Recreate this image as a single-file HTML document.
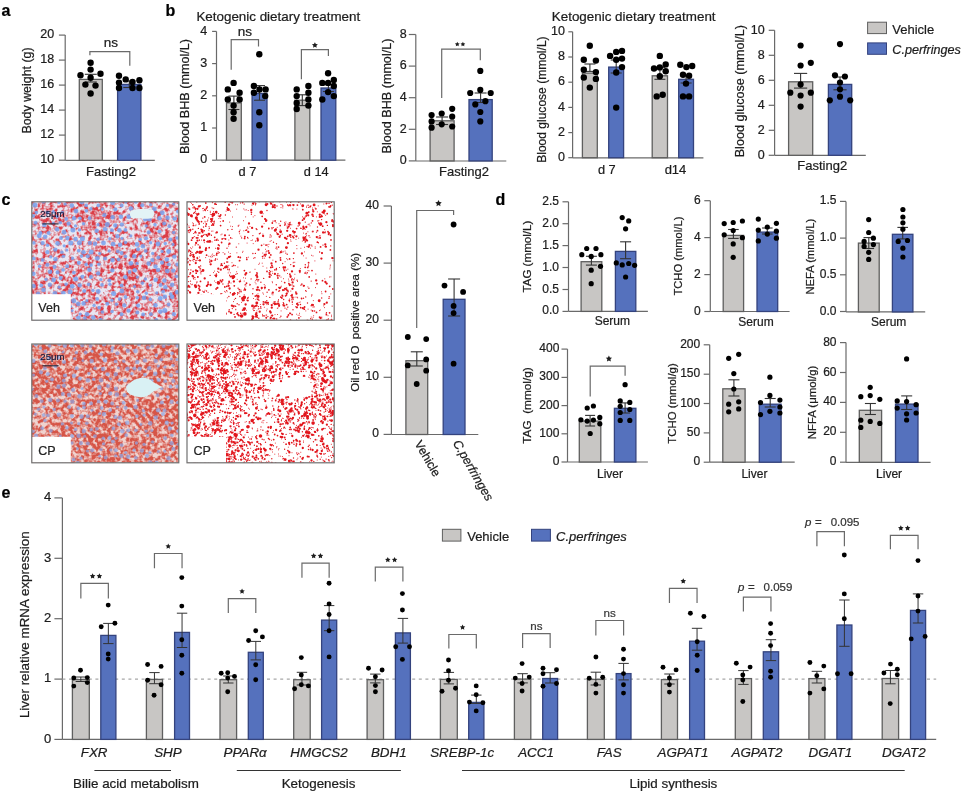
<!DOCTYPE html>
<html><head><meta charset="utf-8"><style>
html,body{margin:0;padding:0;background:#fff;}
body{width:963px;height:792px;overflow:hidden;}
svg{display:block;will-change:transform;}
text{font-family:"Liberation Sans", sans-serif;stroke-width:0.22px;paint-order:stroke;}
</style></head><body>
<svg width="963" height="792" viewBox="0 0 963 792" font-family='"Liberation Sans", sans-serif'><defs>
 <filter id="fred1" x="0" y="0" width="1" height="1" filterUnits="objectBoundingBox" color-interpolation-filters="sRGB">
  <feTurbulence type="fractalNoise" baseFrequency="0.26" numOctaves="2" seed="4" result="t1"/>
  <feColorMatrix in="t1" type="matrix" values="1 0 0 0 0  0 0 0 0 0  0 0 0 0 0  0 0 0 0 1" result="n1"/>
  <feTurbulence type="fractalNoise" baseFrequency="0.035" numOctaves="2" seed="31" result="t2"/>
  <feColorMatrix in="t2" type="matrix" values="1 0 0 0 0  0 0 0 0 0  0 0 0 0 0  0 0 0 0 1" result="n2"/>
  <feComposite in="n1" in2="n2" operator="arithmetic" k1="0" k2="1" k3="0.2" k4="-0.1" result="n"/>
  <feColorMatrix in="n" type="matrix" values="0 0 0 0 0.86  0 0 0 0 0.24  0 0 0 0 0.28  3.3 0 0 0 -1.3"/>
  <feGaussianBlur stdDeviation="0.45"/>
 </filter>
 <filter id="fred2" x="0" y="0" width="1" height="1" filterUnits="objectBoundingBox" color-interpolation-filters="sRGB">
  <feTurbulence type="fractalNoise" baseFrequency="0.26" numOctaves="2" seed="7" result="t1"/>
  <feColorMatrix in="t1" type="matrix" values="1 0 0 0 0  0 0 0 0 0  0 0 0 0 0  0 0 0 0 1" result="n1"/>
  <feTurbulence type="fractalNoise" baseFrequency="0.035" numOctaves="2" seed="33" result="t2"/>
  <feColorMatrix in="t2" type="matrix" values="1 0 0 0 0  0 0 0 0 0  0 0 0 0 0  0 0 0 0 1" result="n2"/>
  <feComposite in="n1" in2="n2" operator="arithmetic" k1="0" k2="1" k3="0.2" k4="-0.1" result="n"/>
  <feColorMatrix in="n" type="matrix" values="0 0 0 0 0.84  0 0 0 0 0.33  0 0 0 0 0.28  3.6 0 0 0 -1.2"/>
  <feGaussianBlur stdDeviation="0.4"/>
 </filter>
 <filter id="fsp1" x="0" y="0" width="1" height="1" filterUnits="objectBoundingBox" color-interpolation-filters="sRGB">
  <feTurbulence type="fractalNoise" baseFrequency="0.36" numOctaves="1" seed="21" result="t1"/>
  <feColorMatrix in="t1" type="matrix" values="1 0 0 0 0  0 0 0 0 0  0 0 0 0 0  0 0 0 0 1" result="n1"/>
  <feTurbulence type="fractalNoise" baseFrequency="0.035" numOctaves="2" seed="35" result="t2"/>
  <feColorMatrix in="t2" type="matrix" values="1 0 0 0 0  0 0 0 0 0  0 0 0 0 0  0 0 0 0 1" result="n2"/>
  <feComposite in="n1" in2="n2" operator="arithmetic" k1="0" k2="1" k3="0.35" k4="-0.175" result="n"/>
  <feColorMatrix in="n" type="matrix" values="0 0 0 0 0.92  0 0 0 0 0.12  0 0 0 0 0.14  14 0 0 0 -8.6"/>
  <feGaussianBlur stdDeviation="0.5"/>
 </filter>
 <filter id="fsp2" x="0" y="0" width="1" height="1" filterUnits="objectBoundingBox" color-interpolation-filters="sRGB">
  <feTurbulence type="fractalNoise" baseFrequency="0.36" numOctaves="1" seed="23" result="t1"/>
  <feColorMatrix in="t1" type="matrix" values="1 0 0 0 0  0 0 0 0 0  0 0 0 0 0  0 0 0 0 1" result="n1"/>
  <feTurbulence type="fractalNoise" baseFrequency="0.035" numOctaves="2" seed="37" result="t2"/>
  <feColorMatrix in="t2" type="matrix" values="1 0 0 0 0  0 0 0 0 0  0 0 0 0 0  0 0 0 0 1" result="n2"/>
  <feComposite in="n1" in2="n2" operator="arithmetic" k1="0" k2="1" k3="0.35" k4="-0.175" result="n"/>
  <feColorMatrix in="n" type="matrix" values="0 0 0 0 0.92  0 0 0 0 0.12  0 0 0 0 0.14  14 0 0 0 -7.6"/>
  <feGaussianBlur stdDeviation="0.5"/>
 </filter>
 <filter id="fbl" x="-5%" y="-5%" width="110%" height="110%"><feGaussianBlur stdDeviation="0.5"/></filter>
 <filter id="fsb" x="-5%" y="-5%" width="110%" height="110%"><feGaussianBlur stdDeviation="0.3"/></filter>
 <filter id="fbl2" x="-5%" y="-5%" width="110%" height="110%"><feGaussianBlur stdDeviation="0.75"/></filter>
 <clipPath id="c1"><rect x="31.8" y="201.8" width="147" height="118.4"/></clipPath>
 <clipPath id="c3"><rect x="31.8" y="344.0" width="147" height="118.8"/></clipPath>
<clipPath id="cl11"><rect x="187.0" y="201.8" width="147.2" height="118.4"/></clipPath><clipPath id="cl17"><rect x="187.0" y="344.0" width="147.2" height="118.8"/></clipPath></defs>
<text x="1.50" y="15.50" font-size="16" text-anchor="start" font-weight="bold" font-style="normal" fill="#000" stroke="#000" >a</text>
<text x="165.50" y="15.50" font-size="16" text-anchor="start" font-weight="bold" font-style="normal" fill="#000" stroke="#000" >b</text>
<text x="1.50" y="204.50" font-size="16" text-anchor="start" font-weight="bold" font-style="normal" fill="#000" stroke="#000" >c</text>
<text x="495.50" y="204.50" font-size="16" text-anchor="start" font-weight="bold" font-style="normal" fill="#000" stroke="#000" >d</text>
<text x="1.50" y="498.00" font-size="16" text-anchor="start" font-weight="bold" font-style="normal" fill="#000" stroke="#000" >e</text>
<line x1="65.20" y1="35.10" x2="65.20" y2="160.30" stroke="#6a6a6a" stroke-width="1.2" />
<line x1="65.20" y1="160.30" x2="154.80" y2="160.30" stroke="#6a6a6a" stroke-width="1.2" />
<line x1="58.90" y1="35.10" x2="65.20" y2="35.10" stroke="#6a6a6a" stroke-width="1.2" />
<text x="54.20" y="38.30" font-size="12.5" text-anchor="end" font-weight="normal" font-style="normal" fill="#1c1c1c" stroke="#1c1c1c" >20</text>
<line x1="58.90" y1="60.10" x2="65.20" y2="60.10" stroke="#6a6a6a" stroke-width="1.2" />
<text x="54.20" y="63.30" font-size="12.5" text-anchor="end" font-weight="normal" font-style="normal" fill="#1c1c1c" stroke="#1c1c1c" >18</text>
<line x1="58.90" y1="85.10" x2="65.20" y2="85.10" stroke="#6a6a6a" stroke-width="1.2" />
<text x="54.20" y="88.30" font-size="12.5" text-anchor="end" font-weight="normal" font-style="normal" fill="#1c1c1c" stroke="#1c1c1c" >16</text>
<line x1="58.90" y1="110.10" x2="65.20" y2="110.10" stroke="#6a6a6a" stroke-width="1.2" />
<text x="54.20" y="113.30" font-size="12.5" text-anchor="end" font-weight="normal" font-style="normal" fill="#1c1c1c" stroke="#1c1c1c" >14</text>
<line x1="58.90" y1="135.10" x2="65.20" y2="135.10" stroke="#6a6a6a" stroke-width="1.2" />
<text x="54.20" y="138.30" font-size="12.5" text-anchor="end" font-weight="normal" font-style="normal" fill="#1c1c1c" stroke="#1c1c1c" >12</text>
<line x1="58.90" y1="160.20" x2="65.20" y2="160.20" stroke="#6a6a6a" stroke-width="1.2" />
<text x="54.20" y="163.40" font-size="12.5" text-anchor="end" font-weight="normal" font-style="normal" fill="#1c1c1c" stroke="#1c1c1c" >10</text>
<rect x="79.30" y="79.40" width="23.00" height="80.90" fill="#c8c6c4" stroke="#5f5f5f" stroke-width="1.3"/>
<rect x="117.60" y="84.40" width="23.30" height="75.90" fill="#5571bd" stroke="#34437e" stroke-width="1.3"/>
<line x1="90.80" y1="74.30" x2="90.80" y2="82.00" stroke="#333" stroke-width="1.1" />
<line x1="84.80" y1="74.30" x2="96.80" y2="74.30" stroke="#333" stroke-width="1.1" />
<line x1="84.80" y1="82.00" x2="96.80" y2="82.00" stroke="#333" stroke-width="1.1" />
<line x1="129.30" y1="81.00" x2="129.30" y2="87.50" stroke="#333" stroke-width="1.1" />
<line x1="123.30" y1="81.00" x2="135.30" y2="81.00" stroke="#333" stroke-width="1.1" />
<line x1="123.30" y1="87.50" x2="135.30" y2="87.50" stroke="#333" stroke-width="1.1" />
<circle cx="90.60" cy="62.80" r="3.2" fill="#000"/>
<circle cx="90.60" cy="69.60" r="3.2" fill="#000"/>
<circle cx="80.50" cy="75.30" r="3.2" fill="#000"/>
<circle cx="100.50" cy="73.80" r="3.2" fill="#000"/>
<circle cx="90.60" cy="77.70" r="3.2" fill="#000"/>
<circle cx="85.40" cy="84.60" r="3.2" fill="#000"/>
<circle cx="95.50" cy="85.60" r="3.2" fill="#000"/>
<circle cx="90.60" cy="93.50" r="3.2" fill="#000"/>
<circle cx="119.00" cy="75.80" r="3.2" fill="#000"/>
<circle cx="125.70" cy="79.40" r="3.2" fill="#000"/>
<circle cx="132.50" cy="82.00" r="3.2" fill="#000"/>
<circle cx="139.40" cy="80.20" r="3.2" fill="#000"/>
<circle cx="119.00" cy="82.60" r="3.2" fill="#000"/>
<circle cx="119.00" cy="88.00" r="3.2" fill="#000"/>
<circle cx="132.50" cy="88.00" r="3.2" fill="#000"/>
<circle cx="139.40" cy="88.00" r="3.2" fill="#000"/>
<polyline points="89.90,55.30 89.90,51.70 129.80,51.70 129.80,65.70" fill="none" stroke="#6a6a6a" stroke-width="1.2"/>
<text x="110.90" y="46.50" font-size="13.5" text-anchor="middle" font-weight="normal" font-style="normal" fill="#1c1c1c" stroke="#1c1c1c" >ns</text>
<text x="111.00" y="175.60" font-size="13" text-anchor="middle" font-weight="normal" font-style="normal" fill="#1c1c1c" stroke="#1c1c1c" >Fasting2</text>
<text x="31.40" y="90.50" font-size="12.4" text-anchor="middle" font-weight="normal" font-style="normal" fill="#1c1c1c" stroke="#1c1c1c" transform="rotate(-90 31.40 90.50)" >Body weight (g)</text>
<text x="196.40" y="20.90" font-size="13.4" text-anchor="start" font-weight="normal" font-style="normal" fill="#1c1c1c" stroke="#1c1c1c" >Ketogenic dietary treatment</text>
<line x1="216.50" y1="31.40" x2="216.50" y2="160.20" stroke="#6a6a6a" stroke-width="1.2" />
<line x1="216.50" y1="160.20" x2="345.40" y2="160.20" stroke="#6a6a6a" stroke-width="1.2" />
<line x1="212.10" y1="31.40" x2="216.50" y2="31.40" stroke="#6a6a6a" stroke-width="1.2" />
<text x="207.20" y="34.60" font-size="12.5" text-anchor="end" font-weight="normal" font-style="normal" fill="#1c1c1c" stroke="#1c1c1c" >4</text>
<line x1="212.10" y1="63.60" x2="216.50" y2="63.60" stroke="#6a6a6a" stroke-width="1.2" />
<text x="207.20" y="66.80" font-size="12.5" text-anchor="end" font-weight="normal" font-style="normal" fill="#1c1c1c" stroke="#1c1c1c" >3</text>
<line x1="212.10" y1="95.80" x2="216.50" y2="95.80" stroke="#6a6a6a" stroke-width="1.2" />
<text x="207.20" y="99.00" font-size="12.5" text-anchor="end" font-weight="normal" font-style="normal" fill="#1c1c1c" stroke="#1c1c1c" >2</text>
<line x1="212.10" y1="128.00" x2="216.50" y2="128.00" stroke="#6a6a6a" stroke-width="1.2" />
<text x="207.20" y="131.20" font-size="12.5" text-anchor="end" font-weight="normal" font-style="normal" fill="#1c1c1c" stroke="#1c1c1c" >1</text>
<line x1="212.10" y1="160.20" x2="216.50" y2="160.20" stroke="#6a6a6a" stroke-width="1.2" />
<text x="207.20" y="163.40" font-size="12.5" text-anchor="end" font-weight="normal" font-style="normal" fill="#1c1c1c" stroke="#1c1c1c" >0</text>
<rect x="226.50" y="102.90" width="14.80" height="57.30" fill="#c8c6c4" stroke="#5f5f5f" stroke-width="1.3"/>
<rect x="252.10" y="93.40" width="14.90" height="66.80" fill="#5571bd" stroke="#34437e" stroke-width="1.3"/>
<rect x="294.90" y="100.20" width="14.90" height="60.00" fill="#c8c6c4" stroke="#5f5f5f" stroke-width="1.3"/>
<rect x="321.00" y="88.00" width="14.80" height="72.20" fill="#5571bd" stroke="#34437e" stroke-width="1.3"/>
<line x1="233.90" y1="96.10" x2="233.90" y2="109.50" stroke="#333" stroke-width="1.1" />
<line x1="228.40" y1="96.10" x2="239.40" y2="96.10" stroke="#333" stroke-width="1.1" />
<line x1="228.40" y1="109.50" x2="239.40" y2="109.50" stroke="#333" stroke-width="1.1" />
<line x1="259.50" y1="85.60" x2="259.50" y2="100.20" stroke="#333" stroke-width="1.1" />
<line x1="254.00" y1="85.60" x2="265.00" y2="85.60" stroke="#333" stroke-width="1.1" />
<line x1="254.00" y1="100.20" x2="265.00" y2="100.20" stroke="#333" stroke-width="1.1" />
<line x1="302.30" y1="94.80" x2="302.30" y2="105.60" stroke="#333" stroke-width="1.1" />
<line x1="296.80" y1="94.80" x2="307.80" y2="94.80" stroke="#333" stroke-width="1.1" />
<line x1="296.80" y1="105.60" x2="307.80" y2="105.60" stroke="#333" stroke-width="1.1" />
<line x1="328.40" y1="84.70" x2="328.40" y2="91.50" stroke="#333" stroke-width="1.1" />
<line x1="322.90" y1="84.70" x2="333.90" y2="84.70" stroke="#333" stroke-width="1.1" />
<line x1="322.90" y1="91.50" x2="333.90" y2="91.50" stroke="#333" stroke-width="1.1" />
<circle cx="233.60" cy="82.90" r="3.2" fill="#000"/>
<circle cx="227.80" cy="89.40" r="3.2" fill="#000"/>
<circle cx="239.60" cy="92.80" r="3.2" fill="#000"/>
<circle cx="227.80" cy="99.50" r="3.2" fill="#000"/>
<circle cx="239.60" cy="99.50" r="3.2" fill="#000"/>
<circle cx="233.60" cy="105.60" r="3.2" fill="#000"/>
<circle cx="233.60" cy="112.30" r="3.2" fill="#000"/>
<circle cx="233.60" cy="118.80" r="3.2" fill="#000"/>
<circle cx="259.30" cy="54.30" r="3.2" fill="#000"/>
<circle cx="253.90" cy="86.00" r="3.2" fill="#000"/>
<circle cx="259.50" cy="89.40" r="3.2" fill="#000"/>
<circle cx="265.60" cy="89.40" r="3.2" fill="#000"/>
<circle cx="253.90" cy="92.80" r="3.2" fill="#000"/>
<circle cx="265.20" cy="96.10" r="3.2" fill="#000"/>
<circle cx="259.30" cy="112.30" r="3.2" fill="#000"/>
<circle cx="259.30" cy="125.20" r="3.2" fill="#000"/>
<circle cx="296.70" cy="89.40" r="3.2" fill="#000"/>
<circle cx="308.40" cy="86.00" r="3.2" fill="#000"/>
<circle cx="296.70" cy="96.10" r="3.2" fill="#000"/>
<circle cx="308.40" cy="92.80" r="3.2" fill="#000"/>
<circle cx="296.70" cy="102.90" r="3.2" fill="#000"/>
<circle cx="308.40" cy="99.50" r="3.2" fill="#000"/>
<circle cx="296.70" cy="109.00" r="3.2" fill="#000"/>
<circle cx="308.40" cy="105.60" r="3.2" fill="#000"/>
<circle cx="328.10" cy="73.20" r="3.2" fill="#000"/>
<circle cx="333.80" cy="80.00" r="3.2" fill="#000"/>
<circle cx="322.30" cy="82.90" r="3.2" fill="#000"/>
<circle cx="328.10" cy="82.90" r="3.2" fill="#000"/>
<circle cx="333.80" cy="86.00" r="3.2" fill="#000"/>
<circle cx="328.10" cy="92.10" r="3.2" fill="#000"/>
<circle cx="322.30" cy="99.50" r="3.2" fill="#000"/>
<circle cx="333.80" cy="96.10" r="3.2" fill="#000"/>
<polyline points="231.20,69.80 231.20,39.70 258.50,39.70 258.50,46.50" fill="none" stroke="#6a6a6a" stroke-width="1.2"/>
<text x="245.00" y="35.50" font-size="13.5" text-anchor="middle" font-weight="normal" font-style="normal" fill="#1c1c1c" stroke="#1c1c1c" >ns</text>
<polyline points="301.40,79.30 301.40,49.60 328.40,49.60 328.40,55.90" fill="none" stroke="#6a6a6a" stroke-width="1.2"/>
<polygon points="314.90,42.20 315.81,44.05 317.85,44.34 316.37,45.78 316.72,47.81 314.90,46.85 313.08,47.81 313.43,45.78 311.95,44.34 313.99,44.05" fill="#1e1e1e"/>
<text x="247.50" y="175.50" font-size="12.8" text-anchor="middle" font-weight="normal" font-style="normal" fill="#1c1c1c" stroke="#1c1c1c" >d 7</text>
<text x="316.20" y="175.50" font-size="12.8" text-anchor="middle" font-weight="normal" font-style="normal" fill="#1c1c1c" stroke="#1c1c1c" >d 14</text>
<text x="189.00" y="96.50" font-size="12.6" text-anchor="middle" font-weight="normal" font-style="normal" fill="#1c1c1c" stroke="#1c1c1c" transform="rotate(-90 189.00 96.50)" >Blood BHB (mmol/L)</text>
<line x1="415.80" y1="34.50" x2="415.80" y2="161.00" stroke="#6a6a6a" stroke-width="1.2" />
<line x1="415.80" y1="161.00" x2="506.30" y2="161.00" stroke="#6a6a6a" stroke-width="1.2" />
<line x1="408.80" y1="34.50" x2="415.80" y2="34.50" stroke="#6a6a6a" stroke-width="1.2" />
<text x="406.70" y="37.70" font-size="12.5" text-anchor="end" font-weight="normal" font-style="normal" fill="#1c1c1c" stroke="#1c1c1c" >8</text>
<line x1="408.80" y1="66.10" x2="415.80" y2="66.10" stroke="#6a6a6a" stroke-width="1.2" />
<text x="406.70" y="69.30" font-size="12.5" text-anchor="end" font-weight="normal" font-style="normal" fill="#1c1c1c" stroke="#1c1c1c" >6</text>
<line x1="408.80" y1="97.70" x2="415.80" y2="97.70" stroke="#6a6a6a" stroke-width="1.2" />
<text x="406.70" y="100.90" font-size="12.5" text-anchor="end" font-weight="normal" font-style="normal" fill="#1c1c1c" stroke="#1c1c1c" >4</text>
<line x1="408.80" y1="129.30" x2="415.80" y2="129.30" stroke="#6a6a6a" stroke-width="1.2" />
<text x="406.70" y="132.50" font-size="12.5" text-anchor="end" font-weight="normal" font-style="normal" fill="#1c1c1c" stroke="#1c1c1c" >2</text>
<line x1="408.80" y1="160.90" x2="415.80" y2="160.90" stroke="#6a6a6a" stroke-width="1.2" />
<text x="406.70" y="164.10" font-size="12.5" text-anchor="end" font-weight="normal" font-style="normal" fill="#1c1c1c" stroke="#1c1c1c" >0</text>
<rect x="430.10" y="120.80" width="24.00" height="40.10" fill="#c8c6c4" stroke="#5f5f5f" stroke-width="1.3"/>
<rect x="469.00" y="99.60" width="23.20" height="61.30" fill="#5571bd" stroke="#34437e" stroke-width="1.3"/>
<line x1="442.10" y1="117.00" x2="442.10" y2="124.50" stroke="#333" stroke-width="1.1" />
<line x1="436.10" y1="117.00" x2="448.10" y2="117.00" stroke="#333" stroke-width="1.1" />
<line x1="436.10" y1="124.50" x2="448.10" y2="124.50" stroke="#333" stroke-width="1.1" />
<line x1="480.60" y1="93.00" x2="480.60" y2="102.50" stroke="#333" stroke-width="1.1" />
<line x1="474.60" y1="93.00" x2="486.60" y2="93.00" stroke="#333" stroke-width="1.1" />
<line x1="474.60" y1="102.50" x2="486.60" y2="102.50" stroke="#333" stroke-width="1.1" />
<circle cx="431.60" cy="115.10" r="3.1" fill="#000"/>
<circle cx="441.70" cy="113.50" r="3.1" fill="#000"/>
<circle cx="452.20" cy="108.80" r="3.1" fill="#000"/>
<circle cx="431.60" cy="121.40" r="3.1" fill="#000"/>
<circle cx="452.20" cy="116.70" r="3.1" fill="#000"/>
<circle cx="441.70" cy="124.30" r="3.1" fill="#000"/>
<circle cx="431.60" cy="127.70" r="3.1" fill="#000"/>
<circle cx="452.20" cy="126.50" r="3.1" fill="#000"/>
<circle cx="480.30" cy="70.90" r="3.1" fill="#000"/>
<circle cx="480.30" cy="89.90" r="3.1" fill="#000"/>
<circle cx="470.20" cy="93.00" r="3.1" fill="#000"/>
<circle cx="490.70" cy="93.00" r="3.1" fill="#000"/>
<circle cx="485.40" cy="101.20" r="3.1" fill="#000"/>
<circle cx="475.30" cy="104.40" r="3.1" fill="#000"/>
<circle cx="480.30" cy="112.00" r="3.1" fill="#000"/>
<circle cx="480.30" cy="121.40" r="3.1" fill="#000"/>
<polyline points="441.70,98.10 441.70,49.10 480.30,49.10 480.30,60.20" fill="none" stroke="#6a6a6a" stroke-width="1.2"/>
<polygon points="457.30,41.80 458.03,43.29 459.68,43.53 458.49,44.69 458.77,46.32 457.30,45.55 455.83,46.32 456.11,44.69 454.92,43.53 456.57,43.29" fill="#1e1e1e"/>
<polygon points="462.90,41.80 463.63,43.29 465.28,43.53 464.09,44.69 464.37,46.32 462.90,45.55 461.43,46.32 461.71,44.69 460.52,43.53 462.17,43.29" fill="#1e1e1e"/>
<text x="464.00" y="175.50" font-size="13" text-anchor="middle" font-weight="normal" font-style="normal" fill="#1c1c1c" stroke="#1c1c1c" >Fasting2</text>
<text x="391.20" y="96.00" font-size="12.6" text-anchor="middle" font-weight="normal" font-style="normal" fill="#1c1c1c" stroke="#1c1c1c" transform="rotate(-90 391.20 96.00)" >Blood BHB (mmol/L)</text>
<text x="551.80" y="20.90" font-size="13.4" text-anchor="start" font-weight="normal" font-style="normal" fill="#1c1c1c" stroke="#1c1c1c" >Ketogenic dietary treatment</text>
<line x1="572.60" y1="31.80" x2="572.60" y2="157.90" stroke="#6a6a6a" stroke-width="1.2" />
<line x1="572.60" y1="157.90" x2="703.40" y2="157.90" stroke="#6a6a6a" stroke-width="1.2" />
<line x1="568.30" y1="31.80" x2="572.60" y2="31.80" stroke="#6a6a6a" stroke-width="1.2" />
<text x="565.00" y="35.00" font-size="12.5" text-anchor="end" font-weight="normal" font-style="normal" fill="#1c1c1c" stroke="#1c1c1c" >10</text>
<line x1="568.30" y1="57.00" x2="572.60" y2="57.00" stroke="#6a6a6a" stroke-width="1.2" />
<text x="565.00" y="60.20" font-size="12.5" text-anchor="end" font-weight="normal" font-style="normal" fill="#1c1c1c" stroke="#1c1c1c" >8</text>
<line x1="568.30" y1="82.20" x2="572.60" y2="82.20" stroke="#6a6a6a" stroke-width="1.2" />
<text x="565.00" y="85.40" font-size="12.5" text-anchor="end" font-weight="normal" font-style="normal" fill="#1c1c1c" stroke="#1c1c1c" >6</text>
<line x1="568.30" y1="107.40" x2="572.60" y2="107.40" stroke="#6a6a6a" stroke-width="1.2" />
<text x="565.00" y="110.60" font-size="12.5" text-anchor="end" font-weight="normal" font-style="normal" fill="#1c1c1c" stroke="#1c1c1c" >4</text>
<line x1="568.30" y1="132.60" x2="572.60" y2="132.60" stroke="#6a6a6a" stroke-width="1.2" />
<text x="565.00" y="135.80" font-size="12.5" text-anchor="end" font-weight="normal" font-style="normal" fill="#1c1c1c" stroke="#1c1c1c" >2</text>
<line x1="568.30" y1="157.70" x2="572.60" y2="157.70" stroke="#6a6a6a" stroke-width="1.2" />
<text x="565.00" y="160.90" font-size="12.5" text-anchor="end" font-weight="normal" font-style="normal" fill="#1c1c1c" stroke="#1c1c1c" >0</text>
<rect x="582.40" y="73.10" width="14.90" height="84.60" fill="#c8c6c4" stroke="#5f5f5f" stroke-width="1.3"/>
<rect x="608.70" y="67.10" width="14.90" height="90.60" fill="#5571bd" stroke="#34437e" stroke-width="1.3"/>
<rect x="652.20" y="75.80" width="15.30" height="81.90" fill="#c8c6c4" stroke="#5f5f5f" stroke-width="1.3"/>
<rect x="678.70" y="79.30" width="14.80" height="78.40" fill="#5571bd" stroke="#34437e" stroke-width="1.3"/>
<line x1="589.90" y1="64.00" x2="589.90" y2="71.40" stroke="#333" stroke-width="1.1" />
<line x1="584.40" y1="64.00" x2="595.40" y2="64.00" stroke="#333" stroke-width="1.1" />
<line x1="584.40" y1="71.40" x2="595.40" y2="71.40" stroke="#333" stroke-width="1.1" />
<line x1="616.20" y1="60.00" x2="616.20" y2="73.00" stroke="#333" stroke-width="1.1" />
<line x1="610.70" y1="60.00" x2="621.70" y2="60.00" stroke="#333" stroke-width="1.1" />
<line x1="610.70" y1="73.00" x2="621.70" y2="73.00" stroke="#333" stroke-width="1.1" />
<line x1="659.90" y1="67.40" x2="659.90" y2="79.30" stroke="#333" stroke-width="1.1" />
<line x1="654.40" y1="67.40" x2="665.40" y2="67.40" stroke="#333" stroke-width="1.1" />
<line x1="654.40" y1="79.30" x2="665.40" y2="79.30" stroke="#333" stroke-width="1.1" />
<line x1="686.10" y1="75.50" x2="686.10" y2="83.00" stroke="#333" stroke-width="1.1" />
<line x1="680.60" y1="75.50" x2="691.60" y2="75.50" stroke="#333" stroke-width="1.1" />
<line x1="680.60" y1="83.00" x2="691.60" y2="83.00" stroke="#333" stroke-width="1.1" />
<circle cx="589.80" cy="45.80" r="3.2" fill="#000"/>
<circle cx="583.80" cy="59.70" r="3.2" fill="#000"/>
<circle cx="595.90" cy="60.60" r="3.2" fill="#000"/>
<circle cx="583.80" cy="69.80" r="3.2" fill="#000"/>
<circle cx="595.90" cy="72.10" r="3.2" fill="#000"/>
<circle cx="583.80" cy="77.50" r="3.2" fill="#000"/>
<circle cx="595.90" cy="78.90" r="3.2" fill="#000"/>
<circle cx="589.80" cy="87.60" r="3.2" fill="#000"/>
<circle cx="616.20" cy="51.90" r="3.2" fill="#000"/>
<circle cx="622.00" cy="50.90" r="3.2" fill="#000"/>
<circle cx="610.10" cy="55.90" r="3.2" fill="#000"/>
<circle cx="616.20" cy="59.70" r="3.2" fill="#000"/>
<circle cx="622.00" cy="58.60" r="3.2" fill="#000"/>
<circle cx="622.00" cy="67.10" r="3.2" fill="#000"/>
<circle cx="616.20" cy="72.50" r="3.2" fill="#000"/>
<circle cx="616.20" cy="107.60" r="3.2" fill="#000"/>
<circle cx="659.80" cy="55.90" r="3.2" fill="#000"/>
<circle cx="665.70" cy="64.40" r="3.2" fill="#000"/>
<circle cx="654.00" cy="68.50" r="3.2" fill="#000"/>
<circle cx="659.80" cy="67.40" r="3.2" fill="#000"/>
<circle cx="665.70" cy="71.20" r="3.2" fill="#000"/>
<circle cx="659.80" cy="76.20" r="3.2" fill="#000"/>
<circle cx="656.70" cy="96.40" r="3.2" fill="#000"/>
<circle cx="662.70" cy="94.70" r="3.2" fill="#000"/>
<circle cx="680.30" cy="64.70" r="3.2" fill="#000"/>
<circle cx="686.40" cy="67.10" r="3.2" fill="#000"/>
<circle cx="692.20" cy="66.00" r="3.2" fill="#000"/>
<circle cx="683.00" cy="74.80" r="3.2" fill="#000"/>
<circle cx="689.10" cy="75.80" r="3.2" fill="#000"/>
<circle cx="686.00" cy="83.60" r="3.2" fill="#000"/>
<circle cx="683.00" cy="96.40" r="3.2" fill="#000"/>
<circle cx="689.10" cy="96.40" r="3.2" fill="#000"/>
<text x="606.80" y="174.00" font-size="12.8" text-anchor="middle" font-weight="normal" font-style="normal" fill="#1c1c1c" stroke="#1c1c1c" >d 7</text>
<text x="675.50" y="174.00" font-size="13" text-anchor="middle" font-weight="normal" font-style="normal" fill="#1c1c1c" stroke="#1c1c1c" >d14</text>
<text x="545.70" y="99.60" font-size="12.04" text-anchor="middle" font-weight="normal" font-style="normal" fill="#1c1c1c" stroke="#1c1c1c" transform="rotate(-90 545.70 99.60)" >Blood glucose (mmol/L)</text>
<line x1="774.60" y1="30.30" x2="774.60" y2="155.30" stroke="#6a6a6a" stroke-width="1.2" />
<line x1="774.60" y1="155.30" x2="865.80" y2="155.30" stroke="#6a6a6a" stroke-width="1.2" />
<line x1="768.70" y1="30.30" x2="774.60" y2="30.30" stroke="#6a6a6a" stroke-width="1.2" />
<text x="764.60" y="33.50" font-size="12.5" text-anchor="end" font-weight="normal" font-style="normal" fill="#1c1c1c" stroke="#1c1c1c" >10</text>
<line x1="768.70" y1="55.30" x2="774.60" y2="55.30" stroke="#6a6a6a" stroke-width="1.2" />
<text x="764.60" y="58.50" font-size="12.5" text-anchor="end" font-weight="normal" font-style="normal" fill="#1c1c1c" stroke="#1c1c1c" >8</text>
<line x1="768.70" y1="80.30" x2="774.60" y2="80.30" stroke="#6a6a6a" stroke-width="1.2" />
<text x="764.60" y="83.50" font-size="12.5" text-anchor="end" font-weight="normal" font-style="normal" fill="#1c1c1c" stroke="#1c1c1c" >6</text>
<line x1="768.70" y1="105.30" x2="774.60" y2="105.30" stroke="#6a6a6a" stroke-width="1.2" />
<text x="764.60" y="108.50" font-size="12.5" text-anchor="end" font-weight="normal" font-style="normal" fill="#1c1c1c" stroke="#1c1c1c" >4</text>
<line x1="768.70" y1="130.30" x2="774.60" y2="130.30" stroke="#6a6a6a" stroke-width="1.2" />
<text x="764.60" y="133.50" font-size="12.5" text-anchor="end" font-weight="normal" font-style="normal" fill="#1c1c1c" stroke="#1c1c1c" >2</text>
<line x1="768.70" y1="155.30" x2="774.60" y2="155.30" stroke="#6a6a6a" stroke-width="1.2" />
<text x="764.60" y="158.50" font-size="12.5" text-anchor="end" font-weight="normal" font-style="normal" fill="#1c1c1c" stroke="#1c1c1c" >0</text>
<rect x="788.60" y="81.80" width="24.10" height="73.50" fill="#c8c6c4" stroke="#5f5f5f" stroke-width="1.3"/>
<rect x="828.40" y="84.40" width="23.30" height="70.90" fill="#5571bd" stroke="#34437e" stroke-width="1.3"/>
<line x1="800.60" y1="73.40" x2="800.60" y2="88.10" stroke="#333" stroke-width="1.1" />
<line x1="794.00" y1="73.40" x2="807.20" y2="73.40" stroke="#333" stroke-width="1.1" />
<line x1="794.00" y1="88.10" x2="807.20" y2="88.10" stroke="#333" stroke-width="1.1" />
<line x1="840.00" y1="77.00" x2="840.00" y2="89.80" stroke="#333" stroke-width="1.1" />
<line x1="833.40" y1="77.00" x2="846.60" y2="77.00" stroke="#333" stroke-width="1.1" />
<line x1="833.40" y1="89.80" x2="846.60" y2="89.80" stroke="#333" stroke-width="1.1" />
<circle cx="800.60" cy="45.50" r="3.1" fill="#000"/>
<circle cx="800.60" cy="65.50" r="3.1" fill="#000"/>
<circle cx="810.80" cy="62.80" r="3.1" fill="#000"/>
<circle cx="800.60" cy="84.40" r="3.1" fill="#000"/>
<circle cx="790.30" cy="92.70" r="3.1" fill="#000"/>
<circle cx="810.80" cy="92.70" r="3.1" fill="#000"/>
<circle cx="800.60" cy="95.50" r="3.1" fill="#000"/>
<circle cx="800.60" cy="106.60" r="3.1" fill="#000"/>
<circle cx="840.00" cy="44.10" r="3.1" fill="#000"/>
<circle cx="835.00" cy="75.30" r="3.1" fill="#000"/>
<circle cx="844.90" cy="76.50" r="3.1" fill="#000"/>
<circle cx="840.00" cy="82.50" r="3.1" fill="#000"/>
<circle cx="840.00" cy="89.30" r="3.1" fill="#000"/>
<circle cx="840.00" cy="96.70" r="3.1" fill="#000"/>
<circle cx="829.80" cy="100.30" r="3.1" fill="#000"/>
<circle cx="850.20" cy="100.30" r="3.1" fill="#000"/>
<text x="822.20" y="170.30" font-size="13" text-anchor="middle" font-weight="normal" font-style="normal" fill="#1c1c1c" stroke="#1c1c1c" >Fasting2</text>
<text x="743.90" y="91.20" font-size="12.58" text-anchor="middle" font-weight="normal" font-style="normal" fill="#1c1c1c" stroke="#1c1c1c" transform="rotate(-90 743.90 91.20)" >Blood glucose (mmol/L)</text>
<rect x="867.60" y="22.20" width="18.90" height="11.40" fill="#c8c6c4" stroke="#5f5f5f" stroke-width="1"/>
<rect x="867.60" y="42.90" width="18.90" height="11.40" fill="#5571bd" stroke="#34437e" stroke-width="1"/>
<text x="892.30" y="34.00" font-size="13" text-anchor="start" font-weight="normal" font-style="normal" fill="#1c1c1c" stroke="#1c1c1c" >Vehicle</text>
<text x="892.30" y="54.30" font-size="12.6" text-anchor="start" font-weight="normal" font-style="italic" fill="#1c1c1c" stroke="#1c1c1c" >C.perfringes</text>
<line x1="391.40" y1="206.00" x2="391.40" y2="434.50" stroke="#6a6a6a" stroke-width="1.2" />
<line x1="391.40" y1="434.50" x2="478.30" y2="434.50" stroke="#6a6a6a" stroke-width="1.2" />
<line x1="383.60" y1="206.00" x2="391.40" y2="206.00" stroke="#6a6a6a" stroke-width="1.2" />
<text x="378.90" y="209.02" font-size="12" text-anchor="end" font-weight="normal" font-style="normal" fill="#1c1c1c" stroke="#1c1c1c" >40</text>
<line x1="383.60" y1="263.10" x2="391.40" y2="263.10" stroke="#6a6a6a" stroke-width="1.2" />
<text x="378.90" y="266.12" font-size="12" text-anchor="end" font-weight="normal" font-style="normal" fill="#1c1c1c" stroke="#1c1c1c" >30</text>
<line x1="383.60" y1="320.20" x2="391.40" y2="320.20" stroke="#6a6a6a" stroke-width="1.2" />
<text x="378.90" y="323.22" font-size="12" text-anchor="end" font-weight="normal" font-style="normal" fill="#1c1c1c" stroke="#1c1c1c" >20</text>
<line x1="383.60" y1="377.30" x2="391.40" y2="377.30" stroke="#6a6a6a" stroke-width="1.2" />
<text x="378.90" y="380.32" font-size="12" text-anchor="end" font-weight="normal" font-style="normal" fill="#1c1c1c" stroke="#1c1c1c" >10</text>
<line x1="383.60" y1="434.40" x2="391.40" y2="434.40" stroke="#6a6a6a" stroke-width="1.2" />
<text x="378.90" y="437.42" font-size="12" text-anchor="end" font-weight="normal" font-style="normal" fill="#1c1c1c" stroke="#1c1c1c" >0</text>
<rect x="405.90" y="360.70" width="21.80" height="73.80" fill="#c8c6c4" stroke="#5f5f5f" stroke-width="1.3"/>
<rect x="443.20" y="299.30" width="21.80" height="135.20" fill="#5571bd" stroke="#34437e" stroke-width="1.3"/>
<line x1="416.80" y1="351.80" x2="416.80" y2="366.00" stroke="#333" stroke-width="1.1" />
<line x1="410.80" y1="351.80" x2="422.80" y2="351.80" stroke="#333" stroke-width="1.1" />
<line x1="410.80" y1="366.00" x2="422.80" y2="366.00" stroke="#333" stroke-width="1.1" />
<line x1="454.10" y1="279.00" x2="454.10" y2="316.00" stroke="#333" stroke-width="1.1" />
<line x1="448.10" y1="279.00" x2="460.10" y2="279.00" stroke="#333" stroke-width="1.1" />
<line x1="448.10" y1="316.00" x2="460.10" y2="316.00" stroke="#333" stroke-width="1.1" />
<circle cx="407.80" cy="337.00" r="2.9" fill="#000"/>
<circle cx="426.20" cy="339.10" r="2.9" fill="#000"/>
<circle cx="426.20" cy="359.40" r="2.9" fill="#000"/>
<circle cx="407.80" cy="365.40" r="2.9" fill="#000"/>
<circle cx="426.20" cy="370.70" r="2.9" fill="#000"/>
<circle cx="416.70" cy="384.00" r="2.9" fill="#000"/>
<circle cx="453.60" cy="224.50" r="2.9" fill="#000"/>
<circle cx="444.50" cy="285.60" r="2.9" fill="#000"/>
<circle cx="463.10" cy="291.90" r="2.9" fill="#000"/>
<circle cx="453.60" cy="305.90" r="2.9" fill="#000"/>
<circle cx="453.60" cy="313.10" r="2.9" fill="#000"/>
<circle cx="453.60" cy="363.70" r="2.9" fill="#000"/>
<polyline points="416.70,327.90 416.70,210.50 453.60,210.50 453.60,215.00" fill="none" stroke="#6a6a6a" stroke-width="1.2"/>
<polygon points="438.50,200.00 439.50,202.02 441.73,202.35 440.12,203.93 440.50,206.15 438.50,205.10 436.50,206.15 436.88,203.93 435.27,202.35 437.50,202.02" fill="#1e1e1e"/>
<text x="359.50" y="322.30" font-size="11.5" text-anchor="middle" font-weight="normal" font-style="normal" fill="#1c1c1c" stroke="#1c1c1c" transform="rotate(-90 359.50 322.30)" >Oil red O&#160;&#160;positive area (%)</text>
<text x="414.30" y="443.50" font-size="12.2" text-anchor="start" font-weight="normal" font-style="normal" fill="#1c1c1c" stroke="#1c1c1c" transform="rotate(60 414.30 443.50)" >Vehicle</text>
<text x="452.50" y="443.00" font-size="12.5" text-anchor="start" font-weight="normal" font-style="italic" fill="#1c1c1c" stroke="#1c1c1c" transform="rotate(60 452.50 443.00)" >C.perfringes</text>
<line x1="568.50" y1="201.80" x2="568.50" y2="311.40" stroke="#6a6a6a" stroke-width="1.2" />
<line x1="568.50" y1="311.40" x2="647.90" y2="311.40" stroke="#6a6a6a" stroke-width="1.2" />
<line x1="562.50" y1="201.80" x2="568.50" y2="201.80" stroke="#6a6a6a" stroke-width="1.2" />
<text x="559.00" y="204.82" font-size="12" text-anchor="end" font-weight="normal" font-style="normal" fill="#1c1c1c" stroke="#1c1c1c" >2.5</text>
<line x1="562.50" y1="223.70" x2="568.50" y2="223.70" stroke="#6a6a6a" stroke-width="1.2" />
<text x="559.00" y="226.72" font-size="12" text-anchor="end" font-weight="normal" font-style="normal" fill="#1c1c1c" stroke="#1c1c1c" >2.0</text>
<line x1="562.50" y1="245.60" x2="568.50" y2="245.60" stroke="#6a6a6a" stroke-width="1.2" />
<text x="559.00" y="248.62" font-size="12" text-anchor="end" font-weight="normal" font-style="normal" fill="#1c1c1c" stroke="#1c1c1c" >1.5</text>
<line x1="562.50" y1="267.50" x2="568.50" y2="267.50" stroke="#6a6a6a" stroke-width="1.2" />
<text x="559.00" y="270.52" font-size="12" text-anchor="end" font-weight="normal" font-style="normal" fill="#1c1c1c" stroke="#1c1c1c" >1.0</text>
<line x1="562.50" y1="289.50" x2="568.50" y2="289.50" stroke="#6a6a6a" stroke-width="1.2" />
<text x="559.00" y="292.52" font-size="12" text-anchor="end" font-weight="normal" font-style="normal" fill="#1c1c1c" stroke="#1c1c1c" >0.5</text>
<line x1="562.50" y1="311.40" x2="568.50" y2="311.40" stroke="#6a6a6a" stroke-width="1.2" />
<text x="559.00" y="314.42" font-size="12" text-anchor="end" font-weight="normal" font-style="normal" fill="#1c1c1c" stroke="#1c1c1c" >0.0</text>
<rect x="581.10" y="261.70" width="20.70" height="49.70" fill="#c8c6c4" stroke="#5f5f5f" stroke-width="1.3"/>
<rect x="615.40" y="251.40" width="20.40" height="60.00" fill="#5571bd" stroke="#34437e" stroke-width="1.3"/>
<line x1="591.40" y1="256.30" x2="591.40" y2="265.10" stroke="#333" stroke-width="1.1" />
<line x1="585.90" y1="256.30" x2="596.90" y2="256.30" stroke="#333" stroke-width="1.1" />
<line x1="585.90" y1="265.10" x2="596.90" y2="265.10" stroke="#333" stroke-width="1.1" />
<line x1="625.60" y1="241.80" x2="625.60" y2="258.70" stroke="#333" stroke-width="1.1" />
<line x1="620.10" y1="241.80" x2="631.10" y2="241.80" stroke="#333" stroke-width="1.1" />
<line x1="620.10" y1="258.70" x2="631.10" y2="258.70" stroke="#333" stroke-width="1.1" />
<circle cx="586.70" cy="248.50" r="2.6" fill="#000"/>
<circle cx="596.00" cy="248.50" r="2.6" fill="#000"/>
<circle cx="581.80" cy="254.70" r="2.6" fill="#000"/>
<circle cx="591.20" cy="256.40" r="2.6" fill="#000"/>
<circle cx="600.90" cy="254.70" r="2.6" fill="#000"/>
<circle cx="600.50" cy="266.30" r="2.6" fill="#000"/>
<circle cx="591.20" cy="270.20" r="2.6" fill="#000"/>
<circle cx="591.20" cy="283.70" r="2.6" fill="#000"/>
<circle cx="622.20" cy="217.60" r="2.6" fill="#000"/>
<circle cx="628.70" cy="220.90" r="2.6" fill="#000"/>
<circle cx="625.60" cy="228.80" r="2.6" fill="#000"/>
<circle cx="616.30" cy="262.90" r="2.6" fill="#000"/>
<circle cx="622.20" cy="264.90" r="2.6" fill="#000"/>
<circle cx="628.70" cy="263.50" r="2.6" fill="#000"/>
<circle cx="634.60" cy="265.30" r="2.6" fill="#000"/>
<circle cx="625.60" cy="277.00" r="2.6" fill="#000"/>
<text x="612.30" y="325.40" font-size="12" text-anchor="middle" font-weight="normal" font-style="normal" fill="#1c1c1c" stroke="#1c1c1c" >Serum</text>
<text x="531.50" y="256.60" font-size="11.6" text-anchor="middle" font-weight="normal" font-style="normal" fill="#1c1c1c" stroke="#1c1c1c" transform="rotate(-90 531.50 256.60)" >TAG (mmol/L)</text>
<line x1="710.30" y1="200.70" x2="710.30" y2="311.50" stroke="#6a6a6a" stroke-width="1.2" />
<line x1="710.30" y1="311.50" x2="789.60" y2="311.50" stroke="#6a6a6a" stroke-width="1.2" />
<line x1="704.30" y1="200.70" x2="710.30" y2="200.70" stroke="#6a6a6a" stroke-width="1.2" />
<text x="700.80" y="203.72" font-size="12" text-anchor="end" font-weight="normal" font-style="normal" fill="#1c1c1c" stroke="#1c1c1c" >6</text>
<line x1="704.30" y1="237.60" x2="710.30" y2="237.60" stroke="#6a6a6a" stroke-width="1.2" />
<text x="700.80" y="240.62" font-size="12" text-anchor="end" font-weight="normal" font-style="normal" fill="#1c1c1c" stroke="#1c1c1c" >4</text>
<line x1="704.30" y1="274.60" x2="710.30" y2="274.60" stroke="#6a6a6a" stroke-width="1.2" />
<text x="700.80" y="277.62" font-size="12" text-anchor="end" font-weight="normal" font-style="normal" fill="#1c1c1c" stroke="#1c1c1c" >2</text>
<line x1="704.30" y1="311.50" x2="710.30" y2="311.50" stroke="#6a6a6a" stroke-width="1.2" />
<text x="700.80" y="314.52" font-size="12" text-anchor="end" font-weight="normal" font-style="normal" fill="#1c1c1c" stroke="#1c1c1c" >0</text>
<rect x="723.20" y="235.40" width="20.40" height="76.10" fill="#c8c6c4" stroke="#5f5f5f" stroke-width="1.3"/>
<rect x="757.00" y="232.10" width="20.70" height="79.40" fill="#5571bd" stroke="#34437e" stroke-width="1.3"/>
<line x1="733.40" y1="229.50" x2="733.40" y2="238.40" stroke="#333" stroke-width="1.1" />
<line x1="728.10" y1="229.50" x2="738.70" y2="229.50" stroke="#333" stroke-width="1.1" />
<line x1="728.10" y1="238.40" x2="738.70" y2="238.40" stroke="#333" stroke-width="1.1" />
<line x1="767.30" y1="228.00" x2="767.30" y2="234.00" stroke="#333" stroke-width="1.1" />
<line x1="762.00" y1="228.00" x2="772.60" y2="228.00" stroke="#333" stroke-width="1.1" />
<line x1="762.00" y1="234.00" x2="772.60" y2="234.00" stroke="#333" stroke-width="1.1" />
<circle cx="724.20" cy="223.60" r="2.6" fill="#000"/>
<circle cx="733.20" cy="222.50" r="2.6" fill="#000"/>
<circle cx="742.40" cy="221.00" r="2.6" fill="#000"/>
<circle cx="733.20" cy="230.50" r="2.6" fill="#000"/>
<circle cx="724.20" cy="234.80" r="2.6" fill="#000"/>
<circle cx="742.40" cy="237.70" r="2.6" fill="#000"/>
<circle cx="733.20" cy="243.90" r="2.6" fill="#000"/>
<circle cx="733.20" cy="257.30" r="2.6" fill="#000"/>
<circle cx="758.30" cy="219.10" r="2.6" fill="#000"/>
<circle cx="776.40" cy="223.30" r="2.6" fill="#000"/>
<circle cx="767.30" cy="227.00" r="2.6" fill="#000"/>
<circle cx="758.30" cy="230.10" r="2.6" fill="#000"/>
<circle cx="776.40" cy="231.20" r="2.6" fill="#000"/>
<circle cx="767.30" cy="234.10" r="2.6" fill="#000"/>
<circle cx="776.40" cy="238.20" r="2.6" fill="#000"/>
<circle cx="758.30" cy="240.90" r="2.6" fill="#000"/>
<text x="756.00" y="325.50" font-size="12" text-anchor="middle" font-weight="normal" font-style="normal" fill="#1c1c1c" stroke="#1c1c1c" >Serum</text>
<text x="682.30" y="256.10" font-size="11.2" text-anchor="middle" font-weight="normal" font-style="normal" fill="#1c1c1c" stroke="#1c1c1c" transform="rotate(-90 682.30 256.10)" >TCHO (mmol/L)</text>
<line x1="846.00" y1="201.40" x2="846.00" y2="311.90" stroke="#6a6a6a" stroke-width="1.2" />
<line x1="846.00" y1="311.90" x2="925.20" y2="311.90" stroke="#6a6a6a" stroke-width="1.2" />
<line x1="840.00" y1="201.40" x2="846.00" y2="201.40" stroke="#6a6a6a" stroke-width="1.2" />
<text x="836.50" y="204.42" font-size="12" text-anchor="end" font-weight="normal" font-style="normal" fill="#1c1c1c" stroke="#1c1c1c" >1.5</text>
<line x1="840.00" y1="238.10" x2="846.00" y2="238.10" stroke="#6a6a6a" stroke-width="1.2" />
<text x="836.50" y="241.12" font-size="12" text-anchor="end" font-weight="normal" font-style="normal" fill="#1c1c1c" stroke="#1c1c1c" >1.0</text>
<line x1="840.00" y1="274.80" x2="846.00" y2="274.80" stroke="#6a6a6a" stroke-width="1.2" />
<text x="836.50" y="277.82" font-size="12" text-anchor="end" font-weight="normal" font-style="normal" fill="#1c1c1c" stroke="#1c1c1c" >0.5</text>
<line x1="840.00" y1="311.50" x2="846.00" y2="311.50" stroke="#6a6a6a" stroke-width="1.2" />
<text x="836.50" y="314.52" font-size="12" text-anchor="end" font-weight="normal" font-style="normal" fill="#1c1c1c" stroke="#1c1c1c" >0.0</text>
<rect x="858.40" y="243.10" width="20.80" height="68.80" fill="#c8c6c4" stroke="#5f5f5f" stroke-width="1.3"/>
<rect x="892.40" y="234.30" width="20.50" height="77.60" fill="#5571bd" stroke="#34437e" stroke-width="1.3"/>
<line x1="868.80" y1="237.60" x2="868.80" y2="248.50" stroke="#333" stroke-width="1.1" />
<line x1="863.50" y1="237.60" x2="874.10" y2="237.60" stroke="#333" stroke-width="1.1" />
<line x1="863.50" y1="248.50" x2="874.10" y2="248.50" stroke="#333" stroke-width="1.1" />
<line x1="902.70" y1="227.40" x2="902.70" y2="238.90" stroke="#333" stroke-width="1.1" />
<line x1="897.40" y1="227.40" x2="908.00" y2="227.40" stroke="#333" stroke-width="1.1" />
<line x1="897.40" y1="238.90" x2="908.00" y2="238.90" stroke="#333" stroke-width="1.1" />
<circle cx="868.70" cy="219.60" r="2.6" fill="#000"/>
<circle cx="868.70" cy="232.50" r="2.6" fill="#000"/>
<circle cx="873.40" cy="238.20" r="2.6" fill="#000"/>
<circle cx="864.10" cy="241.40" r="2.6" fill="#000"/>
<circle cx="873.40" cy="244.60" r="2.6" fill="#000"/>
<circle cx="864.10" cy="246.40" r="2.6" fill="#000"/>
<circle cx="868.70" cy="252.30" r="2.6" fill="#000"/>
<circle cx="868.70" cy="259.40" r="2.6" fill="#000"/>
<circle cx="902.90" cy="209.50" r="2.6" fill="#000"/>
<circle cx="902.90" cy="217.00" r="2.6" fill="#000"/>
<circle cx="902.90" cy="222.80" r="2.6" fill="#000"/>
<circle cx="902.90" cy="229.20" r="2.6" fill="#000"/>
<circle cx="898.20" cy="241.40" r="2.6" fill="#000"/>
<circle cx="907.50" cy="240.50" r="2.6" fill="#000"/>
<circle cx="902.90" cy="248.20" r="2.6" fill="#000"/>
<circle cx="902.90" cy="257.00" r="2.6" fill="#000"/>
<text x="888.70" y="325.90" font-size="12" text-anchor="middle" font-weight="normal" font-style="normal" fill="#1c1c1c" stroke="#1c1c1c" >Serum</text>
<text x="814.50" y="256.65" font-size="11.2" text-anchor="middle" font-weight="normal" font-style="normal" fill="#1c1c1c" stroke="#1c1c1c" transform="rotate(-90 814.50 256.65)" >NEFA (mmol/L)</text>
<line x1="567.50" y1="349.10" x2="567.50" y2="462.00" stroke="#6a6a6a" stroke-width="1.2" />
<line x1="567.50" y1="462.00" x2="647.90" y2="462.00" stroke="#6a6a6a" stroke-width="1.2" />
<line x1="561.50" y1="349.10" x2="567.50" y2="349.10" stroke="#6a6a6a" stroke-width="1.2" />
<text x="559.40" y="352.12" font-size="12" text-anchor="end" font-weight="normal" font-style="normal" fill="#1c1c1c" stroke="#1c1c1c" >400</text>
<line x1="561.50" y1="377.40" x2="567.50" y2="377.40" stroke="#6a6a6a" stroke-width="1.2" />
<text x="559.40" y="380.42" font-size="12" text-anchor="end" font-weight="normal" font-style="normal" fill="#1c1c1c" stroke="#1c1c1c" >300</text>
<line x1="561.50" y1="405.60" x2="567.50" y2="405.60" stroke="#6a6a6a" stroke-width="1.2" />
<text x="559.40" y="408.62" font-size="12" text-anchor="end" font-weight="normal" font-style="normal" fill="#1c1c1c" stroke="#1c1c1c" >200</text>
<line x1="561.50" y1="433.80" x2="567.50" y2="433.80" stroke="#6a6a6a" stroke-width="1.2" />
<text x="559.40" y="436.82" font-size="12" text-anchor="end" font-weight="normal" font-style="normal" fill="#1c1c1c" stroke="#1c1c1c" >100</text>
<line x1="561.50" y1="462.00" x2="567.50" y2="462.00" stroke="#6a6a6a" stroke-width="1.2" />
<text x="559.40" y="465.02" font-size="12" text-anchor="end" font-weight="normal" font-style="normal" fill="#1c1c1c" stroke="#1c1c1c" >0</text>
<rect x="579.30" y="421.10" width="21.50" height="40.90" fill="#c8c6c4" stroke="#5f5f5f" stroke-width="1.3"/>
<rect x="614.40" y="408.30" width="21.50" height="53.70" fill="#5571bd" stroke="#34437e" stroke-width="1.3"/>
<line x1="590.10" y1="415.40" x2="590.10" y2="426.00" stroke="#333" stroke-width="1.1" />
<line x1="585.10" y1="415.40" x2="595.10" y2="415.40" stroke="#333" stroke-width="1.1" />
<line x1="585.10" y1="426.00" x2="595.10" y2="426.00" stroke="#333" stroke-width="1.1" />
<line x1="625.10" y1="402.90" x2="625.10" y2="413.00" stroke="#333" stroke-width="1.1" />
<line x1="620.10" y1="402.90" x2="630.10" y2="402.90" stroke="#333" stroke-width="1.1" />
<line x1="620.10" y1="413.00" x2="630.10" y2="413.00" stroke="#333" stroke-width="1.1" />
<circle cx="587.20" cy="408.00" r="2.6" fill="#000"/>
<circle cx="593.40" cy="406.00" r="2.6" fill="#000"/>
<circle cx="580.90" cy="419.80" r="2.6" fill="#000"/>
<circle cx="587.20" cy="421.10" r="2.6" fill="#000"/>
<circle cx="593.40" cy="420.10" r="2.6" fill="#000"/>
<circle cx="599.80" cy="417.40" r="2.6" fill="#000"/>
<circle cx="599.80" cy="423.80" r="2.6" fill="#000"/>
<circle cx="590.20" cy="433.50" r="2.6" fill="#000"/>
<circle cx="625.10" cy="384.70" r="2.6" fill="#000"/>
<circle cx="620.20" cy="400.90" r="2.6" fill="#000"/>
<circle cx="629.80" cy="402.40" r="2.6" fill="#000"/>
<circle cx="620.20" cy="406.30" r="2.6" fill="#000"/>
<circle cx="629.80" cy="409.50" r="2.6" fill="#000"/>
<circle cx="620.20" cy="412.50" r="2.6" fill="#000"/>
<circle cx="620.20" cy="420.40" r="2.6" fill="#000"/>
<circle cx="629.80" cy="420.40" r="2.6" fill="#000"/>
<text x="610.00" y="477.50" font-size="12" text-anchor="middle" font-weight="normal" font-style="normal" fill="#1c1c1c" stroke="#1c1c1c" >Liver</text>
<text x="530.80" y="405.55" font-size="11.8" text-anchor="middle" font-weight="normal" font-style="normal" fill="#1c1c1c" stroke="#1c1c1c" transform="rotate(-90 530.80 405.55)" >TAG&#160;&#160;(mmol/g)</text>
<polyline points="590.20,396.40 590.20,366.10 625.10,366.10 625.10,375.70" fill="none" stroke="#6a6a6a" stroke-width="1.2"/>
<polygon points="608.90,355.50 609.87,357.47 612.04,357.78 610.47,359.31 610.84,361.47 608.90,360.45 606.96,361.47 607.33,359.31 605.76,357.78 607.93,357.47" fill="#1e1e1e"/>
<line x1="709.70" y1="344.80" x2="709.70" y2="462.20" stroke="#6a6a6a" stroke-width="1.2" />
<line x1="709.70" y1="462.20" x2="794.70" y2="462.20" stroke="#6a6a6a" stroke-width="1.2" />
<line x1="703.70" y1="344.80" x2="709.70" y2="344.80" stroke="#6a6a6a" stroke-width="1.2" />
<text x="700.20" y="347.82" font-size="12" text-anchor="end" font-weight="normal" font-style="normal" fill="#1c1c1c" stroke="#1c1c1c" >200</text>
<line x1="703.70" y1="374.20" x2="709.70" y2="374.20" stroke="#6a6a6a" stroke-width="1.2" />
<text x="700.20" y="377.22" font-size="12" text-anchor="end" font-weight="normal" font-style="normal" fill="#1c1c1c" stroke="#1c1c1c" >150</text>
<line x1="703.70" y1="403.50" x2="709.70" y2="403.50" stroke="#6a6a6a" stroke-width="1.2" />
<text x="700.20" y="406.52" font-size="12" text-anchor="end" font-weight="normal" font-style="normal" fill="#1c1c1c" stroke="#1c1c1c" >100</text>
<line x1="703.70" y1="432.90" x2="709.70" y2="432.90" stroke="#6a6a6a" stroke-width="1.2" />
<text x="700.20" y="435.92" font-size="12" text-anchor="end" font-weight="normal" font-style="normal" fill="#1c1c1c" stroke="#1c1c1c" >50</text>
<line x1="703.70" y1="462.20" x2="709.70" y2="462.20" stroke="#6a6a6a" stroke-width="1.2" />
<text x="700.20" y="465.22" font-size="12" text-anchor="end" font-weight="normal" font-style="normal" fill="#1c1c1c" stroke="#1c1c1c" >0</text>
<rect x="722.80" y="388.80" width="22.30" height="73.40" fill="#c8c6c4" stroke="#5f5f5f" stroke-width="1.3"/>
<rect x="759.30" y="404.20" width="21.80" height="58.00" fill="#5571bd" stroke="#34437e" stroke-width="1.3"/>
<line x1="733.90" y1="379.80" x2="733.90" y2="396.00" stroke="#333" stroke-width="1.1" />
<line x1="728.40" y1="379.80" x2="739.40" y2="379.80" stroke="#333" stroke-width="1.1" />
<line x1="728.40" y1="396.00" x2="739.40" y2="396.00" stroke="#333" stroke-width="1.1" />
<line x1="770.20" y1="398.50" x2="770.20" y2="407.00" stroke="#333" stroke-width="1.1" />
<line x1="764.70" y1="398.50" x2="775.70" y2="398.50" stroke="#333" stroke-width="1.1" />
<line x1="764.70" y1="407.00" x2="775.70" y2="407.00" stroke="#333" stroke-width="1.1" />
<circle cx="728.70" cy="358.30" r="2.6" fill="#000"/>
<circle cx="738.70" cy="354.30" r="2.6" fill="#000"/>
<circle cx="733.80" cy="373.60" r="2.6" fill="#000"/>
<circle cx="733.80" cy="389.00" r="2.6" fill="#000"/>
<circle cx="728.70" cy="404.20" r="2.6" fill="#000"/>
<circle cx="738.70" cy="401.80" r="2.6" fill="#000"/>
<circle cx="728.70" cy="411.80" r="2.6" fill="#000"/>
<circle cx="738.70" cy="408.90" r="2.6" fill="#000"/>
<circle cx="769.90" cy="377.20" r="2.6" fill="#000"/>
<circle cx="769.90" cy="395.40" r="2.6" fill="#000"/>
<circle cx="760.50" cy="402.60" r="2.6" fill="#000"/>
<circle cx="779.90" cy="400.10" r="2.6" fill="#000"/>
<circle cx="779.90" cy="407.00" r="2.6" fill="#000"/>
<circle cx="769.90" cy="411.30" r="2.6" fill="#000"/>
<circle cx="760.50" cy="414.60" r="2.6" fill="#000"/>
<circle cx="779.90" cy="413.00" r="2.6" fill="#000"/>
<text x="754.40" y="477.90" font-size="12" text-anchor="middle" font-weight="normal" font-style="normal" fill="#1c1c1c" stroke="#1c1c1c" >Liver</text>
<text x="675.80" y="403.50" font-size="11.4" text-anchor="middle" font-weight="normal" font-style="normal" fill="#1c1c1c" stroke="#1c1c1c" transform="rotate(-90 675.80 403.50)" >TCHO (mmol/g)</text>
<line x1="846.00" y1="342.60" x2="846.00" y2="462.30" stroke="#6a6a6a" stroke-width="1.2" />
<line x1="846.00" y1="462.30" x2="930.60" y2="462.30" stroke="#6a6a6a" stroke-width="1.2" />
<line x1="840.00" y1="342.60" x2="846.00" y2="342.60" stroke="#6a6a6a" stroke-width="1.2" />
<text x="836.50" y="345.62" font-size="12" text-anchor="end" font-weight="normal" font-style="normal" fill="#1c1c1c" stroke="#1c1c1c" >80</text>
<line x1="840.00" y1="372.50" x2="846.00" y2="372.50" stroke="#6a6a6a" stroke-width="1.2" />
<text x="836.50" y="375.52" font-size="12" text-anchor="end" font-weight="normal" font-style="normal" fill="#1c1c1c" stroke="#1c1c1c" >60</text>
<line x1="840.00" y1="402.40" x2="846.00" y2="402.40" stroke="#6a6a6a" stroke-width="1.2" />
<text x="836.50" y="405.42" font-size="12" text-anchor="end" font-weight="normal" font-style="normal" fill="#1c1c1c" stroke="#1c1c1c" >40</text>
<line x1="840.00" y1="432.30" x2="846.00" y2="432.30" stroke="#6a6a6a" stroke-width="1.2" />
<text x="836.50" y="435.32" font-size="12" text-anchor="end" font-weight="normal" font-style="normal" fill="#1c1c1c" stroke="#1c1c1c" >20</text>
<line x1="840.00" y1="462.20" x2="846.00" y2="462.20" stroke="#6a6a6a" stroke-width="1.2" />
<text x="836.50" y="465.22" font-size="12" text-anchor="end" font-weight="normal" font-style="normal" fill="#1c1c1c" stroke="#1c1c1c" >0</text>
<rect x="859.30" y="410.30" width="22.30" height="52.00" fill="#c8c6c4" stroke="#5f5f5f" stroke-width="1.3"/>
<rect x="895.50" y="404.10" width="22.50" height="58.20" fill="#5571bd" stroke="#34437e" stroke-width="1.3"/>
<line x1="870.40" y1="403.50" x2="870.40" y2="414.50" stroke="#333" stroke-width="1.1" />
<line x1="864.90" y1="403.50" x2="875.90" y2="403.50" stroke="#333" stroke-width="1.1" />
<line x1="864.90" y1="414.50" x2="875.90" y2="414.50" stroke="#333" stroke-width="1.1" />
<line x1="906.70" y1="395.90" x2="906.70" y2="409.50" stroke="#333" stroke-width="1.1" />
<line x1="901.20" y1="395.90" x2="912.20" y2="395.90" stroke="#333" stroke-width="1.1" />
<line x1="901.20" y1="409.50" x2="912.20" y2="409.50" stroke="#333" stroke-width="1.1" />
<circle cx="870.20" cy="387.30" r="2.6" fill="#000"/>
<circle cx="860.80" cy="396.70" r="2.6" fill="#000"/>
<circle cx="870.20" cy="395.60" r="2.6" fill="#000"/>
<circle cx="879.80" cy="399.30" r="2.6" fill="#000"/>
<circle cx="860.80" cy="420.20" r="2.6" fill="#000"/>
<circle cx="870.20" cy="421.40" r="2.6" fill="#000"/>
<circle cx="879.80" cy="423.40" r="2.6" fill="#000"/>
<circle cx="860.80" cy="427.40" r="2.6" fill="#000"/>
<circle cx="906.60" cy="358.90" r="2.6" fill="#000"/>
<circle cx="897.20" cy="400.90" r="2.6" fill="#000"/>
<circle cx="906.60" cy="401.60" r="2.6" fill="#000"/>
<circle cx="916.10" cy="404.70" r="2.6" fill="#000"/>
<circle cx="897.20" cy="408.10" r="2.6" fill="#000"/>
<circle cx="916.10" cy="413.00" r="2.6" fill="#000"/>
<circle cx="906.60" cy="413.80" r="2.6" fill="#000"/>
<circle cx="906.60" cy="420.00" r="2.6" fill="#000"/>
<text x="889.10" y="478.10" font-size="12" text-anchor="middle" font-weight="normal" font-style="normal" fill="#1c1c1c" stroke="#1c1c1c" >Liver</text>
<text x="816.00" y="402.45" font-size="11.4" text-anchor="middle" font-weight="normal" font-style="normal" fill="#1c1c1c" stroke="#1c1c1c" transform="rotate(-90 816.00 402.45)" >NFFA (&#956;mol/g)</text>
<line x1="62.40" y1="497.90" x2="62.40" y2="739.40" stroke="#6a6a6a" stroke-width="1.2" />
<line x1="62.40" y1="739.40" x2="936.20" y2="739.40" stroke="#6a6a6a" stroke-width="1.2" />
<line x1="54.40" y1="497.90" x2="62.40" y2="497.90" stroke="#6a6a6a" stroke-width="1.2" />
<text x="51.20" y="501.28" font-size="13" text-anchor="end" font-weight="normal" font-style="normal" fill="#1c1c1c" stroke="#1c1c1c" >4</text>
<line x1="54.40" y1="558.30" x2="62.40" y2="558.30" stroke="#6a6a6a" stroke-width="1.2" />
<text x="51.20" y="561.68" font-size="13" text-anchor="end" font-weight="normal" font-style="normal" fill="#1c1c1c" stroke="#1c1c1c" >3</text>
<line x1="54.40" y1="618.70" x2="62.40" y2="618.70" stroke="#6a6a6a" stroke-width="1.2" />
<text x="51.20" y="622.08" font-size="13" text-anchor="end" font-weight="normal" font-style="normal" fill="#1c1c1c" stroke="#1c1c1c" >2</text>
<line x1="54.40" y1="679.10" x2="62.40" y2="679.10" stroke="#6a6a6a" stroke-width="1.2" />
<text x="51.20" y="682.48" font-size="13" text-anchor="end" font-weight="normal" font-style="normal" fill="#1c1c1c" stroke="#1c1c1c" >1</text>
<line x1="54.40" y1="739.40" x2="62.40" y2="739.40" stroke="#6a6a6a" stroke-width="1.2" />
<text x="51.20" y="742.78" font-size="13" text-anchor="end" font-weight="normal" font-style="normal" fill="#1c1c1c" stroke="#1c1c1c" >0</text>
<line x1="62.40" y1="679.10" x2="936.20" y2="679.10" stroke="#a8a8a8" stroke-width="1.1" stroke-dasharray="3 3.6"/>
<text x="29.00" y="624.70" font-size="13.4" text-anchor="middle" font-weight="normal" font-style="normal" fill="#1c1c1c" stroke="#1c1c1c" transform="rotate(-90 29.00 624.70)" >Liver relative mRNA expression</text>
<rect x="72.40" y="679.60" width="16.90" height="59.80" fill="#c8c6c4" stroke="#5f5f5f" stroke-width="1.3"/>
<rect x="100.80" y="635.40" width="15.10" height="104.00" fill="#5571bd" stroke="#34437e" stroke-width="1.3"/>
<line x1="80.85" y1="677.00" x2="80.85" y2="681.50" stroke="#333" stroke-width="1.0" />
<line x1="75.65" y1="677.00" x2="86.05" y2="677.00" stroke="#333" stroke-width="1.0" />
<line x1="75.65" y1="681.50" x2="86.05" y2="681.50" stroke="#333" stroke-width="1.0" />
<line x1="108.35" y1="623.40" x2="108.35" y2="643.60" stroke="#333" stroke-width="1.0" />
<line x1="103.15" y1="623.40" x2="113.55" y2="623.40" stroke="#333" stroke-width="1.0" />
<line x1="103.15" y1="643.60" x2="113.55" y2="643.60" stroke="#333" stroke-width="1.0" />
<circle cx="80.50" cy="670.20" r="2.45" fill="#000"/>
<circle cx="73.80" cy="678.00" r="2.45" fill="#000"/>
<circle cx="87.30" cy="677.60" r="2.45" fill="#000"/>
<circle cx="87.30" cy="682.60" r="2.45" fill="#000"/>
<circle cx="73.80" cy="686.10" r="2.45" fill="#000"/>
<circle cx="108.20" cy="605.10" r="2.45" fill="#000"/>
<circle cx="114.90" cy="623.20" r="2.45" fill="#000"/>
<circle cx="101.20" cy="626.70" r="2.45" fill="#000"/>
<circle cx="108.20" cy="654.00" r="2.45" fill="#000"/>
<circle cx="108.20" cy="659.10" r="2.45" fill="#000"/>
<polyline points="80.85,598.60 80.85,583.40 108.35,583.40 108.35,598.60" fill="none" stroke="#6a6a6a" stroke-width="1.2"/>
<polygon points="92.60,573.30 93.45,575.03 95.36,575.30 93.98,576.65 94.30,578.55 92.60,577.65 90.90,578.55 91.22,576.65 89.84,575.30 91.75,575.03" fill="#1e1e1e"/>
<polygon points="99.40,573.30 100.25,575.03 102.16,575.30 100.78,576.65 101.10,578.55 99.40,577.65 97.70,578.55 98.02,576.65 96.64,575.30 98.55,575.03" fill="#1e1e1e"/>
<text x="94.15" y="756.80" font-size="13.4" text-anchor="middle" font-weight="normal" font-style="italic" fill="#1c1c1c" stroke="#1c1c1c" >FXR</text>
<rect x="146.40" y="679.40" width="16.10" height="60.00" fill="#c8c6c4" stroke="#5f5f5f" stroke-width="1.3"/>
<rect x="174.60" y="632.40" width="14.90" height="107.00" fill="#5571bd" stroke="#34437e" stroke-width="1.3"/>
<line x1="154.45" y1="672.60" x2="154.45" y2="683.70" stroke="#333" stroke-width="1.0" />
<line x1="149.25" y1="672.60" x2="159.65" y2="672.60" stroke="#333" stroke-width="1.0" />
<line x1="149.25" y1="683.70" x2="159.65" y2="683.70" stroke="#333" stroke-width="1.0" />
<line x1="182.05" y1="613.20" x2="182.05" y2="647.50" stroke="#333" stroke-width="1.0" />
<line x1="176.85" y1="613.20" x2="187.25" y2="613.20" stroke="#333" stroke-width="1.0" />
<line x1="176.85" y1="647.50" x2="187.25" y2="647.50" stroke="#333" stroke-width="1.0" />
<circle cx="147.60" cy="664.50" r="2.45" fill="#000"/>
<circle cx="161.10" cy="666.40" r="2.45" fill="#000"/>
<circle cx="147.60" cy="680.30" r="2.45" fill="#000"/>
<circle cx="161.10" cy="684.80" r="2.45" fill="#000"/>
<circle cx="154.10" cy="695.20" r="2.45" fill="#000"/>
<circle cx="181.80" cy="577.60" r="2.45" fill="#000"/>
<circle cx="181.80" cy="606.10" r="2.45" fill="#000"/>
<circle cx="181.80" cy="639.80" r="2.45" fill="#000"/>
<circle cx="181.80" cy="655.30" r="2.45" fill="#000"/>
<circle cx="181.80" cy="673.20" r="2.45" fill="#000"/>
<polyline points="154.45,568.30 154.45,553.50 182.05,553.50 182.05,568.30" fill="none" stroke="#6a6a6a" stroke-width="1.2"/>
<polygon points="168.25,543.40 169.10,545.13 171.01,545.40 169.63,546.75 169.95,548.65 168.25,547.75 166.55,548.65 166.87,546.75 165.49,545.40 167.40,545.13" fill="#1e1e1e"/>
<text x="167.95" y="756.80" font-size="13.4" text-anchor="middle" font-weight="normal" font-style="italic" fill="#1c1c1c" stroke="#1c1c1c" >SHP</text>
<rect x="220.00" y="679.70" width="16.60" height="59.70" fill="#c8c6c4" stroke="#5f5f5f" stroke-width="1.3"/>
<rect x="248.30" y="652.30" width="15.00" height="87.10" fill="#5571bd" stroke="#34437e" stroke-width="1.3"/>
<line x1="228.30" y1="676.00" x2="228.30" y2="683.00" stroke="#333" stroke-width="1.0" />
<line x1="223.10" y1="676.00" x2="233.50" y2="676.00" stroke="#333" stroke-width="1.0" />
<line x1="223.10" y1="683.00" x2="233.50" y2="683.00" stroke="#333" stroke-width="1.0" />
<line x1="255.80" y1="641.40" x2="255.80" y2="659.90" stroke="#333" stroke-width="1.0" />
<line x1="250.60" y1="641.40" x2="261.00" y2="641.40" stroke="#333" stroke-width="1.0" />
<line x1="250.60" y1="659.90" x2="261.00" y2="659.90" stroke="#333" stroke-width="1.0" />
<circle cx="221.20" cy="673.20" r="2.45" fill="#000"/>
<circle cx="227.70" cy="672.80" r="2.45" fill="#000"/>
<circle cx="234.50" cy="676.40" r="2.45" fill="#000"/>
<circle cx="227.70" cy="678.10" r="2.45" fill="#000"/>
<circle cx="227.70" cy="691.80" r="2.45" fill="#000"/>
<circle cx="255.70" cy="630.70" r="2.45" fill="#000"/>
<circle cx="248.60" cy="640.50" r="2.45" fill="#000"/>
<circle cx="262.40" cy="636.90" r="2.45" fill="#000"/>
<circle cx="255.70" cy="664.70" r="2.45" fill="#000"/>
<circle cx="255.70" cy="679.70" r="2.45" fill="#000"/>
<polyline points="228.30,613.10 228.30,598.60 255.80,598.60 255.80,613.10" fill="none" stroke="#6a6a6a" stroke-width="1.2"/>
<polygon points="242.05,588.50 242.90,590.23 244.81,590.50 243.43,591.85 243.75,593.75 242.05,592.85 240.35,593.75 240.67,591.85 239.29,590.50 241.20,590.23" fill="#1e1e1e"/>
<text x="245.15" y="756.80" font-size="13.4" text-anchor="middle" font-weight="normal" font-style="italic" fill="#1c1c1c" stroke="#1c1c1c" >PPAR&#945;</text>
<rect x="293.70" y="679.70" width="16.50" height="59.70" fill="#c8c6c4" stroke="#5f5f5f" stroke-width="1.3"/>
<rect x="321.60" y="620.10" width="15.10" height="119.30" fill="#5571bd" stroke="#34437e" stroke-width="1.3"/>
<line x1="301.95" y1="672.30" x2="301.95" y2="685.00" stroke="#333" stroke-width="1.0" />
<line x1="296.75" y1="672.30" x2="307.15" y2="672.30" stroke="#333" stroke-width="1.0" />
<line x1="296.75" y1="685.00" x2="307.15" y2="685.00" stroke="#333" stroke-width="1.0" />
<line x1="329.15" y1="605.60" x2="329.15" y2="630.70" stroke="#333" stroke-width="1.0" />
<line x1="323.95" y1="605.60" x2="334.35" y2="605.60" stroke="#333" stroke-width="1.0" />
<line x1="323.95" y1="630.70" x2="334.35" y2="630.70" stroke="#333" stroke-width="1.0" />
<circle cx="301.30" cy="657.60" r="2.45" fill="#000"/>
<circle cx="301.30" cy="675.00" r="2.45" fill="#000"/>
<circle cx="294.60" cy="688.80" r="2.45" fill="#000"/>
<circle cx="301.30" cy="684.70" r="2.45" fill="#000"/>
<circle cx="308.40" cy="685.90" r="2.45" fill="#000"/>
<circle cx="329.10" cy="583.30" r="2.45" fill="#000"/>
<circle cx="329.10" cy="603.90" r="2.45" fill="#000"/>
<circle cx="329.10" cy="614.50" r="2.45" fill="#000"/>
<circle cx="329.10" cy="630.70" r="2.45" fill="#000"/>
<circle cx="329.10" cy="656.90" r="2.45" fill="#000"/>
<polyline points="301.95,577.70 301.95,563.20 329.15,563.20 329.15,577.70" fill="none" stroke="#6a6a6a" stroke-width="1.2"/>
<polygon points="313.65,553.10 314.50,554.83 316.41,555.10 315.03,556.45 315.35,558.35 313.65,557.45 311.95,558.35 312.27,556.45 310.89,555.10 312.80,554.83" fill="#1e1e1e"/>
<polygon points="320.45,553.10 321.30,554.83 323.21,555.10 321.83,556.45 322.15,558.35 320.45,557.45 318.75,558.35 319.07,556.45 317.69,555.10 319.60,554.83" fill="#1e1e1e"/>
<text x="319.00" y="756.80" font-size="13.4" text-anchor="middle" font-weight="normal" font-style="italic" fill="#1c1c1c" stroke="#1c1c1c" >HMGCS2</text>
<rect x="367.10" y="679.70" width="16.40" height="59.70" fill="#c8c6c4" stroke="#5f5f5f" stroke-width="1.3"/>
<rect x="395.40" y="632.90" width="15.00" height="106.50" fill="#5571bd" stroke="#34437e" stroke-width="1.3"/>
<line x1="375.30" y1="674.10" x2="375.30" y2="682.90" stroke="#333" stroke-width="1.0" />
<line x1="370.10" y1="674.10" x2="380.50" y2="674.10" stroke="#333" stroke-width="1.0" />
<line x1="370.10" y1="682.90" x2="380.50" y2="682.90" stroke="#333" stroke-width="1.0" />
<line x1="402.90" y1="618.40" x2="402.90" y2="643.10" stroke="#333" stroke-width="1.0" />
<line x1="397.70" y1="618.40" x2="408.10" y2="618.40" stroke="#333" stroke-width="1.0" />
<line x1="397.70" y1="643.10" x2="408.10" y2="643.10" stroke="#333" stroke-width="1.0" />
<circle cx="368.50" cy="668.20" r="2.45" fill="#000"/>
<circle cx="382.10" cy="670.00" r="2.45" fill="#000"/>
<circle cx="375.40" cy="676.70" r="2.45" fill="#000"/>
<circle cx="375.40" cy="685.60" r="2.45" fill="#000"/>
<circle cx="375.40" cy="691.80" r="2.45" fill="#000"/>
<circle cx="402.40" cy="593.60" r="2.45" fill="#000"/>
<circle cx="402.40" cy="610.00" r="2.45" fill="#000"/>
<circle cx="395.70" cy="646.70" r="2.45" fill="#000"/>
<circle cx="409.50" cy="646.70" r="2.45" fill="#000"/>
<circle cx="402.40" cy="659.40" r="2.45" fill="#000"/>
<polyline points="375.30,581.60 375.30,567.10 402.90,567.10 402.90,581.60" fill="none" stroke="#6a6a6a" stroke-width="1.2"/>
<polygon points="387.80,557.00 388.65,558.73 390.56,559.00 389.18,560.35 389.50,562.25 387.80,561.35 386.10,562.25 386.42,560.35 385.04,559.00 386.95,558.73" fill="#1e1e1e"/>
<polygon points="394.60,557.00 395.45,558.73 397.36,559.00 395.98,560.35 396.30,562.25 394.60,561.35 392.90,562.25 393.22,560.35 391.84,559.00 393.75,558.73" fill="#1e1e1e"/>
<text x="388.75" y="756.80" font-size="13.4" text-anchor="middle" font-weight="normal" font-style="italic" fill="#1c1c1c" stroke="#1c1c1c" >BDH1</text>
<rect x="440.40" y="679.40" width="16.90" height="60.00" fill="#c8c6c4" stroke="#5f5f5f" stroke-width="1.3"/>
<rect x="468.70" y="702.40" width="15.20" height="37.00" fill="#5571bd" stroke="#34437e" stroke-width="1.3"/>
<line x1="448.85" y1="672.40" x2="448.85" y2="683.90" stroke="#333" stroke-width="1.0" />
<line x1="443.65" y1="672.40" x2="454.05" y2="672.40" stroke="#333" stroke-width="1.0" />
<line x1="443.65" y1="683.90" x2="454.05" y2="683.90" stroke="#333" stroke-width="1.0" />
<line x1="476.30" y1="695.10" x2="476.30" y2="703.40" stroke="#333" stroke-width="1.0" />
<line x1="471.10" y1="695.10" x2="481.50" y2="695.10" stroke="#333" stroke-width="1.0" />
<line x1="471.10" y1="703.40" x2="481.50" y2="703.40" stroke="#333" stroke-width="1.0" />
<circle cx="448.50" cy="660.00" r="2.45" fill="#000"/>
<circle cx="448.50" cy="670.80" r="2.45" fill="#000"/>
<circle cx="448.50" cy="680.20" r="2.45" fill="#000"/>
<circle cx="442.00" cy="691.30" r="2.45" fill="#000"/>
<circle cx="455.50" cy="688.30" r="2.45" fill="#000"/>
<circle cx="476.20" cy="685.90" r="2.45" fill="#000"/>
<circle cx="476.20" cy="694.70" r="2.45" fill="#000"/>
<circle cx="469.40" cy="702.10" r="2.45" fill="#000"/>
<circle cx="482.90" cy="702.80" r="2.45" fill="#000"/>
<circle cx="476.20" cy="710.90" r="2.45" fill="#000"/>
<polyline points="448.85,648.50 448.85,634.50 476.30,634.50 476.30,648.50" fill="none" stroke="#6a6a6a" stroke-width="1.2"/>
<polygon points="462.57,624.40 463.43,626.13 465.33,626.40 463.95,627.75 464.28,629.65 462.57,628.75 460.87,629.65 461.20,627.75 459.82,626.40 461.72,626.13" fill="#1e1e1e"/>
<text x="462.15" y="756.80" font-size="13.4" text-anchor="middle" font-weight="normal" font-style="italic" fill="#1c1c1c" stroke="#1c1c1c" >SREBP-1c</text>
<rect x="514.40" y="679.10" width="16.40" height="60.30" fill="#c8c6c4" stroke="#5f5f5f" stroke-width="1.3"/>
<rect x="542.70" y="678.50" width="14.90" height="60.90" fill="#5571bd" stroke="#34437e" stroke-width="1.3"/>
<line x1="522.60" y1="673.70" x2="522.60" y2="682.90" stroke="#333" stroke-width="1.0" />
<line x1="517.40" y1="673.70" x2="527.80" y2="673.70" stroke="#333" stroke-width="1.0" />
<line x1="517.40" y1="682.90" x2="527.80" y2="682.90" stroke="#333" stroke-width="1.0" />
<line x1="550.15" y1="672.70" x2="550.15" y2="683.00" stroke="#333" stroke-width="1.0" />
<line x1="544.95" y1="672.70" x2="555.35" y2="672.70" stroke="#333" stroke-width="1.0" />
<line x1="544.95" y1="683.00" x2="555.35" y2="683.00" stroke="#333" stroke-width="1.0" />
<circle cx="522.10" cy="663.60" r="2.45" fill="#000"/>
<circle cx="515.30" cy="678.10" r="2.45" fill="#000"/>
<circle cx="529.20" cy="677.10" r="2.45" fill="#000"/>
<circle cx="522.10" cy="683.50" r="2.45" fill="#000"/>
<circle cx="522.10" cy="691.00" r="2.45" fill="#000"/>
<circle cx="543.00" cy="668.30" r="2.45" fill="#000"/>
<circle cx="556.50" cy="669.70" r="2.45" fill="#000"/>
<circle cx="543.00" cy="673.70" r="2.45" fill="#000"/>
<circle cx="556.50" cy="683.50" r="2.45" fill="#000"/>
<circle cx="543.00" cy="686.20" r="2.45" fill="#000"/>
<polyline points="522.60,648.00 522.60,633.70 550.15,633.70 550.15,648.00" fill="none" stroke="#6a6a6a" stroke-width="1.2"/>
<text x="536.38" y="630.40" font-size="11.6" text-anchor="middle" font-weight="normal" font-style="normal" fill="#3a3a3a" stroke="#3a3a3a" >ns</text>
<text x="536.00" y="756.80" font-size="13.4" text-anchor="middle" font-weight="normal" font-style="italic" fill="#1c1c1c" stroke="#1c1c1c" >ACC1</text>
<rect x="587.40" y="679.40" width="16.90" height="60.00" fill="#c8c6c4" stroke="#5f5f5f" stroke-width="1.3"/>
<rect x="616.20" y="673.60" width="14.80" height="65.80" fill="#5571bd" stroke="#34437e" stroke-width="1.3"/>
<line x1="595.85" y1="672.20" x2="595.85" y2="685.00" stroke="#333" stroke-width="1.0" />
<line x1="590.65" y1="672.20" x2="601.05" y2="672.20" stroke="#333" stroke-width="1.0" />
<line x1="590.65" y1="685.00" x2="601.05" y2="685.00" stroke="#333" stroke-width="1.0" />
<line x1="623.60" y1="663.40" x2="623.60" y2="679.90" stroke="#333" stroke-width="1.0" />
<line x1="618.40" y1="663.40" x2="628.80" y2="663.40" stroke="#333" stroke-width="1.0" />
<line x1="618.40" y1="679.90" x2="628.80" y2="679.90" stroke="#333" stroke-width="1.0" />
<circle cx="595.90" cy="657.00" r="2.45" fill="#000"/>
<circle cx="589.20" cy="678.30" r="2.45" fill="#000"/>
<circle cx="602.70" cy="677.20" r="2.45" fill="#000"/>
<circle cx="595.90" cy="684.40" r="2.45" fill="#000"/>
<circle cx="595.90" cy="693.10" r="2.45" fill="#000"/>
<circle cx="623.50" cy="649.30" r="2.45" fill="#000"/>
<circle cx="623.50" cy="659.10" r="2.45" fill="#000"/>
<circle cx="623.50" cy="673.60" r="2.45" fill="#000"/>
<circle cx="623.50" cy="684.80" r="2.45" fill="#000"/>
<circle cx="623.50" cy="693.10" r="2.45" fill="#000"/>
<polyline points="595.85,635.40 595.85,620.50 623.60,620.50 623.60,635.40" fill="none" stroke="#6a6a6a" stroke-width="1.2"/>
<text x="609.72" y="617.20" font-size="11.6" text-anchor="middle" font-weight="normal" font-style="normal" fill="#3a3a3a" stroke="#3a3a3a" >ns</text>
<text x="609.20" y="756.80" font-size="13.4" text-anchor="middle" font-weight="normal" font-style="italic" fill="#1c1c1c" stroke="#1c1c1c" >FAS</text>
<rect x="661.40" y="679.60" width="16.10" height="59.80" fill="#c8c6c4" stroke="#5f5f5f" stroke-width="1.3"/>
<rect x="689.60" y="641.20" width="14.90" height="98.20" fill="#5571bd" stroke="#34437e" stroke-width="1.3"/>
<line x1="669.45" y1="674.00" x2="669.45" y2="684.00" stroke="#333" stroke-width="1.0" />
<line x1="664.25" y1="674.00" x2="674.65" y2="674.00" stroke="#333" stroke-width="1.0" />
<line x1="664.25" y1="684.00" x2="674.65" y2="684.00" stroke="#333" stroke-width="1.0" />
<line x1="697.05" y1="628.30" x2="697.05" y2="650.20" stroke="#333" stroke-width="1.0" />
<line x1="691.85" y1="628.30" x2="702.25" y2="628.30" stroke="#333" stroke-width="1.0" />
<line x1="691.85" y1="650.20" x2="702.25" y2="650.20" stroke="#333" stroke-width="1.0" />
<circle cx="663.00" cy="667.20" r="2.45" fill="#000"/>
<circle cx="676.10" cy="669.90" r="2.45" fill="#000"/>
<circle cx="669.40" cy="678.00" r="2.45" fill="#000"/>
<circle cx="669.40" cy="684.80" r="2.45" fill="#000"/>
<circle cx="669.40" cy="692.10" r="2.45" fill="#000"/>
<circle cx="690.40" cy="613.20" r="2.45" fill="#000"/>
<circle cx="703.90" cy="616.50" r="2.45" fill="#000"/>
<circle cx="697.20" cy="641.80" r="2.45" fill="#000"/>
<circle cx="697.20" cy="655.30" r="2.45" fill="#000"/>
<circle cx="697.20" cy="670.50" r="2.45" fill="#000"/>
<polyline points="669.45,603.00 669.45,588.40 697.05,588.40 697.05,603.00" fill="none" stroke="#6a6a6a" stroke-width="1.2"/>
<polygon points="683.25,578.30 684.10,580.03 686.01,580.30 684.63,581.65 684.95,583.55 683.25,582.65 681.55,583.55 681.87,581.65 680.49,580.30 682.40,580.03" fill="#1e1e1e"/>
<text x="682.95" y="756.80" font-size="13.4" text-anchor="middle" font-weight="normal" font-style="italic" fill="#1c1c1c" stroke="#1c1c1c" >AGPAT1</text>
<rect x="735.30" y="678.60" width="16.20" height="60.80" fill="#c8c6c4" stroke="#5f5f5f" stroke-width="1.3"/>
<rect x="763.30" y="651.80" width="15.30" height="87.60" fill="#5571bd" stroke="#34437e" stroke-width="1.3"/>
<line x1="743.40" y1="670.60" x2="743.40" y2="684.40" stroke="#333" stroke-width="1.0" />
<line x1="738.20" y1="670.60" x2="748.60" y2="670.60" stroke="#333" stroke-width="1.0" />
<line x1="738.20" y1="684.40" x2="748.60" y2="684.40" stroke="#333" stroke-width="1.0" />
<line x1="770.95" y1="639.70" x2="770.95" y2="660.60" stroke="#333" stroke-width="1.0" />
<line x1="765.75" y1="639.70" x2="776.15" y2="639.70" stroke="#333" stroke-width="1.0" />
<line x1="765.75" y1="660.60" x2="776.15" y2="660.60" stroke="#333" stroke-width="1.0" />
<circle cx="736.30" cy="663.30" r="2.45" fill="#000"/>
<circle cx="750.10" cy="667.10" r="2.45" fill="#000"/>
<circle cx="742.80" cy="675.00" r="2.45" fill="#000"/>
<circle cx="742.80" cy="680.00" r="2.45" fill="#000"/>
<circle cx="742.80" cy="701.50" r="2.45" fill="#000"/>
<circle cx="770.60" cy="623.60" r="2.45" fill="#000"/>
<circle cx="770.60" cy="633.30" r="2.45" fill="#000"/>
<circle cx="770.60" cy="645.60" r="2.45" fill="#000"/>
<circle cx="770.60" cy="671.30" r="2.45" fill="#000"/>
<circle cx="770.60" cy="677.20" r="2.45" fill="#000"/>
<polyline points="743.40,611.50 743.40,597.20 770.95,597.20 770.95,611.50" fill="none" stroke="#6a6a6a" stroke-width="1.2"/>
<text x="738.00" y="591.40" font-size="11.5" text-anchor="start" font-weight="normal" font-style="italic" fill="#333" stroke="#333" >p</text>
<text x="747.90" y="591.40" font-size="11.5" text-anchor="start" font-weight="normal" font-style="normal" fill="#333" stroke="#333" >=</text>
<text x="763.60" y="591.40" font-size="11.5" text-anchor="start" font-weight="normal" font-style="normal" fill="#333" stroke="#333" >0.059</text>
<text x="756.95" y="756.80" font-size="13.4" text-anchor="middle" font-weight="normal" font-style="italic" fill="#1c1c1c" stroke="#1c1c1c" >AGPAT2</text>
<rect x="808.90" y="678.60" width="16.00" height="60.80" fill="#c8c6c4" stroke="#5f5f5f" stroke-width="1.3"/>
<rect x="836.90" y="625.00" width="15.00" height="114.40" fill="#5571bd" stroke="#34437e" stroke-width="1.3"/>
<line x1="816.90" y1="671.30" x2="816.90" y2="683.00" stroke="#333" stroke-width="1.0" />
<line x1="811.70" y1="671.30" x2="822.10" y2="671.30" stroke="#333" stroke-width="1.0" />
<line x1="811.70" y1="683.00" x2="822.10" y2="683.00" stroke="#333" stroke-width="1.0" />
<line x1="844.40" y1="600.00" x2="844.40" y2="646.30" stroke="#333" stroke-width="1.0" />
<line x1="839.20" y1="600.00" x2="849.60" y2="600.00" stroke="#333" stroke-width="1.0" />
<line x1="839.20" y1="646.30" x2="849.60" y2="646.30" stroke="#333" stroke-width="1.0" />
<circle cx="809.90" cy="662.50" r="2.45" fill="#000"/>
<circle cx="823.80" cy="666.10" r="2.45" fill="#000"/>
<circle cx="816.80" cy="675.80" r="2.45" fill="#000"/>
<circle cx="823.80" cy="688.90" r="2.45" fill="#000"/>
<circle cx="809.90" cy="693.10" r="2.45" fill="#000"/>
<circle cx="844.30" cy="555.00" r="2.45" fill="#000"/>
<circle cx="844.30" cy="593.90" r="2.45" fill="#000"/>
<circle cx="844.30" cy="618.70" r="2.45" fill="#000"/>
<circle cx="837.50" cy="673.70" r="2.45" fill="#000"/>
<circle cx="851.10" cy="673.70" r="2.45" fill="#000"/>
<polyline points="816.90,546.20 816.90,531.60 844.40,531.60 844.40,546.20" fill="none" stroke="#6a6a6a" stroke-width="1.2"/>
<text x="805.10" y="525.80" font-size="11.5" text-anchor="start" font-weight="normal" font-style="italic" fill="#333" stroke="#333" >p</text>
<text x="815.00" y="525.80" font-size="11.5" text-anchor="start" font-weight="normal" font-style="normal" fill="#333" stroke="#333" >=</text>
<text x="830.70" y="525.80" font-size="11.5" text-anchor="start" font-weight="normal" font-style="normal" fill="#333" stroke="#333" >0.095</text>
<text x="830.40" y="756.80" font-size="13.4" text-anchor="middle" font-weight="normal" font-style="italic" fill="#1c1c1c" stroke="#1c1c1c" >DGAT1</text>
<rect x="882.20" y="678.50" width="16.40" height="60.90" fill="#c8c6c4" stroke="#5f5f5f" stroke-width="1.3"/>
<rect x="910.50" y="610.40" width="15.10" height="129.00" fill="#5571bd" stroke="#34437e" stroke-width="1.3"/>
<line x1="890.40" y1="670.50" x2="890.40" y2="683.80" stroke="#333" stroke-width="1.0" />
<line x1="885.20" y1="670.50" x2="895.60" y2="670.50" stroke="#333" stroke-width="1.0" />
<line x1="885.20" y1="683.80" x2="895.60" y2="683.80" stroke="#333" stroke-width="1.0" />
<line x1="918.05" y1="593.90" x2="918.05" y2="623.00" stroke="#333" stroke-width="1.0" />
<line x1="912.85" y1="593.90" x2="923.25" y2="593.90" stroke="#333" stroke-width="1.0" />
<line x1="912.85" y1="623.00" x2="923.25" y2="623.00" stroke="#333" stroke-width="1.0" />
<circle cx="890.50" cy="664.10" r="2.45" fill="#000"/>
<circle cx="897.30" cy="669.20" r="2.45" fill="#000"/>
<circle cx="883.90" cy="673.00" r="2.45" fill="#000"/>
<circle cx="897.30" cy="674.70" r="2.45" fill="#000"/>
<circle cx="890.20" cy="703.60" r="2.45" fill="#000"/>
<circle cx="918.00" cy="560.60" r="2.45" fill="#000"/>
<circle cx="918.00" cy="596.00" r="2.45" fill="#000"/>
<circle cx="918.00" cy="611.10" r="2.45" fill="#000"/>
<circle cx="911.20" cy="638.90" r="2.45" fill="#000"/>
<circle cx="925.10" cy="636.40" r="2.45" fill="#000"/>
<polyline points="890.40,549.20 890.40,535.40 918.05,535.40 918.05,549.20" fill="none" stroke="#6a6a6a" stroke-width="1.2"/>
<polygon points="900.83,525.30 901.68,527.03 903.58,527.30 902.20,528.65 902.53,530.55 900.83,529.65 899.12,530.55 899.45,528.65 898.07,527.30 899.97,527.03" fill="#1e1e1e"/>
<polygon points="907.62,525.30 908.48,527.03 910.38,527.30 909.00,528.65 909.33,530.55 907.62,529.65 905.92,530.55 906.25,528.65 904.87,527.30 906.77,527.03" fill="#1e1e1e"/>
<text x="903.90" y="756.80" font-size="13.4" text-anchor="middle" font-weight="normal" font-style="italic" fill="#1c1c1c" stroke="#1c1c1c" >DGAT2</text>
<line x1="94.40" y1="770.50" x2="171.00" y2="770.50" stroke="#333" stroke-width="1.1" />
<text x="136.00" y="787.90" font-size="13.4" text-anchor="middle" font-weight="normal" font-style="normal" fill="#1c1c1c" stroke="#1c1c1c" >Bilie acid metabolism</text>
<line x1="236.80" y1="770.50" x2="400.90" y2="770.50" stroke="#333" stroke-width="1.1" />
<text x="318.50" y="787.90" font-size="13.4" text-anchor="middle" font-weight="normal" font-style="normal" fill="#1c1c1c" stroke="#1c1c1c" >Ketogenesis</text>
<line x1="462.00" y1="770.50" x2="904.70" y2="770.50" stroke="#333" stroke-width="1.1" />
<text x="673.40" y="787.90" font-size="13.4" text-anchor="middle" font-weight="normal" font-style="normal" fill="#1c1c1c" stroke="#1c1c1c" >Lipid synthesis</text>
<rect x="442.40" y="529.30" width="18.50" height="11.80" fill="#c8c6c4" stroke="#5f5f5f" stroke-width="1"/>
<text x="467.20" y="541.00" font-size="13" text-anchor="start" font-weight="normal" font-style="normal" fill="#1c1c1c" stroke="#1c1c1c" >Vehicle</text>
<rect x="531.50" y="529.30" width="18.90" height="11.80" fill="#5571bd" stroke="#34437e" stroke-width="1"/>
<text x="556.00" y="541.00" font-size="13" text-anchor="start" font-weight="normal" font-style="italic" fill="#1c1c1c" stroke="#1c1c1c" >C.perfringes</text>
<g clip-path="url(#c1)"><g filter="url(#fbl2)">
<rect x="29.00" y="199.00" width="152.00" height="124.00" fill="#e8e6f2" stroke="none" stroke-width="0"/>
<rect x="29" y="199" width="152" height="124" fill="#fff" filter="url(#fred1)"/>
<g fill="#78a2ee" fill-opacity="0.85"><circle cx="34.9" cy="205.1" r="2.5"/><circle cx="43.5" cy="201.7" r="2.0"/><circle cx="59.0" cy="202.1" r="2.0"/><circle cx="65.2" cy="204.1" r="1.6"/><circle cx="71.8" cy="205.6" r="2.3"/><circle cx="81.9" cy="202.2" r="2.2"/><circle cx="86.2" cy="205.4" r="1.8"/><circle cx="98.3" cy="205.4" r="1.8"/><circle cx="112.6" cy="202.5" r="2.5"/><circle cx="121.7" cy="205.5" r="1.9"/><circle cx="125.9" cy="202.2" r="1.6"/><circle cx="135.7" cy="201.6" r="2.2"/><circle cx="142.2" cy="205.2" r="2.0"/><circle cx="150.7" cy="204.7" r="1.6"/><circle cx="167.5" cy="205.3" r="1.6"/><circle cx="173.6" cy="204.1" r="1.6"/><circle cx="36.3" cy="212.6" r="1.8"/><circle cx="47.4" cy="212.5" r="1.9"/><circle cx="53.4" cy="211.8" r="1.7"/><circle cx="62.4" cy="212.2" r="1.6"/><circle cx="76.0" cy="211.1" r="2.4"/><circle cx="86.4" cy="210.8" r="1.9"/><circle cx="90.9" cy="208.7" r="1.7"/><circle cx="102.3" cy="209.1" r="1.6"/><circle cx="115.3" cy="209.4" r="2.1"/><circle cx="131.0" cy="208.6" r="2.4"/><circle cx="139.1" cy="212.1" r="1.7"/><circle cx="148.9" cy="211.2" r="2.3"/><circle cx="154.4" cy="209.0" r="2.4"/><circle cx="162.3" cy="212.8" r="2.4"/><circle cx="178.0" cy="211.6" r="2.0"/><circle cx="33.4" cy="215.8" r="1.9"/><circle cx="57.2" cy="216.7" r="1.7"/><circle cx="66.2" cy="219.0" r="1.9"/><circle cx="74.0" cy="218.2" r="2.2"/><circle cx="80.0" cy="218.3" r="1.8"/><circle cx="89.6" cy="218.2" r="1.9"/><circle cx="104.4" cy="215.2" r="2.1"/><circle cx="112.6" cy="217.2" r="2.3"/><circle cx="120.9" cy="216.7" r="2.2"/><circle cx="128.8" cy="216.7" r="2.4"/><circle cx="145.1" cy="219.4" r="2.1"/><circle cx="149.3" cy="218.9" r="2.5"/><circle cx="159.4" cy="218.3" r="2.3"/><circle cx="167.6" cy="217.7" r="2.2"/><circle cx="174.7" cy="218.6" r="2.2"/><circle cx="35.6" cy="222.7" r="2.0"/><circle cx="44.3" cy="225.0" r="2.2"/><circle cx="53.2" cy="223.0" r="1.6"/><circle cx="60.3" cy="222.8" r="1.8"/><circle cx="68.7" cy="223.6" r="2.2"/><circle cx="75.5" cy="225.9" r="1.6"/><circle cx="83.5" cy="223.8" r="1.7"/><circle cx="98.1" cy="224.7" r="1.7"/><circle cx="107.2" cy="224.5" r="2.5"/><circle cx="115.3" cy="225.5" r="2.2"/><circle cx="121.9" cy="224.6" r="2.1"/><circle cx="146.2" cy="225.9" r="1.6"/><circle cx="155.0" cy="224.7" r="1.7"/><circle cx="164.2" cy="223.6" r="2.0"/><circle cx="169.4" cy="226.2" r="1.9"/><circle cx="40.5" cy="233.1" r="2.0"/><circle cx="48.6" cy="233.1" r="2.0"/><circle cx="57.1" cy="229.3" r="2.2"/><circle cx="64.1" cy="232.2" r="2.4"/><circle cx="72.9" cy="229.9" r="2.5"/><circle cx="79.5" cy="229.9" r="1.7"/><circle cx="96.7" cy="230.8" r="2.2"/><circle cx="105.1" cy="229.3" r="2.3"/><circle cx="111.9" cy="230.2" r="1.9"/><circle cx="119.4" cy="230.3" r="2.3"/><circle cx="125.4" cy="229.9" r="2.0"/><circle cx="148.7" cy="232.2" r="2.0"/><circle cx="159.5" cy="231.5" r="2.0"/><circle cx="173.7" cy="232.5" r="1.8"/><circle cx="39.2" cy="235.8" r="2.4"/><circle cx="45.2" cy="236.8" r="2.3"/><circle cx="61.0" cy="237.9" r="2.0"/><circle cx="67.4" cy="238.1" r="2.3"/><circle cx="75.5" cy="239.1" r="2.3"/><circle cx="82.4" cy="238.7" r="2.5"/><circle cx="98.1" cy="239.2" r="1.8"/><circle cx="109.9" cy="238.7" r="1.7"/><circle cx="117.5" cy="236.2" r="2.2"/><circle cx="122.0" cy="238.3" r="1.6"/><circle cx="130.8" cy="235.8" r="1.6"/><circle cx="140.2" cy="239.4" r="1.7"/><circle cx="146.1" cy="238.2" r="2.0"/><circle cx="160.5" cy="238.6" r="1.7"/><circle cx="170.3" cy="239.5" r="2.1"/><circle cx="177.1" cy="238.0" r="1.8"/><circle cx="33.9" cy="242.9" r="1.8"/><circle cx="42.6" cy="243.1" r="2.2"/><circle cx="47.6" cy="245.3" r="1.7"/><circle cx="57.6" cy="243.4" r="2.4"/><circle cx="64.2" cy="245.8" r="1.6"/><circle cx="70.8" cy="243.0" r="2.5"/><circle cx="79.4" cy="242.8" r="2.5"/><circle cx="89.8" cy="242.9" r="2.2"/><circle cx="95.0" cy="243.8" r="2.2"/><circle cx="103.5" cy="242.9" r="2.4"/><circle cx="113.1" cy="244.2" r="2.4"/><circle cx="120.0" cy="244.8" r="2.3"/><circle cx="125.6" cy="242.5" r="1.8"/><circle cx="136.9" cy="244.4" r="2.3"/><circle cx="142.9" cy="246.2" r="2.2"/><circle cx="150.6" cy="242.8" r="1.7"/><circle cx="158.0" cy="244.0" r="2.4"/><circle cx="165.3" cy="243.5" r="1.7"/><circle cx="173.0" cy="244.4" r="1.6"/><circle cx="47.4" cy="252.1" r="2.2"/><circle cx="55.3" cy="249.6" r="2.2"/><circle cx="61.9" cy="252.3" r="1.7"/><circle cx="66.8" cy="250.1" r="1.6"/><circle cx="78.8" cy="250.7" r="1.9"/><circle cx="83.5" cy="252.3" r="2.3"/><circle cx="91.2" cy="252.1" r="2.5"/><circle cx="99.8" cy="253.4" r="1.6"/><circle cx="109.1" cy="250.9" r="1.6"/><circle cx="117.9" cy="251.4" r="1.9"/><circle cx="121.6" cy="253.1" r="2.0"/><circle cx="138.0" cy="249.3" r="2.0"/><circle cx="145.8" cy="250.9" r="1.9"/><circle cx="152.7" cy="253.4" r="1.7"/><circle cx="162.1" cy="251.4" r="1.7"/><circle cx="168.6" cy="251.5" r="2.4"/><circle cx="179.7" cy="250.0" r="1.6"/><circle cx="33.7" cy="258.4" r="1.9"/><circle cx="42.6" cy="259.9" r="1.9"/><circle cx="50.8" cy="256.9" r="1.7"/><circle cx="55.4" cy="259.3" r="2.3"/><circle cx="63.4" cy="256.2" r="1.8"/><circle cx="72.5" cy="258.4" r="1.8"/><circle cx="81.5" cy="256.1" r="1.8"/><circle cx="87.8" cy="256.3" r="2.0"/><circle cx="97.3" cy="258.3" r="2.4"/><circle cx="105.1" cy="258.4" r="2.0"/><circle cx="112.5" cy="260.1" r="2.3"/><circle cx="118.6" cy="259.5" r="1.9"/><circle cx="125.5" cy="256.6" r="1.8"/><circle cx="134.3" cy="256.2" r="2.3"/><circle cx="140.9" cy="256.1" r="1.7"/><circle cx="152.4" cy="260.1" r="2.2"/><circle cx="158.3" cy="257.5" r="1.9"/><circle cx="166.8" cy="259.5" r="2.3"/><circle cx="174.3" cy="256.6" r="2.2"/><circle cx="39.6" cy="266.2" r="1.7"/><circle cx="47.3" cy="264.7" r="2.0"/><circle cx="54.5" cy="266.8" r="2.1"/><circle cx="67.2" cy="266.3" r="2.0"/><circle cx="78.8" cy="262.8" r="2.1"/><circle cx="86.2" cy="264.4" r="1.8"/><circle cx="91.0" cy="265.1" r="1.9"/><circle cx="99.0" cy="264.2" r="1.8"/><circle cx="130.9" cy="263.3" r="2.4"/><circle cx="137.1" cy="263.4" r="1.7"/><circle cx="148.7" cy="263.6" r="2.3"/><circle cx="155.5" cy="266.5" r="2.2"/><circle cx="162.0" cy="262.7" r="2.1"/><circle cx="168.9" cy="264.4" r="1.9"/><circle cx="177.3" cy="264.4" r="2.0"/><circle cx="33.4" cy="273.8" r="2.3"/><circle cx="50.1" cy="271.8" r="2.3"/><circle cx="57.6" cy="272.4" r="2.1"/><circle cx="63.1" cy="269.8" r="1.9"/><circle cx="73.9" cy="272.6" r="1.9"/><circle cx="89.4" cy="269.8" r="2.3"/><circle cx="98.2" cy="273.4" r="2.2"/><circle cx="112.3" cy="270.4" r="2.1"/><circle cx="129.5" cy="271.9" r="1.9"/><circle cx="134.7" cy="270.2" r="2.2"/><circle cx="158.1" cy="269.9" r="2.2"/><circle cx="167.3" cy="271.1" r="2.4"/><circle cx="173.3" cy="270.6" r="2.2"/><circle cx="46.1" cy="279.6" r="1.8"/><circle cx="53.6" cy="279.9" r="2.4"/><circle cx="60.7" cy="278.1" r="2.1"/><circle cx="75.7" cy="278.9" r="2.5"/><circle cx="82.4" cy="276.8" r="2.1"/><circle cx="90.9" cy="277.1" r="2.1"/><circle cx="100.9" cy="279.5" r="1.6"/><circle cx="109.4" cy="280.5" r="1.9"/><circle cx="125.4" cy="277.3" r="2.2"/><circle cx="137.3" cy="277.1" r="1.7"/><circle cx="145.4" cy="279.0" r="1.7"/><circle cx="155.7" cy="279.8" r="2.3"/><circle cx="164.4" cy="280.5" r="2.2"/><circle cx="176.4" cy="276.5" r="1.8"/><circle cx="33.6" cy="286.0" r="2.3"/><circle cx="41.2" cy="285.4" r="1.9"/><circle cx="49.8" cy="284.7" r="2.2"/><circle cx="59.2" cy="287.2" r="1.6"/><circle cx="66.0" cy="284.3" r="1.7"/><circle cx="72.2" cy="286.3" r="2.4"/><circle cx="79.7" cy="285.2" r="2.2"/><circle cx="88.7" cy="284.3" r="1.9"/><circle cx="102.0" cy="284.9" r="1.8"/><circle cx="109.9" cy="284.2" r="1.7"/><circle cx="121.7" cy="285.4" r="1.9"/><circle cx="134.6" cy="286.6" r="1.6"/><circle cx="142.4" cy="283.1" r="1.8"/><circle cx="150.3" cy="285.3" r="1.6"/><circle cx="160.7" cy="285.0" r="2.0"/><circle cx="165.4" cy="287.2" r="2.2"/><circle cx="172.2" cy="284.8" r="2.3"/><circle cx="38.1" cy="293.8" r="2.2"/><circle cx="43.5" cy="289.9" r="2.3"/><circle cx="54.9" cy="293.5" r="2.4"/><circle cx="63.3" cy="293.1" r="2.4"/><circle cx="70.1" cy="291.7" r="2.5"/><circle cx="84.2" cy="291.0" r="2.0"/><circle cx="93.0" cy="290.4" r="1.7"/><circle cx="98.2" cy="291.5" r="2.4"/><circle cx="113.6" cy="293.5" r="2.5"/><circle cx="121.9" cy="290.9" r="2.4"/><circle cx="137.7" cy="291.7" r="1.8"/><circle cx="146.3" cy="293.2" r="1.7"/><circle cx="156.8" cy="292.9" r="1.7"/><circle cx="163.1" cy="291.5" r="1.9"/><circle cx="170.7" cy="294.1" r="1.8"/><circle cx="177.1" cy="292.2" r="2.3"/><circle cx="33.7" cy="299.7" r="1.6"/><circle cx="41.2" cy="298.8" r="2.2"/><circle cx="47.4" cy="298.8" r="1.6"/><circle cx="56.5" cy="296.7" r="1.9"/><circle cx="65.7" cy="300.7" r="1.9"/><circle cx="73.7" cy="300.7" r="2.5"/><circle cx="86.9" cy="300.7" r="1.6"/><circle cx="97.2" cy="298.9" r="1.9"/><circle cx="112.0" cy="300.3" r="1.7"/><circle cx="119.6" cy="299.1" r="1.8"/><circle cx="125.5" cy="297.0" r="1.9"/><circle cx="137.3" cy="297.8" r="1.8"/><circle cx="144.1" cy="297.8" r="2.4"/><circle cx="150.3" cy="299.4" r="1.8"/><circle cx="160.3" cy="298.5" r="2.4"/><circle cx="164.8" cy="296.8" r="2.3"/><circle cx="172.0" cy="296.8" r="2.4"/><circle cx="39.3" cy="303.6" r="2.1"/><circle cx="46.5" cy="306.1" r="2.2"/><circle cx="55.3" cy="303.9" r="1.6"/><circle cx="59.3" cy="303.7" r="2.0"/><circle cx="70.6" cy="306.6" r="1.6"/><circle cx="78.2" cy="303.9" r="2.3"/><circle cx="83.6" cy="303.4" r="2.3"/><circle cx="94.1" cy="305.4" r="1.7"/><circle cx="99.1" cy="307.6" r="1.8"/><circle cx="107.3" cy="303.7" r="2.0"/><circle cx="116.4" cy="304.2" r="1.7"/><circle cx="124.3" cy="305.4" r="2.1"/><circle cx="138.1" cy="305.6" r="2.1"/><circle cx="155.4" cy="305.2" r="2.3"/><circle cx="168.6" cy="304.5" r="1.9"/><circle cx="34.4" cy="313.0" r="2.5"/><circle cx="42.8" cy="311.7" r="1.7"/><circle cx="50.9" cy="312.7" r="1.6"/><circle cx="65.6" cy="313.4" r="1.8"/><circle cx="72.0" cy="310.6" r="1.6"/><circle cx="80.2" cy="314.0" r="1.6"/><circle cx="87.0" cy="314.3" r="2.3"/><circle cx="102.3" cy="312.0" r="1.8"/><circle cx="112.1" cy="311.5" r="1.7"/><circle cx="121.5" cy="314.3" r="2.0"/><circle cx="128.6" cy="310.7" r="2.1"/><circle cx="137.3" cy="312.6" r="2.0"/><circle cx="143.2" cy="314.5" r="2.0"/><circle cx="150.9" cy="314.2" r="1.9"/><circle cx="160.4" cy="311.6" r="2.3"/><circle cx="164.8" cy="310.4" r="2.5"/><circle cx="173.9" cy="314.2" r="2.1"/><circle cx="36.8" cy="320.2" r="1.8"/><circle cx="46.6" cy="319.6" r="1.7"/><circle cx="54.2" cy="320.2" r="1.7"/><circle cx="67.4" cy="317.4" r="2.0"/><circle cx="78.3" cy="317.7" r="2.2"/><circle cx="84.9" cy="318.1" r="1.9"/><circle cx="93.3" cy="317.5" r="2.3"/><circle cx="100.5" cy="319.8" r="2.0"/><circle cx="122.8" cy="320.8" r="1.7"/><circle cx="130.9" cy="321.3" r="1.7"/><circle cx="140.2" cy="320.2" r="1.6"/><circle cx="156.3" cy="319.9" r="2.0"/><circle cx="169.6" cy="320.2" r="2.1"/><circle cx="178.6" cy="320.5" r="1.7"/></g>
<path d="M131 210.5 Q142 207.5 153 210 Q156 214 152 218.3 Q142 219.5 131.5 218 Q128.5 214 131 210.5 Z" fill="#e3f3f6"/>
</g></g>
<rect x="31.80" y="294.20" width="39.00" height="26.00" fill="#fff" stroke="none" stroke-width="0"/>
<rect x="31.8" y="201.8" width="147.0" height="118.4" fill="none" stroke="#707070" stroke-width="1.2"/>
<text x="38.30" y="312.20" font-size="12.5" text-anchor="start" font-weight="normal" font-style="normal" fill="#222" stroke="#222" >Veh</text>
<rect x="187.00" y="201.80" width="147.20" height="118.40" fill="#fff" stroke="none" stroke-width="0"/>
<g clip-path="url(#cl11)"><g fill="none" stroke="#e2161e" stroke-linecap="round" filter="url(#fsb)"><path d="M311.2 310.1h0M205.0 221.3h0M214.4 271.1h0M296.7 314.2h0M302.5 216.8h0M279.4 267.5h0M319.5 310.6h0M299.3 315.1h0M299.5 313.3h0M210.3 212.6h0M222.5 284.0h0M195.1 279.3h0M260.3 304.5h0M277.2 227.4h0M191.8 284.7h0M281.0 207.6h0M282.8 207.9h0M306.5 291.3h0M293.9 297.3h0M239.7 233.7h0M286.5 270.2h0M224.4 308.0h0M225.5 306.8h0M189.4 260.2h0M298.7 238.2h0M236.7 209.2h0M297.9 320.6h0M243.4 220.7h0M291.3 285.0h0M304.9 239.1h0M252.8 309.0h0M249.9 272.5h0M278.0 307.8h0M277.3 308.4h0M264.8 288.8h0M204.3 234.4h0M266.0 252.0h0M216.9 320.3h0M266.8 268.0h0M229.0 210.5h0M228.6 208.5h0M243.6 277.8h0M245.5 278.2h0M192.7 222.9h0M297.3 297.3h0M286.5 247.5h0M258.7 239.7h0M235.5 293.6h0M237.4 294.6h0M245.5 230.5h0M243.8 230.8h0M273.0 202.6h0M325.7 215.3h0M324.5 213.9h0M305.2 229.3h0M210.3 214.4h0M188.3 261.8h0M190.1 255.3h0M270.1 241.4h0M271.2 240.6h0M213.5 272.6h0M218.1 251.5h0M308.6 264.3h0M248.0 228.4h0M246.5 300.1h0M248.0 300.6h0M274.9 303.7h0M242.1 313.3h0M212.7 254.1h0M299.1 302.5h0M300.2 302.0h0M302.3 241.1h0M287.7 259.7h0M243.5 290.1h0M258.0 293.8h0M240.9 236.2h0M306.7 235.7h0M305.9 234.3h0M208.8 230.2h0M329.5 277.0h0M330.9 276.8h0M213.8 208.3h0M212.1 207.8h0M318.9 223.7h0M301.3 228.4h0M291.8 224.8h0M293.8 262.3h0M333.2 213.5h0M334.7 213.7h0M318.1 238.5h0M329.9 268.9h0M203.2 210.7h0M325.2 231.4h0M324.7 229.6h0M296.9 248.7h0M232.0 262.7h0M235.6 274.4h0M237.4 273.6h0M315.1 208.0h0M294.6 235.2h0M263.4 294.1h0M305.0 217.5h0M303.2 217.9h0M229.0 205.4h0M289.4 301.7h0M192.2 260.6h0M193.7 261.1h0M331.5 316.7h0M330.8 293.9h0M288.4 320.7h0M289.9 320.3h0M202.0 311.8h0M238.1 257.5h0M308.1 224.7h0M196.5 283.0h0M214.6 281.0h0M219.3 302.7h0M218.9 300.7h0M257.5 315.4h0M287.8 307.5h0M215.8 202.9h0M239.6 231.3h0M240.1 230.1h0M291.6 299.7h0M311.2 317.1h0M313.2 317.3h0M290.6 228.3h0M202.4 291.2h0M266.6 310.8h0M267.1 309.1h0M290.8 295.6h0M218.5 240.3h0M244.2 281.1h0M266.4 303.0h0M190.3 202.4h0M213.2 294.8h0M201.5 271.5h0M195.9 208.3h0M244.2 294.7h0M227.3 297.8h0M193.6 223.7h0M317.3 211.8h0M333.9 224.0h0M272.1 271.3h0M272.4 273.3h0M253.6 298.5h0M286.0 320.7h0M283.8 320.7h0M230.3 272.8h0M220.3 221.6h0M288.7 205.3h0M232.4 217.0h0M200.7 268.6h0M275.0 314.6h0M209.8 304.8h0M239.1 260.9h0M251.1 240.5h0M252.4 240.0h0M277.5 314.5h0M204.5 230.5h0M314.9 260.9h0M248.3 257.2h0M326.1 313.7h0M315.2 248.3h0M315.2 246.9h0M249.9 285.5h0M249.5 284.3h0M223.2 284.0h0M230.7 238.0h0M232.0 238.4h0M192.7 247.0h0M297.7 297.9h0M296.0 297.2h0M226.1 211.2h0M272.9 260.2h0M247.1 243.1h0M295.4 306.7h0M294.9 274.3h0M268.0 304.0h0M324.6 307.6h0M323.7 305.9h0M288.4 279.1h0M215.4 275.6h0M214.4 275.3h0M199.3 257.0h0M204.1 296.0h0M264.3 307.3h0M235.3 306.0h0M234.1 305.6h0M316.4 216.9h0M298.1 315.3h0M320.3 310.0h0M255.0 269.3h0M276.6 232.6h0M213.3 221.8h0M211.5 222.2h0M211.7 231.2h0M212.9 231.1h0M192.8 204.7h0M191.6 203.3h0M208.6 300.1h0M237.2 279.4h0M313.0 255.9h0M311.4 255.3h0M250.0 226.5h0M227.1 291.7h0M225.3 292.2h0M211.9 255.2h0M314.3 306.9h0M313.1 305.4h0M279.9 253.1h0M263.6 320.8h0M315.8 274.1h0M244.8 284.9h0M248.6 297.3h0M315.5 287.6h0M210.3 256.4h0M208.8 256.3h0M248.2 210.5h0M246.3 209.8h0M225.6 306.9h0M207.7 210.5h0M234.3 299.6h0M301.9 283.9h0M209.0 226.5h0M305.8 310.9h0M287.5 204.9h0M288.6 205.6h0M283.4 278.7h0M194.7 236.6h0M193.4 237.3h0M282.0 204.7h0M334.6 242.3h0M206.2 247.7h0M279.2 306.1h0M313.6 231.7h0M312.9 230.9h0M187.1 241.4h0M268.2 246.7h0M318.2 205.9h0M318.9 220.5h0M200.7 319.9h0M291.3 321.2h0M195.3 211.5h0M228.7 246.1h0M228.4 244.5h0M288.9 281.0h0M271.8 293.9h0M292.3 304.4h0M198.0 276.8h0M286.2 238.2h0M231.0 283.0h0M229.6 282.2h0M324.8 278.8h0M209.1 241.9h0M294.5 278.2h0M310.4 248.2h0M286.7 258.6h0M205.5 210.7h0M221.8 311.4h0M220.9 309.8h0M205.2 222.1h0M203.6 223.4h0M286.5 202.2h0M227.6 268.0h0M300.9 248.3h0M245.7 216.9h0M306.3 215.7h0M305.1 216.8h0M277.2 303.1h0M304.5 247.3h0M334.6 289.7h0M334.3 291.8h0M258.2 309.2h0M256.9 310.9h0M273.4 227.6h0M233.5 301.6h0M266.3 296.4h0M321.5 291.8h0M190.2 231.6h0M190.4 247.8h0M191.7 248.7h0M218.9 218.5h0M220.8 218.4h0M212.1 241.9h0M255.1 282.2h0M255.8 280.4h0M228.8 265.4h0M228.2 267.1h0M278.5 299.6h0M215.4 275.8h0M278.9 291.4h0M254.9 215.6h0M312.5 208.0h0M297.5 281.5h0M284.6 290.3h0M208.1 292.4h0M289.7 299.0h0M313.7 315.7h0M193.7 233.5h0M201.0 273.9h0M200.3 272.8h0M243.1 308.2h0M244.0 308.7h0M284.7 222.4h0M285.9 222.0h0M308.9 211.5h0M269.8 237.1h0M208.7 217.9h0M193.7 315.4h0M228.2 272.9h0M253.5 204.4h0M252.0 205.2h0M262.2 263.2h0M306.1 258.1h0M215.2 259.6h0M214.2 260.3h0M308.1 309.2h0M308.0 270.6h0M309.0 270.8h0M246.3 310.3h0M284.5 200.3h0M196.9 260.4h0M198.3 260.4h0M205.7 257.6h0M307.9 286.9h0M194.8 297.9h0M304.5 285.5h0M263.1 213.7h0M261.9 212.0h0M220.7 265.7h0M333.4 214.1h0M250.5 284.6h0M210.3 211.3h0M199.5 239.9h0M201.5 240.1h0M248.0 238.5h0M292.9 204.8h0M288.6 224.7h0M233.6 275.4h0M234.5 276.0h0M296.8 245.5h0M188.3 286.6h0M186.5 286.0h0M261.6 288.9h0M307.9 231.8h0M305.8 241.5h0M264.2 284.5h0M265.1 285.8h0M218.2 215.9h0M219.1 216.5h0M229.1 270.9h0M229.5 269.7h0M271.1 316.0h0M193.0 300.0h0M311.0 205.8h0M196.8 202.3h0M256.4 272.8h0M328.0 315.7h0M187.9 202.0h0M263.9 244.2h0M310.0 237.3h0M253.2 216.9h0M265.4 249.3h0M279.0 223.7h0M237.9 267.1h0M250.1 271.9h0M259.2 201.9h0M188.4 269.7h0M256.9 298.1h0M230.5 211.1h0M228.8 240.0h0M196.2 315.9h0M235.8 309.3h0M307.2 320.0h0M334.4 260.9h0M333.0 260.8h0M237.5 204.7h0M304.6 251.9h0M311.5 296.1h0M240.9 319.3h0M303.5 233.1h0M188.9 226.0h0M223.1 252.6h0M217.5 259.2h0M215.7 258.5h0M215.6 260.4h0M313.3 300.6h0M277.8 301.8h0M287.0 226.0h0M288.4 205.9h0M228.5 252.1h0M218.0 314.2h0M292.2 301.3h0M280.0 317.6h0M230.2 253.5h0M280.9 204.5h0M321.8 318.1h0M321.8 317.1h0M281.1 310.9h0M217.7 240.0h0M217.1 238.9h0M253.5 258.3h0M281.0 277.1h0M189.5 305.5h0M289.1 223.0h0M287.9 223.9h0M203.6 208.4h0M202.4 208.6h0M200.7 233.0h0M281.7 281.3h0M287.5 273.5h0M300.8 316.6h0M330.2 267.0h0M283.6 268.7h0M285.0 269.0h0M217.6 271.4h0M224.7 291.4h0M216.6 308.3h0M217.0 307.0h0M287.9 269.2h0M278.5 291.1h0M192.3 284.3h0M190.5 283.8h0M262.8 258.5h0M264.7 258.2h0M188.3 295.7h0M187.3 295.8h0M301.4 285.0h0M215.6 248.3h0M217.6 247.8h0M282.9 252.2h0M281.3 250.8h0M195.1 225.7h0M196.0 225.0h0M331.5 315.2h0M236.7 274.0h0M236.7 271.8h0M256.0 283.8h0M213.7 211.5h0M239.0 293.3h0M262.9 234.1h0M296.0 239.4h0M270.9 237.1h0M245.9 286.0h0M245.0 210.0h0M243.8 208.9h0M265.4 256.1h0M263.9 255.7h0M238.8 243.8h0M280.2 229.4h0M268.5 304.4h0M266.9 304.6h0M293.0 286.8h0M292.5 285.0h0M255.9 299.6h0M254.9 308.3h0M253.6 308.8h0M264.1 223.6h0M218.5 248.5h0M266.1 315.1h0M300.3 268.6h0M310.0 225.8h0M242.0 299.9h0M242.4 252.3h0M243.0 251.3h0M215.5 318.7h0M254.3 310.5h0M306.7 207.4h0M306.6 206.2h0M235.8 309.8h0M235.7 204.7h0M262.8 253.1h0M227.8 208.5h0M245.5 314.6h0M212.8 221.5h0M253.2 243.6h0M296.9 209.1h0M290.8 291.1h0M303.4 255.8h0M269.9 311.6h0M287.9 306.8h0M323.8 204.0h0M229.7 257.4h0M298.8 304.7h0M297.7 303.0h0M300.5 285.2h0M204.6 231.0h0M203.2 231.2h0M229.7 222.1h0M193.9 208.2h0M192.7 207.8h0M275.4 301.8h0M262.8 292.9h0M266.7 315.1h0M217.7 321.2h0M204.3 242.6h0M262.4 314.4h0M209.8 259.4h0M294.8 262.3h0M293.1 262.8h0M255.4 202.9h0M327.9 203.3h0M207.1 221.6h0M299.9 271.7h0M286.1 288.2h0M222.0 234.1h0M221.0 234.8h0M272.9 294.8h0M276.1 222.7h0M268.9 244.4h0M316.1 320.2h0M312.0 246.3h0M281.3 286.2h0M291.0 241.3h0M290.7 239.9h0M213.1 208.6h0M263.0 266.3h0M241.4 302.4h0M296.6 319.8h0M272.5 282.7h0M272.2 281.7h0M289.4 222.5h0M290.4 222.3h0M285.1 261.7h0M305.9 272.1h0M306.7 273.8h0M303.1 236.8h0M279.8 275.4h0M279.2 276.2h0M275.9 248.4h0M321.9 293.7h0M225.7 201.9h0M293.7 285.9h0M224.1 304.6h0M192.0 217.1h0M300.5 203.9h0M194.1 299.5h0M236.9 252.8h0M199.5 240.4h0M240.4 280.1h0M230.7 226.2h0M232.4 226.6h0M271.4 236.0h0M191.4 304.7h0M259.4 263.2h0M258.8 264.4h0M212.5 256.7h0M211.1 257.1h0M272.0 265.8h0M283.4 269.7h0M239.0 225.2h0M196.5 232.8h0M285.1 251.1h0M283.1 251.4h0M215.9 282.5h0M205.0 290.3h0" stroke-width="1.0"/><path d="M255.6 241.1h0M195.2 309.4h0M333.3 222.1h0M192.0 252.4h0M190.6 253.5h0M222.6 300.4h0M269.8 297.4h0M329.7 201.4h0M329.1 203.3h0M305.6 290.7h0M293.2 299.1h0M244.2 204.1h0M276.4 268.5h0M276.5 269.7h0M239.3 231.7h0M229.3 269.1h0M332.1 306.1h0M190.3 260.7h0M305.3 264.7h0M302.9 229.2h0M230.6 237.7h0M270.4 271.8h0M269.6 270.6h0M195.3 244.9h0M307.5 303.0h0M305.8 238.3h0M253.9 310.5h0M206.0 234.4h0M314.6 311.0h0M196.1 213.4h0M194.6 212.5h0M331.4 202.4h0M251.1 278.9h0M189.9 274.3h0M240.5 202.9h0M203.5 235.2h0M202.1 236.0h0M260.9 282.2h0M209.8 261.1h0M259.7 290.5h0M305.3 222.1h0M187.7 262.9h0M236.3 247.1h0M240.6 313.2h0M193.6 213.3h0M247.5 227.1h0M251.4 214.3h0M287.2 254.3h0M285.8 253.1h0M293.8 279.7h0M292.1 278.6h0M189.2 227.4h0M273.3 303.2h0M321.7 298.0h0M288.2 315.8h0M272.0 228.7h0M312.4 231.8h0M241.6 237.9h0M279.9 201.8h0M276.7 319.0h0M256.9 229.5h0M252.9 235.6h0M225.4 215.0h0M308.0 320.4h0M320.0 238.2h0M239.9 296.5h0M219.2 252.6h0M218.0 253.3h0M194.5 259.3h0M193.3 259.2h0M235.5 298.4h0M332.3 205.1h0M278.4 301.0h0M318.4 242.8h0M212.9 306.3h0M260.7 306.8h0M260.9 308.2h0M188.8 276.4h0M187.8 277.0h0M274.9 207.0h0M280.9 316.3h0M198.1 235.2h0M197.0 282.0h0M276.5 243.8h0M251.0 210.7h0M215.2 204.0h0M231.6 312.7h0M293.0 299.5h0M238.1 288.3h0M292.1 294.5h0M257.8 280.9h0M193.5 278.8h0M193.4 276.9h0M307.4 272.8h0M286.7 294.8h0M306.2 233.5h0M192.8 204.7h0M211.4 294.0h0M200.2 269.9h0M202.7 251.5h0M221.8 293.6h0M228.9 296.5h0M253.0 288.7h0M309.0 235.8h0M305.3 241.5h0M220.6 316.7h0M284.8 225.2h0M285.5 224.0h0M273.0 221.1h0M190.9 269.9h0M277.0 248.9h0M305.2 242.3h0M266.2 318.0h0M267.9 316.6h0M282.7 263.5h0M246.7 257.8h0M263.7 278.4h0M326.5 312.7h0M257.3 289.7h0M319.9 235.8h0M334.6 260.9h0M194.8 277.4h0M316.5 232.1h0M287.7 205.0h0M267.1 292.2h0M214.2 223.0h0M239.8 291.8h0M241.2 291.8h0M258.8 318.3h0M198.4 228.4h0M239.0 304.7h0M237.2 303.7h0M321.6 215.3h0M318.0 237.1h0M258.4 306.6h0M240.9 290.1h0M199.9 246.3h0M188.9 208.3h0M255.4 253.4h0M272.0 227.7h0M214.0 255.6h0M311.2 305.8h0M206.5 291.0h0M195.9 260.8h0M215.9 311.0h0M214.5 311.5h0M283.1 304.4h0M283.7 303.4h0M218.5 213.6h0M258.7 279.8h0M223.5 268.5h0M283.7 299.5h0M258.9 308.6h0M290.7 264.6h0M326.4 246.7h0M289.6 313.3h0M209.3 228.3h0M244.7 288.2h0M283.3 302.6h0M282.8 206.0h0M280.7 287.3h0M278.8 287.5h0M229.6 275.2h0M195.5 231.5h0M236.5 320.8h0M317.9 220.9h0M201.3 319.1h0M232.3 308.6h0M299.9 272.5h0M219.3 245.7h0M327.0 319.6h0M328.4 319.0h0M267.0 210.5h0M266.8 300.7h0M327.4 225.4h0M207.8 241.1h0M258.9 300.3h0M224.4 263.2h0M211.6 225.2h0M273.5 242.3h0M204.7 209.5h0M276.4 247.1h0M321.6 219.6h0M207.3 320.9h0M303.5 298.2h0M215.9 232.9h0M308.8 207.4h0M280.7 221.3h0M227.8 269.5h0M323.0 245.1h0M229.2 235.3h0M211.7 214.8h0M215.5 201.1h0M214.9 240.2h0M252.7 293.8h0M203.5 227.0h0M198.1 244.8h0M232.0 229.4h0M188.7 251.7h0M291.8 200.9h0M290.7 202.4h0M229.2 309.7h0M253.9 307.5h0M313.1 306.9h0M326.2 201.5h0M255.8 203.5h0M216.4 276.2h0M187.2 293.1h0M292.9 208.9h0M257.4 317.2h0M271.2 275.3h0M229.0 282.7h0M228.2 283.9h0M277.9 273.6h0M285.0 308.1h0M286.8 309.1h0M267.1 244.9h0M277.0 206.0h0M201.1 271.8h0M282.5 201.1h0M216.4 274.0h0M222.4 265.5h0M270.3 318.7h0M280.3 235.4h0M226.7 262.0h0M227.7 262.0h0M308.1 205.3h0M308.8 246.3h0M307.1 246.5h0M227.8 229.7h0M235.7 306.4h0M254.1 202.8h0M282.1 234.1h0M318.7 223.0h0M317.5 227.0h0M308.5 266.0h0M188.5 281.6h0M190.5 281.1h0M212.5 202.6h0M288.2 291.7h0M247.6 237.4h0M227.0 248.3h0M252.9 253.5h0M234.1 314.4h0M257.7 299.6h0M305.7 296.9h0M311.9 294.9h0M271.3 317.8h0M215.7 259.1h0M208.4 301.9h0M300.5 304.5h0M330.7 245.9h0M254.9 257.8h0M298.1 226.0h0M299.4 225.1h0M200.6 265.9h0M265.2 256.1h0M330.4 265.1h0M290.6 319.9h0M218.7 272.3h0M226.6 290.6h0M224.8 254.0h0M279.6 290.8h0M293.0 309.7h0M260.4 233.1h0M259.4 233.8h0M300.7 228.2h0M232.2 266.3h0M293.8 286.2h0M224.0 238.5h0M245.7 284.6h0M208.7 313.7h0M308.9 288.3h0M206.8 241.7h0M286.6 295.3h0M264.6 315.9h0M286.7 288.0h0M216.4 204.4h0M309.1 224.1h0M297.1 280.2h0M243.2 299.7h0M214.8 317.9h0M235.2 265.6h0M200.0 268.2h0M276.3 284.7h0M197.2 257.4h0M227.3 207.5h0M214.3 221.3h0M237.7 312.8h0M301.9 284.2h0M274.2 301.8h0M292.3 302.3h0M255.5 204.7h0M230.4 292.7h0M329.2 296.8h0M329.0 298.4h0M207.7 220.1h0M210.1 275.4h0M209.9 262.3h0M290.8 237.4h0M284.9 224.0h0M311.7 245.1h0M193.5 305.0h0M194.6 306.3h0M311.2 281.1h0M211.4 235.2h0M293.4 258.6h0M192.8 256.5h0M191.6 254.9h0M319.6 252.0h0M189.6 292.0h0M189.0 299.0h0M303.4 228.5h0M256.2 228.7h0M192.3 216.1h0M192.8 229.2h0M189.1 232.5h0M202.8 218.1h0M270.3 234.9h0M311.3 222.9h0M212.5 216.6h0M212.9 215.4h0M195.5 209.8h0M278.6 234.6h0M266.8 251.1h0M238.3 226.0h0M312.3 319.2h0M310.7 318.8h0M217.7 282.0h0" stroke-width="1.4"/><path d="M211.8 316.0h0M294.5 231.8h0M294.1 232.8h0M332.0 221.0h0M289.3 300.4h0M207.4 300.8h0M206.0 302.1h0M239.6 281.5h0M220.6 225.6h0M193.4 225.4h0M223.2 220.9h0M206.6 234.9h0M207.4 236.0h0M305.2 267.3h0M282.2 295.3h0M297.9 305.0h0M268.8 228.5h0M199.6 286.5h0M247.7 298.1h0M254.6 306.3h0M246.5 283.2h0M190.4 272.9h0M316.5 312.4h0M330.4 249.9h0M258.9 289.8h0M244.4 270.6h0M263.4 301.8h0M190.4 316.3h0M295.0 232.0h0M196.0 253.0h0M242.8 300.6h0M251.4 212.3h0M196.5 237.8h0M197.8 237.8h0M242.6 202.6h0M189.8 264.6h0M287.3 316.9h0M291.8 279.8h0M305.4 236.8h0M234.3 285.8h0M281.9 298.0h0M232.8 294.5h0M274.7 303.2h0M334.1 258.1h0M208.5 299.8h0M200.5 281.4h0M187.8 258.6h0M256.0 275.4h0M272.8 205.1h0M230.4 201.9h0M317.4 242.2h0M221.4 265.0h0M326.4 203.5h0M216.2 276.4h0M240.3 281.3h0M200.1 205.9h0M198.5 285.4h0M270.8 254.9h0M319.6 317.2h0M187.2 224.4h0M275.8 261.7h0M203.7 302.3h0M266.0 200.8h0M237.8 292.8h0M313.1 216.2h0M315.9 208.8h0M235.0 316.9h0M253.7 316.7h0M276.3 289.6h0M197.4 258.4h0M286.4 293.7h0M300.7 307.7h0M274.1 318.3h0M308.6 262.7h0M197.8 277.0h0M201.6 251.7h0M220.8 294.2h0M267.5 204.0h0M262.6 256.6h0M270.8 267.4h0M272.5 267.1h0M275.1 220.9h0M274.9 207.5h0M199.0 288.4h0M247.8 300.5h0M279.0 304.4h0M277.2 303.9h0M192.5 238.0h0M304.1 228.4h0M320.1 237.6h0M298.9 317.9h0M286.4 289.6h0M280.6 260.0h0M327.2 213.7h0M193.0 276.4h0M189.6 286.9h0M205.1 210.1h0M206.4 208.5h0M296.6 228.6h0M237.1 313.7h0M212.8 223.8h0M196.2 273.2h0M225.2 201.9h0M234.3 293.0h0M288.9 283.7h0M239.3 289.6h0M238.9 315.5h0M330.5 234.8h0M328.6 234.3h0M189.5 209.2h0M205.8 203.0h0M225.5 239.0h0M304.6 307.0h0M304.3 309.2h0M238.1 314.7h0M269.6 257.4h0M302.6 220.2h0M190.3 255.5h0M228.9 257.1h0M227.3 258.5h0M273.1 318.6h0M221.5 263.8h0M256.9 279.3h0M276.1 304.1h0M186.9 286.9h0M262.2 216.3h0M229.0 311.5h0M288.5 314.8h0M203.6 295.6h0M207.1 207.0h0M244.9 236.7h0M244.6 238.4h0M307.3 240.6h0M306.2 239.8h0M323.8 212.4h0M222.6 279.9h0M230.5 276.6h0M297.4 205.1h0M209.2 247.7h0M218.5 244.9h0M263.0 315.8h0M328.0 231.7h0M322.1 216.3h0M325.6 291.5h0M229.1 281.5h0M205.0 317.5h0M206.3 318.9h0M212.0 220.2h0M258.0 299.1h0M242.6 310.1h0M287.6 227.9h0M280.2 225.6h0M331.5 319.6h0M187.7 286.9h0M278.5 247.1h0M268.9 289.8h0M301.6 298.5h0M256.6 314.8h0M246.8 259.4h0M188.3 230.7h0M310.3 206.5h0M322.4 212.2h0M321.0 216.7h0M257.1 273.1h0M220.7 215.0h0M212.6 216.4h0M292.1 314.6h0M290.4 313.3h0M238.4 257.0h0M240.3 257.5h0M216.5 240.0h0M320.6 246.9h0M332.2 219.9h0M190.5 251.3h0M225.7 300.8h0M330.5 235.3h0M283.4 305.4h0M255.3 306.0h0M322.7 226.2h0M216.8 253.3h0M216.6 254.9h0M289.7 205.1h0M277.9 278.0h0M312.9 209.8h0M186.3 276.7h0M201.5 221.6h0M326.4 314.7h0M266.0 245.1h0M204.0 292.0h0M201.2 229.3h0M308.7 212.3h0M246.5 230.1h0M266.7 200.0h0M330.6 206.0h0M329.0 206.8h0M272.3 223.0h0M196.1 304.5h0M214.7 237.3h0M270.6 317.6h0M284.5 270.5h0M193.1 271.4h0M313.2 304.8h0M261.6 245.3h0M320.1 223.8h0M322.5 280.7h0M298.7 201.9h0M332.8 289.0h0M293.6 237.7h0M292.9 236.5h0M305.1 273.1h0M307.7 267.4h0M293.9 253.1h0M220.4 280.3h0M206.6 255.2h0M230.3 256.4h0M199.2 223.9h0M269.3 272.8h0M309.2 276.9h0M270.5 202.8h0M189.1 250.2h0M221.6 242.5h0M303.3 226.3h0M324.9 232.6h0M199.0 267.0h0M202.5 230.2h0M266.0 254.5h0M302.8 209.7h0M295.9 292.1h0M202.6 232.4h0M187.6 262.1h0M331.0 239.9h0M204.7 216.9h0M222.2 238.9h0M206.3 224.0h0M205.8 226.1h0M287.0 293.2h0M317.0 283.7h0M271.9 265.3h0M233.6 265.4h0M256.7 295.5h0M255.3 296.1h0M280.4 257.8h0M266.5 302.6h0M187.2 213.0h0M226.8 286.3h0M224.8 286.9h0M273.3 206.8h0M329.7 286.3h0M330.0 206.9h0M335.1 241.1h0M287.7 236.3h0M284.7 282.6h0M329.6 312.8h0M306.2 215.9h0M289.9 274.2h0M191.6 240.2h0M312.0 270.6h0M266.3 317.6h0M201.4 252.6h0M212.4 218.8h0M267.0 271.4h0M286.7 304.6h0M317.5 230.7h0M202.1 314.2h0M211.1 221.4h0M195.4 208.5h0M256.9 315.4h0M274.9 269.8h0M208.1 282.1h0M194.1 207.1h0M265.9 221.0h0M280.8 297.1h0M282.6 295.9h0M239.7 260.6h0M312.5 220.8h0M186.9 243.1h0M216.1 289.0h0M274.6 318.7h0M196.9 217.9h0M215.0 203.9h0M188.1 290.6h0M195.1 232.5h0M278.5 303.4h0M199.1 233.0h0M312.6 310.9h0M289.6 258.9h0M285.6 295.8h0M268.5 250.9h0" stroke-width="1.8"/><path d="M232.1 276.3h0M199.9 260.4h0M326.4 222.2h0M196.1 243.0h0M290.5 276.1h0M297.1 303.9h0M192.6 275.9h0M261.8 287.9h0M196.7 219.5h0M195.9 218.0h0M198.9 206.5h0M285.0 237.8h0M286.5 238.8h0M253.0 203.4h0M322.0 253.1h0M293.1 231.4h0M284.3 305.6h0M272.2 315.6h0M243.8 300.2h0M279.1 305.8h0M292.6 282.4h0M277.6 234.0h0M289.8 285.0h0M332.3 258.1h0M326.5 321.2h0M210.6 285.0h0M228.6 285.8h0M271.8 305.1h0M323.3 212.6h0M257.2 276.9h0M272.8 207.1h0M265.1 219.1h0M266.3 220.5h0M274.6 205.2h0M206.9 285.9h0M208.1 284.3h0M232.2 202.5h0M245.1 289.8h0M216.2 275.3h0M303.8 285.8h0M187.0 258.7h0M252.1 227.9h0M225.0 235.3h0M197.8 220.9h0M198.7 221.9h0M320.5 318.0h0M248.3 231.9h0M325.3 244.3h0M204.9 300.8h0M312.4 214.7h0M289.8 224.5h0M208.0 241.7h0M252.8 317.1h0M256.3 316.5h0M255.9 314.4h0M257.5 238.6h0M257.8 240.5h0M204.7 278.4h0M233.5 306.4h0M199.7 290.1h0M303.5 227.5h0M287.5 290.6h0M233.9 281.5h0M316.8 237.1h0M206.1 248.5h0M205.8 250.0h0M211.4 261.0h0M216.9 232.3h0M283.0 290.1h0M290.2 205.3h0M326.8 302.7h0M213.2 224.9h0M218.3 268.7h0M296.4 236.3h0M188.3 244.0h0M272.8 292.7h0M220.8 269.7h0M280.9 252.2h0M325.6 246.6h0M262.1 226.7h0M225.1 267.4h0M293.8 266.1h0M274.9 304.2h0M188.5 285.8h0M221.5 281.6h0M199.9 247.7h0M275.9 229.3h0M256.9 289.8h0M328.9 233.1h0M229.5 243.7h0M222.2 312.2h0M221.9 313.7h0M204.1 240.3h0M193.3 254.8h0M211.1 219.2h0M257.8 287.4h0M288.6 226.6h0M267.9 302.8h0M256.4 313.2h0M190.3 230.0h0M190.1 292.5h0M319.8 216.9h0M256.8 275.2h0M197.2 252.0h0M316.2 280.4h0M224.4 313.6h0M223.6 313.0h0M333.4 221.3h0M323.4 212.7h0M197.3 271.1h0M195.9 270.5h0M193.9 256.9h0M229.6 288.5h0M308.7 246.8h0M309.4 245.1h0M256.5 305.7h0M319.8 214.7h0M274.9 273.9h0M201.8 236.4h0M197.5 240.6h0M259.7 311.7h0M245.6 304.5h0M252.6 316.3h0M313.3 211.4h0M283.6 267.4h0M285.1 267.3h0M202.4 230.9h0M279.8 288.0h0M245.4 274.5h0M265.9 201.4h0M229.1 204.6h0M256.1 316.7h0M195.8 263.1h0M312.1 304.9h0M228.6 209.7h0M293.5 205.1h0M335.0 209.8h0M200.3 296.6h0M201.4 295.4h0M187.2 213.4h0M210.7 264.3h0M333.1 226.2h0M333.0 225.1h0M249.0 223.5h0M292.0 271.4h0M306.3 227.0h0M229.0 257.1h0M277.6 275.6h0M264.9 287.6h0M287.2 230.8h0M263.5 304.3h0M196.8 295.7h0M271.8 307.7h0M271.1 203.7h0M271.6 320.8h0M285.0 288.8h0M323.1 232.5h0M201.8 231.1h0M301.9 253.5h0M252.9 318.2h0M252.1 319.5h0M296.4 293.7h0M263.1 236.0h0M302.9 308.2h0M244.1 309.8h0M299.8 271.0h0M290.6 276.8h0M271.5 263.4h0M321.4 258.6h0M231.9 305.7h0M324.4 304.1h0M265.4 302.4h0M269.8 274.3h0M279.6 236.8h0M251.3 209.9h0M270.7 312.5h0M270.1 311.4h0M269.6 276.9h0M198.4 214.0h0M308.2 215.3h0M306.4 240.1h0M197.3 214.8h0M198.4 292.9h0M292.4 297.7h0M291.8 295.7h0M287.9 243.2h0M230.9 312.7h0M197.4 208.8h0M303.9 239.9h0M303.5 238.0h0M246.2 273.2h0M269.1 253.1h0M196.4 217.4h0M325.4 282.0h0M326.7 283.6h0M219.8 216.3h0M264.8 254.8h0M217.4 287.8h0M244.2 309.0h0M258.5 249.7h0M304.1 218.8h0M232.9 294.5h0M296.9 307.3h0M304.4 238.1h0M292.5 288.8h0" stroke-width="2.3"/><path d="M190.0 299.3h0M191.3 215.8h0M208.9 234.3h0M324.3 211.0h0M256.8 303.0h0M280.6 231.8h0M225.4 313.7h0M299.2 223.2h0M290.1 235.4h0M226.5 266.7h0M209.8 241.4h0M266.1 204.8h0M195.3 285.8h0M195.8 286.7h0M286.4 247.6h0M218.2 248.6h0M203.0 270.5h0M185.1 320.6h0M252.5 305.9h0M197.4 309.9h0M198.8 310.8h0M227.9 209.5h0M216.2 212.2h0M188.4 214.5h0M275.2 230.4h0M204.7 306.8h0M258.2 296.5h0M212.5 305.5h0M233.9 276.7h0M233.0 277.8h0M244.6 308.6h0M242.5 298.5h0M302.7 205.8h0M314.1 204.9h0M233.6 294.1h0M306.8 213.3h0M319.2 300.7h0" stroke-width="2.9"/><path d="M218.5 282.9h0M320.6 224.1h0M244.9 313.9h0M186.2 319.9h0M213.5 214.4h0M200.0 252.2h0M244.3 297.4h0M261.2 212.2h0M241.6 316.0h0" stroke-width="3.6"/></g></g>
<rect x="187.00" y="294.20" width="39.00" height="26.00" fill="#fff" stroke="none" stroke-width="0"/>
<rect x="187.0" y="201.8" width="147.2" height="118.4" fill="none" stroke="#707070" stroke-width="1.2"/>
<text x="193.50" y="312.20" font-size="12.5" text-anchor="start" font-weight="normal" font-style="normal" fill="#222" stroke="#222" >Veh</text>
<g clip-path="url(#c3)"><g filter="url(#fbl2)">
<rect x="29.00" y="341.00" width="152.00" height="125.00" fill="#f0d3cf" stroke="none" stroke-width="0"/>
<rect x="29" y="341" width="152" height="125" fill="#fff" filter="url(#fred2)"/>
<g fill="#8ca8e8" fill-opacity="0.7"><circle cx="35.8" cy="344.4" r="2.1"/><circle cx="40.7" cy="348.2" r="1.6"/><circle cx="49.6" cy="345.8" r="1.9"/><circle cx="59.3" cy="344.2" r="1.7"/><circle cx="64.8" cy="345.6" r="2.3"/><circle cx="72.1" cy="344.9" r="2.3"/><circle cx="82.3" cy="345.5" r="2.0"/><circle cx="90.6" cy="346.0" r="2.0"/><circle cx="104.2" cy="344.1" r="2.3"/><circle cx="112.5" cy="348.0" r="2.0"/><circle cx="123.5" cy="345.1" r="1.8"/><circle cx="139.0" cy="344.2" r="2.1"/><circle cx="147.8" cy="347.5" r="1.9"/><circle cx="152.3" cy="346.1" r="1.9"/><circle cx="163.6" cy="346.0" r="2.1"/><circle cx="168.7" cy="343.9" r="1.8"/><circle cx="177.5" cy="345.5" r="2.2"/><circle cx="45.3" cy="351.5" r="2.0"/><circle cx="63.0" cy="352.1" r="1.5"/><circle cx="76.3" cy="352.7" r="1.7"/><circle cx="85.6" cy="352.6" r="2.0"/><circle cx="92.0" cy="351.1" r="1.6"/><circle cx="101.2" cy="354.3" r="1.9"/><circle cx="111.9" cy="351.0" r="1.5"/><circle cx="117.3" cy="353.3" r="2.1"/><circle cx="127.8" cy="350.8" r="2.2"/><circle cx="135.5" cy="350.9" r="2.3"/><circle cx="156.4" cy="355.0" r="1.8"/><circle cx="166.3" cy="352.9" r="1.9"/><circle cx="172.1" cy="353.3" r="1.9"/><circle cx="33.5" cy="360.9" r="2.1"/><circle cx="41.3" cy="359.3" r="1.7"/><circle cx="49.6" cy="358.2" r="2.1"/><circle cx="58.3" cy="357.8" r="1.8"/><circle cx="64.0" cy="362.0" r="2.1"/><circle cx="74.7" cy="358.6" r="1.7"/><circle cx="82.9" cy="360.6" r="1.5"/><circle cx="91.6" cy="361.0" r="2.3"/><circle cx="104.9" cy="360.1" r="2.3"/><circle cx="115.7" cy="361.5" r="1.9"/><circle cx="123.8" cy="361.2" r="1.7"/><circle cx="137.2" cy="361.9" r="2.2"/><circle cx="144.9" cy="360.4" r="2.2"/><circle cx="155.7" cy="360.9" r="2.2"/><circle cx="161.2" cy="359.6" r="1.9"/><circle cx="171.3" cy="358.9" r="1.5"/><circle cx="176.8" cy="359.6" r="1.6"/><circle cx="44.9" cy="368.2" r="1.9"/><circle cx="55.5" cy="366.5" r="1.8"/><circle cx="76.7" cy="368.3" r="2.0"/><circle cx="95.0" cy="368.2" r="1.8"/><circle cx="103.0" cy="369.0" r="2.3"/><circle cx="118.3" cy="367.7" r="1.5"/><circle cx="127.4" cy="368.7" r="2.3"/><circle cx="134.3" cy="368.5" r="2.0"/><circle cx="139.8" cy="368.7" r="2.2"/><circle cx="149.2" cy="368.3" r="2.2"/><circle cx="158.2" cy="366.1" r="1.7"/><circle cx="165.0" cy="367.0" r="1.6"/><circle cx="173.1" cy="365.4" r="1.7"/><circle cx="33.5" cy="375.1" r="1.6"/><circle cx="40.9" cy="372.4" r="2.1"/><circle cx="47.8" cy="374.1" r="2.1"/><circle cx="65.0" cy="375.5" r="2.1"/><circle cx="74.1" cy="375.8" r="2.3"/><circle cx="89.0" cy="373.4" r="1.6"/><circle cx="107.5" cy="374.2" r="2.0"/><circle cx="115.7" cy="374.2" r="2.2"/><circle cx="131.9" cy="373.8" r="1.8"/><circle cx="145.0" cy="374.6" r="1.9"/><circle cx="155.3" cy="373.8" r="2.3"/><circle cx="163.7" cy="372.9" r="1.7"/><circle cx="171.0" cy="375.3" r="2.0"/><circle cx="177.3" cy="371.8" r="1.8"/><circle cx="46.7" cy="381.3" r="1.6"/><circle cx="52.0" cy="379.4" r="2.0"/><circle cx="63.8" cy="380.5" r="2.0"/><circle cx="80.0" cy="378.8" r="2.0"/><circle cx="87.9" cy="380.2" r="2.3"/><circle cx="93.7" cy="379.3" r="1.7"/><circle cx="101.1" cy="380.2" r="2.2"/><circle cx="110.4" cy="378.8" r="1.6"/><circle cx="119.5" cy="380.0" r="1.5"/><circle cx="125.2" cy="380.2" r="2.0"/><circle cx="134.4" cy="382.1" r="2.1"/><circle cx="142.2" cy="379.7" r="2.2"/><circle cx="151.4" cy="380.6" r="2.0"/><circle cx="158.5" cy="380.1" r="2.0"/><circle cx="165.2" cy="381.2" r="1.9"/><circle cx="173.3" cy="381.0" r="2.1"/><circle cx="32.2" cy="389.2" r="1.5"/><circle cx="58.4" cy="386.7" r="2.2"/><circle cx="64.1" cy="385.7" r="2.1"/><circle cx="73.0" cy="389.9" r="2.1"/><circle cx="82.1" cy="388.4" r="1.5"/><circle cx="99.4" cy="387.4" r="2.3"/><circle cx="107.9" cy="386.0" r="1.9"/><circle cx="115.9" cy="388.7" r="2.3"/><circle cx="128.3" cy="386.2" r="2.1"/><circle cx="145.1" cy="388.2" r="2.0"/><circle cx="154.7" cy="386.4" r="1.5"/><circle cx="161.7" cy="388.6" r="1.7"/><circle cx="170.6" cy="386.7" r="1.9"/><circle cx="177.4" cy="386.5" r="2.1"/><circle cx="36.4" cy="396.1" r="2.0"/><circle cx="62.7" cy="393.9" r="2.0"/><circle cx="69.1" cy="394.7" r="2.2"/><circle cx="79.6" cy="396.3" r="2.3"/><circle cx="86.3" cy="394.6" r="1.7"/><circle cx="100.3" cy="393.6" r="1.7"/><circle cx="110.2" cy="393.4" r="2.1"/><circle cx="116.8" cy="394.5" r="2.3"/><circle cx="124.6" cy="395.1" r="2.2"/><circle cx="143.0" cy="393.0" r="1.8"/><circle cx="157.6" cy="395.2" r="1.9"/><circle cx="167.5" cy="396.8" r="1.6"/><circle cx="41.8" cy="401.1" r="1.9"/><circle cx="50.3" cy="400.0" r="2.3"/><circle cx="58.0" cy="400.4" r="2.0"/><circle cx="65.1" cy="401.2" r="1.7"/><circle cx="72.3" cy="401.6" r="2.2"/><circle cx="83.9" cy="403.7" r="1.9"/><circle cx="91.0" cy="403.4" r="1.9"/><circle cx="98.6" cy="401.7" r="1.9"/><circle cx="105.6" cy="401.6" r="2.2"/><circle cx="112.1" cy="403.5" r="1.9"/><circle cx="123.6" cy="402.7" r="2.0"/><circle cx="137.6" cy="400.3" r="1.6"/><circle cx="161.9" cy="402.5" r="2.0"/><circle cx="171.6" cy="401.9" r="2.1"/><circle cx="177.5" cy="402.6" r="1.6"/><circle cx="38.5" cy="409.2" r="1.7"/><circle cx="44.0" cy="407.0" r="1.6"/><circle cx="54.1" cy="409.5" r="1.8"/><circle cx="69.1" cy="407.0" r="1.9"/><circle cx="78.2" cy="408.4" r="1.8"/><circle cx="84.1" cy="407.3" r="1.9"/><circle cx="92.0" cy="410.2" r="1.5"/><circle cx="101.6" cy="407.9" r="1.9"/><circle cx="110.2" cy="409.9" r="1.9"/><circle cx="117.4" cy="407.0" r="1.5"/><circle cx="125.6" cy="407.7" r="2.0"/><circle cx="135.6" cy="407.1" r="2.3"/><circle cx="143.5" cy="410.8" r="1.8"/><circle cx="158.1" cy="410.2" r="2.3"/><circle cx="164.6" cy="410.5" r="2.0"/><circle cx="35.3" cy="414.1" r="1.6"/><circle cx="43.7" cy="415.1" r="1.8"/><circle cx="47.9" cy="415.3" r="1.9"/><circle cx="58.8" cy="414.8" r="2.3"/><circle cx="72.0" cy="415.9" r="2.0"/><circle cx="81.5" cy="416.6" r="2.3"/><circle cx="87.8" cy="416.2" r="2.0"/><circle cx="99.7" cy="413.6" r="1.5"/><circle cx="104.0" cy="414.0" r="2.2"/><circle cx="115.5" cy="416.9" r="2.0"/><circle cx="120.0" cy="417.7" r="2.2"/><circle cx="136.8" cy="416.2" r="1.8"/><circle cx="144.1" cy="415.2" r="1.6"/><circle cx="155.9" cy="417.5" r="2.2"/><circle cx="163.0" cy="414.1" r="2.0"/><circle cx="44.9" cy="420.5" r="1.7"/><circle cx="62.3" cy="423.9" r="1.7"/><circle cx="71.5" cy="423.0" r="1.5"/><circle cx="78.8" cy="423.7" r="1.6"/><circle cx="86.8" cy="423.3" r="1.8"/><circle cx="103.5" cy="421.0" r="1.9"/><circle cx="118.9" cy="424.2" r="2.0"/><circle cx="127.2" cy="422.7" r="2.3"/><circle cx="140.9" cy="424.3" r="1.6"/><circle cx="150.2" cy="423.4" r="2.3"/><circle cx="166.7" cy="422.7" r="2.2"/><circle cx="172.2" cy="423.1" r="1.5"/><circle cx="33.1" cy="431.4" r="1.7"/><circle cx="42.1" cy="428.2" r="1.9"/><circle cx="50.8" cy="430.8" r="2.0"/><circle cx="66.9" cy="427.7" r="1.8"/><circle cx="75.5" cy="429.5" r="1.8"/><circle cx="83.8" cy="431.0" r="2.2"/><circle cx="91.1" cy="429.8" r="1.8"/><circle cx="96.8" cy="428.8" r="1.9"/><circle cx="113.3" cy="428.5" r="1.9"/><circle cx="122.3" cy="431.1" r="2.3"/><circle cx="128.3" cy="430.5" r="2.1"/><circle cx="135.9" cy="430.3" r="1.8"/><circle cx="146.1" cy="431.2" r="1.6"/><circle cx="151.8" cy="430.4" r="1.5"/><circle cx="169.9" cy="428.5" r="2.2"/><circle cx="178.2" cy="431.0" r="2.0"/><circle cx="36.1" cy="435.5" r="2.1"/><circle cx="47.8" cy="438.2" r="2.0"/><circle cx="60.3" cy="436.1" r="1.5"/><circle cx="72.0" cy="436.1" r="2.0"/><circle cx="78.6" cy="435.8" r="2.3"/><circle cx="84.8" cy="436.2" r="1.5"/><circle cx="94.9" cy="436.1" r="1.9"/><circle cx="103.2" cy="438.2" r="1.8"/><circle cx="109.5" cy="438.1" r="2.0"/><circle cx="116.1" cy="438.2" r="1.5"/><circle cx="126.2" cy="435.1" r="1.9"/><circle cx="147.7" cy="435.4" r="1.5"/><circle cx="165.2" cy="438.1" r="1.9"/><circle cx="171.9" cy="435.3" r="1.7"/><circle cx="42.0" cy="442.4" r="1.8"/><circle cx="58.7" cy="442.6" r="1.8"/><circle cx="65.1" cy="443.4" r="1.9"/><circle cx="71.9" cy="443.0" r="1.8"/><circle cx="80.9" cy="443.2" r="2.1"/><circle cx="87.9" cy="443.6" r="2.0"/><circle cx="103.6" cy="443.9" r="1.7"/><circle cx="112.9" cy="441.6" r="2.0"/><circle cx="121.7" cy="445.1" r="1.9"/><circle cx="136.4" cy="443.0" r="1.7"/><circle cx="144.1" cy="444.4" r="1.7"/><circle cx="152.6" cy="441.9" r="1.6"/><circle cx="171.7" cy="443.3" r="2.2"/><circle cx="178.2" cy="444.2" r="1.7"/><circle cx="39.6" cy="450.0" r="1.5"/><circle cx="47.0" cy="450.2" r="2.2"/><circle cx="53.6" cy="450.1" r="1.5"/><circle cx="62.4" cy="452.1" r="1.6"/><circle cx="77.4" cy="448.4" r="1.5"/><circle cx="87.5" cy="451.0" r="1.6"/><circle cx="92.2" cy="450.3" r="2.1"/><circle cx="101.0" cy="449.6" r="1.7"/><circle cx="110.8" cy="449.9" r="1.6"/><circle cx="115.8" cy="450.3" r="2.0"/><circle cx="125.6" cy="452.6" r="1.6"/><circle cx="134.1" cy="450.0" r="1.7"/><circle cx="141.9" cy="450.7" r="2.1"/><circle cx="149.9" cy="452.5" r="1.6"/><circle cx="158.3" cy="451.6" r="1.5"/><circle cx="164.8" cy="451.1" r="1.6"/><circle cx="173.4" cy="448.9" r="2.1"/><circle cx="49.4" cy="455.3" r="1.8"/><circle cx="56.9" cy="457.0" r="2.3"/><circle cx="64.8" cy="457.1" r="2.3"/><circle cx="73.7" cy="459.5" r="1.9"/><circle cx="81.1" cy="458.2" r="1.6"/><circle cx="99.6" cy="455.9" r="1.5"/><circle cx="105.7" cy="457.5" r="2.0"/><circle cx="115.7" cy="455.8" r="1.6"/><circle cx="121.3" cy="455.9" r="2.1"/><circle cx="128.2" cy="456.8" r="2.2"/><circle cx="135.9" cy="457.7" r="1.9"/><circle cx="146.9" cy="455.8" r="2.1"/><circle cx="168.6" cy="458.3" r="2.3"/><circle cx="37.0" cy="466.2" r="1.6"/><circle cx="47.4" cy="464.6" r="2.1"/><circle cx="54.7" cy="463.1" r="2.1"/><circle cx="60.4" cy="462.7" r="1.7"/><circle cx="70.7" cy="466.1" r="2.2"/><circle cx="77.8" cy="462.7" r="2.0"/><circle cx="87.8" cy="464.1" r="1.6"/><circle cx="93.0" cy="464.3" r="1.8"/><circle cx="107.9" cy="464.6" r="1.9"/><circle cx="119.8" cy="465.8" r="1.8"/><circle cx="127.5" cy="465.7" r="2.3"/><circle cx="132.6" cy="464.4" r="1.9"/><circle cx="140.2" cy="466.4" r="1.9"/><circle cx="150.2" cy="462.4" r="2.2"/><circle cx="156.5" cy="462.3" r="1.9"/><circle cx="175.8" cy="464.8" r="1.9"/></g>
<path d="M126 387 Q131 380 140 378 Q148 377 153 382 Q158 385 162.5 387 Q157 389 152 392.5 Q146 398.5 139 397 Q131 396 127 392 Z" fill="#d9f1f4"/>
</g></g>
<rect x="31.80" y="436.80" width="39.00" height="26.00" fill="#fff" stroke="none" stroke-width="0"/>
<rect x="31.8" y="344.0" width="147.0" height="118.8" fill="none" stroke="#707070" stroke-width="1.2"/>
<text x="38.30" y="454.80" font-size="12.5" text-anchor="start" font-weight="normal" font-style="normal" fill="#222" stroke="#222" >CP</text>
<rect x="187.00" y="344.00" width="147.20" height="118.80" fill="#fff" stroke="none" stroke-width="0"/>
<g clip-path="url(#cl17)"><g fill="none" stroke="#e2161e" stroke-linecap="round" filter="url(#fsb)"><path d="M241.9 455.7h0M304.5 411.4h0M230.1 446.9h0M320.9 410.9h0M251.4 439.4h0M254.0 393.1h0M253.6 391.7h0M209.3 414.6h0M268.4 461.2h0M206.0 381.8h0M207.7 383.0h0M263.5 388.5h0M246.1 361.2h0M243.5 456.9h0M316.9 439.8h0M310.3 414.8h0M240.5 382.0h0M319.1 403.2h0M243.2 455.0h0M186.4 409.5h0M329.1 416.4h0M329.0 414.6h0M288.3 345.8h0M275.7 363.4h0M192.9 440.0h0M225.5 456.6h0M224.1 456.7h0M316.5 404.1h0M314.9 404.3h0M248.4 408.2h0M249.4 409.2h0M327.0 446.7h0M326.1 447.3h0M215.7 453.9h0M203.2 345.0h0M226.8 455.4h0M218.2 462.0h0M263.7 371.5h0M242.6 382.6h0M226.2 359.1h0M205.4 439.5h0M206.9 369.8h0M205.7 369.8h0M232.0 430.1h0M226.5 447.2h0M250.3 363.2h0M323.2 371.0h0M220.6 460.0h0M241.2 430.8h0M240.3 432.5h0M329.0 411.8h0M330.0 412.7h0M205.3 449.4h0M207.2 368.9h0M215.9 353.5h0M216.8 352.0h0M203.8 396.6h0M202.1 396.3h0M261.0 409.1h0M308.5 410.1h0M309.9 410.7h0M227.5 413.7h0M263.7 379.7h0M235.7 449.9h0M280.6 343.8h0M227.0 449.6h0M273.0 364.0h0M241.8 406.5h0M240.4 406.8h0M224.8 386.7h0M290.1 369.6h0M271.8 411.9h0M271.9 413.8h0M306.5 430.3h0M236.6 353.5h0M301.4 418.2h0M325.1 393.3h0M293.9 442.9h0M281.1 414.0h0M268.1 393.6h0M319.8 367.4h0M244.8 389.4h0M244.3 388.4h0M227.6 350.2h0M323.8 419.2h0M334.5 404.2h0M221.6 379.6h0M222.6 363.7h0M327.3 410.7h0M202.9 376.3h0M200.8 376.8h0M333.1 453.9h0M282.6 458.9h0M262.3 456.7h0M262.9 457.5h0M314.8 382.3h0M291.1 365.0h0M225.7 445.5h0M200.4 409.5h0M192.8 440.1h0M303.5 344.2h0M302.8 342.8h0M186.6 416.3h0M187.4 415.3h0M192.6 401.2h0M194.5 401.5h0M204.6 401.1h0M328.5 405.4h0M191.1 347.6h0M213.1 409.4h0M323.8 395.0h0M330.2 390.7h0M329.9 380.8h0M330.1 382.1h0M184.8 345.5h0M271.4 417.6h0M262.3 458.9h0M264.0 459.7h0M329.9 419.7h0M325.4 348.2h0M315.0 404.0h0M330.2 372.0h0M303.9 422.4h0M304.9 423.4h0M202.6 377.7h0M242.9 394.8h0M224.0 351.7h0M224.6 352.6h0M235.8 381.4h0M210.4 449.0h0M193.5 431.9h0M271.1 380.6h0M211.4 395.4h0M216.0 390.4h0M309.9 353.5h0M232.4 369.7h0M314.3 357.9h0M264.8 453.0h0M236.4 442.2h0M224.9 346.7h0M306.7 415.3h0M305.3 415.4h0M237.6 448.8h0M238.9 450.2h0M235.4 392.9h0M210.6 434.4h0M334.0 365.0h0M198.2 380.6h0M331.3 444.3h0M283.9 353.0h0M284.1 351.8h0M202.4 418.6h0M197.4 424.8h0M198.6 423.2h0M317.0 383.7h0M231.1 428.4h0M264.2 449.0h0M197.2 355.5h0M280.6 345.3h0M235.3 427.3h0M307.1 422.3h0M238.9 414.7h0M217.1 357.8h0M204.3 363.9h0M191.6 418.1h0M202.7 371.8h0M303.6 442.3h0M303.4 441.0h0M244.4 390.0h0M232.8 447.7h0M202.2 351.5h0M205.2 379.2h0M204.9 378.2h0M283.8 353.4h0M264.2 351.7h0M216.0 399.6h0M216.0 401.1h0M334.2 348.6h0M217.3 403.3h0M212.8 425.4h0M309.6 375.2h0M311.3 376.3h0M188.1 400.5h0M259.8 461.5h0M261.2 461.2h0M219.3 355.1h0M244.6 462.0h0M213.3 445.6h0M213.3 444.5h0M190.5 412.6h0M315.0 363.8h0M280.7 456.2h0M214.6 454.6h0M195.3 369.5h0M196.1 368.4h0M200.0 386.8h0M325.3 387.2h0M324.2 386.4h0M236.8 449.0h0M324.9 387.9h0M293.2 355.9h0M191.0 356.8h0M190.1 357.8h0M211.6 353.0h0M219.8 383.2h0M306.2 363.4h0M317.2 460.1h0M196.8 354.0h0M212.2 402.4h0M268.8 435.2h0M267.1 435.4h0M266.5 406.8h0M266.2 405.2h0M335.1 435.3h0M258.9 365.3h0M259.2 366.4h0M254.8 457.3h0M202.6 355.5h0M201.4 356.7h0M268.6 431.8h0M317.2 456.5h0M193.5 383.6h0M330.4 455.7h0M328.8 456.4h0M278.0 364.9h0M209.2 388.9h0M288.0 365.8h0M259.0 353.3h0M259.9 352.7h0M230.6 356.1h0M308.8 433.8h0M222.7 386.7h0M212.7 455.3h0M258.1 361.5h0M256.8 363.3h0M332.8 347.2h0M312.5 412.1h0M318.2 350.2h0M317.8 352.1h0M326.8 445.6h0M298.3 406.6h0M295.6 363.9h0M294.3 363.1h0M214.4 451.0h0M291.9 412.0h0M307.6 424.0h0M292.2 362.3h0M225.0 377.8h0M299.5 418.0h0M256.1 354.5h0M321.3 457.1h0M203.7 386.7h0M205.2 385.5h0M252.5 348.0h0M238.4 346.9h0M228.8 360.8h0M308.2 410.4h0M306.6 410.2h0M205.9 358.7h0M204.4 358.6h0M308.6 377.1h0M309.9 377.7h0M195.8 408.2h0M232.3 445.6h0M275.8 356.9h0M221.6 459.8h0M223.0 459.5h0M312.3 412.3h0M288.4 358.4h0M286.7 399.7h0M272.8 432.5h0M273.4 430.7h0M311.0 382.5h0M221.5 393.5h0M222.3 392.9h0M235.4 365.6h0M235.2 367.6h0M328.3 401.7h0M279.9 349.9h0M222.2 439.2h0M260.6 349.0h0M188.9 348.3h0M189.5 349.2h0M323.4 421.6h0M199.4 409.2h0M200.0 407.8h0M233.5 432.2h0M201.4 450.5h0M246.2 373.1h0M208.6 459.4h0M309.5 431.6h0M243.3 383.4h0M254.6 419.3h0M256.3 448.4h0M283.3 349.4h0M235.6 354.3h0M241.0 348.0h0M332.7 461.2h0M280.1 360.1h0M247.4 346.5h0M243.0 361.8h0M295.5 346.2h0M295.4 347.5h0M312.2 412.7h0M317.4 379.1h0M318.7 379.3h0M266.6 368.4h0M262.9 420.8h0M263.1 422.8h0M331.3 433.2h0M209.3 442.7h0M207.8 442.5h0M298.8 414.5h0M282.6 377.2h0M282.1 378.7h0M224.8 400.6h0M242.2 448.4h0M322.5 418.1h0M324.3 417.9h0M186.4 350.9h0M324.2 356.8h0M188.4 449.5h0M261.6 353.3h0M257.8 430.9h0M297.0 401.4h0M218.9 456.7h0M302.2 369.5h0M302.4 459.2h0M302.7 458.0h0M189.0 378.7h0M233.6 399.1h0M191.0 368.9h0M248.1 460.1h0M193.5 364.5h0M194.8 365.0h0M253.7 453.4h0M316.2 380.9h0M206.6 357.4h0M204.6 357.6h0M245.5 362.9h0M326.9 386.9h0M320.6 399.5h0M318.8 399.0h0M308.7 357.8h0M213.3 370.3h0M252.6 428.9h0M296.2 441.8h0M254.3 365.5h0M322.2 373.9h0M242.8 395.8h0M186.6 380.4h0M261.2 345.2h0M194.4 357.3h0M240.8 357.0h0M303.3 462.9h0M206.4 343.3h0M222.7 416.5h0M212.1 435.5h0M268.6 365.8h0M219.0 352.0h0M218.4 353.3h0M319.2 407.5h0M238.3 353.3h0M246.5 362.3h0M235.7 416.1h0M187.7 392.6h0M187.9 390.9h0M318.2 348.3h0M211.1 396.1h0M212.2 394.6h0M222.8 388.4h0M222.8 387.2h0M212.7 362.6h0M213.6 364.0h0M217.5 378.8h0M217.0 380.0h0M299.1 430.6h0M313.1 392.2h0M322.7 369.9h0M321.7 370.4h0M191.8 379.3h0M218.2 462.6h0M217.8 378.8h0M230.1 402.8h0M233.2 459.6h0M192.1 400.7h0M234.7 453.2h0M306.4 402.4h0M326.5 463.2h0M203.7 396.0h0M247.6 455.1h0M260.0 443.6h0M236.4 412.8h0M204.3 447.3h0M263.5 463.0h0M261.6 464.0h0M299.0 345.5h0M327.2 450.6h0M201.9 385.0h0M202.5 386.2h0M284.4 421.6h0M211.5 363.0h0M212.0 361.4h0M190.4 384.2h0M276.7 398.7h0M275.4 400.1h0M308.7 365.3h0M249.4 454.0h0M197.6 462.6h0M310.9 367.0h0M192.5 360.7h0M234.3 401.7h0M234.7 435.8h0M233.3 437.1h0M270.9 444.5h0M225.2 393.2h0M208.4 463.0h0M235.8 441.8h0M192.0 412.0h0M190.8 410.6h0M241.3 409.7h0M242.2 411.1h0M230.8 462.5h0M201.4 437.6h0M261.0 349.7h0M215.9 460.5h0M292.3 462.1h0M304.5 434.7h0M335.1 455.5h0M306.1 345.6h0M306.6 347.6h0M302.2 346.4h0M227.7 352.2h0M226.8 353.0h0M221.4 377.9h0M225.0 449.5h0M296.0 359.8h0M296.9 360.9h0M227.0 451.8h0M226.8 453.1h0M194.9 353.6h0M281.6 428.5h0M280.3 429.9h0M317.1 353.7h0M318.1 354.6h0M334.4 377.9h0M334.3 376.8h0M225.1 393.6h0M217.0 346.3h0M218.7 346.1h0M202.8 406.7h0M317.0 454.0h0M317.5 395.6h0M317.1 397.6h0M332.7 369.8h0M299.4 413.6h0M259.8 366.8h0M246.3 421.6h0M245.1 422.2h0M246.9 392.3h0M247.2 390.7h0M288.9 420.8h0M289.1 421.9h0M307.5 360.7h0M322.6 436.0h0M257.0 431.0h0M283.5 428.2h0M285.2 428.4h0M319.8 353.5h0M318.8 354.0h0M202.0 460.7h0M289.8 411.1h0M271.6 381.5h0M270.6 383.5h0M249.1 423.3h0M209.4 453.9h0M210.1 378.7h0M271.8 344.1h0M229.2 357.8h0M216.4 401.3h0M334.4 391.1h0M333.4 389.4h0M317.1 359.1h0M316.7 358.0h0M212.7 351.4h0M214.0 351.3h0M260.3 389.4h0M221.5 370.4h0M275.9 415.5h0M261.1 361.1h0M186.0 384.6h0M254.6 415.0h0M315.3 419.6h0M190.5 371.6h0M191.5 370.2h0M317.4 428.5h0M286.3 453.4h0M317.8 387.7h0M303.6 407.4h0M227.5 354.1h0M275.7 358.5h0M201.0 354.1h0M310.8 448.5h0M210.4 449.6h0M208.5 427.4h0M209.5 427.2h0M197.1 367.5h0M260.6 447.3h0M217.2 362.5h0M232.9 453.7h0M274.5 375.7h0M274.4 374.6h0M204.1 349.2h0M203.3 350.0h0M208.8 441.0h0M231.2 442.7h0M265.5 359.0h0M324.3 363.5h0M299.6 430.6h0M299.2 432.3h0M188.9 346.6h0M246.6 390.0h0M245.1 391.0h0M255.3 457.4h0M189.2 355.1h0M236.4 437.7h0M204.4 444.7h0M205.6 445.6h0M197.0 357.3h0M293.7 360.8h0M250.5 345.0h0M271.4 440.3h0M201.1 430.0h0M201.9 428.4h0M211.0 399.4h0M218.4 343.8h0M218.6 345.7h0M303.9 397.9h0M304.4 398.8h0M310.1 415.5h0M312.4 407.4h0M313.8 377.1h0M315.9 377.2h0M322.8 459.9h0M323.7 460.5h0M320.7 350.3h0M211.1 426.4h0M232.0 393.1h0M224.9 452.2h0M260.8 429.7h0M289.7 359.0h0M298.1 352.5h0M312.3 427.6h0M311.5 429.5h0M232.2 365.1h0M196.7 409.3h0M219.3 455.5h0M217.3 455.5h0M199.3 390.1h0M203.5 409.3h0M200.1 423.4h0M208.1 398.6h0M312.3 360.4h0M312.0 362.5h0M326.2 382.8h0M317.0 452.4h0M223.5 459.9h0M228.1 436.9h0M226.8 437.6h0M239.6 422.5h0M237.8 451.5h0M245.6 363.9h0M208.0 411.7h0M209.6 410.4h0M232.4 375.6h0M234.4 376.4h0M224.9 372.0h0M255.9 397.5h0M267.9 347.2h0M268.6 345.7h0M227.9 374.5h0M229.9 461.4h0M314.0 359.0h0M246.2 364.3h0M225.2 444.5h0M226.1 443.7h0M196.0 372.2h0M194.7 372.8h0M213.6 347.8h0M214.9 347.9h0M263.9 420.4h0M249.5 359.9h0M279.6 360.8h0M280.0 359.6h0M265.1 454.9h0M220.3 345.3h0M220.4 343.2h0M322.9 401.0h0M263.2 361.2h0M293.4 354.8h0M332.2 431.1h0M241.5 456.9h0M216.3 373.8h0M310.1 343.2h0M191.3 401.5h0M233.6 413.3h0M200.8 421.2h0M208.1 455.3h0M209.4 454.5h0M196.2 385.7h0M197.5 387.2h0M263.9 371.6h0M287.0 374.2h0M260.2 451.6h0M259.0 453.3h0M272.9 353.7h0M229.4 377.2h0M229.3 378.3h0M200.5 362.9h0M198.7 364.3h0M288.2 353.2h0M190.6 443.4h0M254.4 387.9h0M213.4 396.8h0M323.2 462.2h0M198.3 458.4h0M197.6 459.5h0M219.0 382.5h0M220.0 381.6h0M242.9 349.5h0M266.0 462.6h0M267.5 462.4h0M251.7 463.8h0M258.4 389.3h0M275.8 417.4h0M310.4 365.2h0M228.7 397.6h0M192.0 428.9h0M193.9 429.2h0M332.3 463.6h0M250.2 460.0h0M248.1 460.1h0M195.0 348.3h0M202.9 409.1h0M309.6 461.9h0M251.4 438.6h0M252.1 436.8h0M293.4 441.4h0M333.2 352.3h0M246.9 404.3h0M283.8 442.4h0M234.3 393.1h0M213.3 400.1h0M215.3 400.4h0M316.0 410.4h0M328.5 358.8h0M328.1 379.7h0M187.0 437.6h0M236.7 403.8h0M236.0 404.7h0M208.8 368.9h0M238.7 405.0h0M231.3 349.3h0M233.5 444.9h0M245.4 457.4h0M210.7 413.5h0M209.2 412.5h0M269.8 369.0h0M207.6 405.2h0M229.7 456.8h0M229.9 454.8h0M293.6 360.8h0M309.7 404.7h0M258.3 351.1h0M211.7 428.4h0M281.4 438.9h0M317.3 354.1h0M212.0 432.8h0M255.7 403.1h0M331.7 344.5h0M201.1 362.6h0M197.8 356.1h0M234.0 373.2h0M290.2 459.6h0M201.6 413.3h0M266.9 422.6h0M317.7 373.4h0M319.1 374.0h0M228.2 374.9h0M208.8 365.6h0M210.0 365.8h0M264.8 347.4h0M329.0 392.9h0M313.9 388.7h0M315.6 389.7h0M217.9 354.7h0M250.9 398.9h0M328.4 369.9h0M330.1 409.3h0M268.7 356.0h0M206.4 377.3h0M205.9 375.3h0M200.6 463.2h0M200.8 464.5h0M239.8 368.8h0M241.9 369.2h0M276.9 446.5h0M276.7 447.7h0M280.6 345.5h0M333.2 405.9h0M331.3 406.9h0M331.2 395.6h0M304.9 376.3h0M258.3 417.3h0M257.9 418.7h0M263.0 347.2h0M234.1 460.7h0M326.3 345.3h0M302.9 344.5h0M302.6 346.1h0M318.8 410.0h0M322.6 449.3h0M312.4 423.5h0M312.9 422.6h0M245.5 345.7h0M208.8 347.7h0M323.1 392.7h0M257.7 430.3h0M257.7 428.9h0M317.4 431.1h0M300.9 409.0h0M258.5 443.6h0M222.2 365.5h0M287.1 373.3h0M271.0 449.8h0M326.2 397.2h0M327.5 396.7h0M272.5 452.0h0M328.9 400.3h0M329.6 401.7h0M193.5 369.3h0M277.6 367.2h0M206.0 433.1h0M232.4 357.2h0M262.4 363.0h0M261.6 362.5h0M311.7 358.1h0M218.4 383.6h0M220.6 384.1h0M229.2 416.4h0M318.8 381.1h0M320.1 440.5h0M217.3 350.3h0M218.6 349.9h0M221.3 347.5h0M251.3 349.9h0M207.3 398.0h0M233.3 445.5h0M234.8 445.6h0M241.2 407.0h0M240.6 405.5h0M202.5 429.4h0M230.2 462.4h0M207.7 409.3h0M225.4 418.4h0M223.8 419.2h0M279.0 448.6h0M278.6 449.8h0M205.3 394.0h0M283.9 401.7h0M283.2 418.5h0M210.2 437.2h0M204.9 429.3h0M205.0 427.7h0M303.4 371.4h0M332.4 397.8h0M243.7 360.4h0M198.0 412.2h0M286.5 404.1h0M324.1 372.0h0M243.6 462.3h0M244.7 462.3h0M265.3 363.4h0M260.0 355.4h0M256.2 460.0h0M221.3 360.7h0M219.5 360.8h0M294.0 359.1h0M325.5 453.6h0M324.0 453.5h0M190.6 372.0h0M226.5 458.3h0M252.8 384.9h0M191.5 423.6h0M261.8 422.2h0M232.3 437.8h0M230.5 363.5h0M323.8 387.4h0M325.0 388.9h0M248.9 362.5h0M287.2 399.6h0M214.5 434.3h0M228.3 395.3h0M272.0 379.6h0M200.1 396.5h0M304.6 399.2h0M303.6 399.8h0M329.8 420.4h0M225.5 355.4h0M258.7 351.6h0M308.6 362.9h0M227.3 384.1h0M274.8 454.2h0M242.4 409.5h0M243.5 410.8h0M229.7 432.9h0M197.5 448.2h0M323.1 419.6h0M249.4 414.7h0M229.4 461.0h0M261.4 361.4h0M193.5 457.7h0M260.7 345.9h0M231.1 369.4h0M219.8 363.6h0M280.5 346.6h0M278.9 456.1h0M278.6 454.0h0M334.4 362.0h0M210.8 436.4h0M209.6 437.2h0M266.9 369.8h0M311.3 427.4h0M313.3 427.8h0M199.1 421.5h0M296.9 346.8h0M295.4 346.3h0M219.8 397.4h0M218.9 398.4h0M265.2 463.7h0M236.2 415.5h0M218.2 450.9h0M310.2 343.1h0M309.1 341.8h0M221.0 354.0h0M261.8 363.9h0M260.7 364.7h0M275.3 443.1h0M316.6 415.4h0M259.6 381.1h0M259.9 382.1h0M237.7 348.7h0M197.1 378.4h0M240.1 384.0h0M321.9 406.3h0M213.9 374.4h0M189.5 441.8h0M213.3 383.2h0M272.5 449.6h0M323.5 372.0h0M206.9 346.5h0M277.1 421.9h0M277.3 419.8h0M210.7 350.9h0M246.7 455.6h0M206.1 349.2h0M312.2 357.9h0M192.8 395.8h0M192.0 396.6h0M190.7 388.7h0M194.9 435.5h0M216.1 369.2h0M240.9 374.2h0M242.0 373.1h0M303.1 363.3h0M326.4 356.0h0M324.2 368.3h0M331.8 427.8h0M237.5 454.7h0M215.3 450.7h0M300.8 452.3h0M227.9 458.3h0M226.5 390.9h0M227.5 389.9h0M227.2 415.7h0M253.8 349.1h0M187.4 456.4h0M188.8 456.7h0M293.1 354.2h0M222.4 436.6h0M223.5 437.3h0M251.0 348.7h0M229.9 405.8h0M246.8 426.7h0M231.7 350.1h0M277.1 396.0h0M276.3 396.7h0M256.6 354.8h0M281.5 419.4h0M282.4 418.2h0M288.5 349.0h0M289.2 347.4h0M312.8 408.6h0M324.4 372.4h0M197.8 424.6h0M265.2 352.3h0M189.8 412.8h0M202.6 391.9h0M193.8 399.4h0M192.3 399.8h0M267.5 462.5h0M267.4 464.3h0M223.8 441.3h0M328.6 351.5h0M328.4 353.5h0M310.2 447.7h0M214.9 419.1h0M289.0 455.7h0M199.8 387.2h0M200.9 387.8h0M226.7 408.8h0M248.4 437.2h0M221.5 448.8h0M267.7 463.5h0M269.1 461.8h0M266.2 414.5h0M245.0 434.9h0M202.6 407.2h0M250.7 448.3h0M324.8 351.2h0M266.6 461.9h0M264.8 463.0h0M306.1 371.3h0M329.7 408.7h0M275.4 354.1h0M215.5 375.7h0M214.5 377.2h0M237.3 406.2h0M234.8 384.0h0M314.9 416.0h0M313.9 417.7h0M263.4 361.5h0M217.4 381.4h0M231.4 422.6h0M262.4 362.1h0M263.5 363.9h0M244.1 358.1h0M243.9 356.5h0M317.1 405.3h0M318.4 404.7h0M291.8 410.5h0M328.8 385.3h0M292.0 452.7h0M318.6 352.8h0M321.3 353.2h0M322.4 352.0h0M204.2 442.6h0M202.7 442.2h0M216.9 448.4h0M209.6 411.0h0M295.9 356.2h0M196.0 390.6h0M334.2 369.3h0M228.1 348.2h0M227.0 349.6h0M309.2 397.1h0M209.3 356.0h0M259.7 372.0h0M259.3 370.9h0M298.6 404.0h0M262.0 367.2h0M186.7 348.3h0M186.2 349.7h0M329.8 362.0h0M329.3 363.0h0M226.3 451.4h0M247.7 354.9h0M325.5 394.1h0M325.5 395.2h0M321.1 448.0h0M223.0 418.2h0M256.3 377.3h0M202.5 416.3h0M200.3 457.3h0M199.1 458.9h0M291.8 420.1h0M273.6 381.4h0M272.5 381.5h0M228.9 419.8h0M229.5 418.2h0M308.8 354.2h0M310.4 354.3h0M214.7 445.4h0M296.6 425.4h0M193.3 440.7h0M240.2 349.7h0M238.9 350.5h0M208.6 458.5h0M208.3 459.9h0M260.1 357.9h0M288.3 447.2h0M230.4 456.7h0M232.2 456.9h0M278.9 357.8h0M208.7 416.9h0M201.2 437.8h0M202.2 437.4h0M218.1 382.9h0M249.4 460.5h0M258.0 369.6h0M243.7 372.2h0M287.7 374.4h0M288.4 372.5h0M204.0 420.9h0M256.1 402.6h0M328.1 365.3h0M213.5 407.3h0M228.5 343.4h0M237.1 433.3h0M237.5 434.7h0M194.9 405.9h0M195.2 406.9h0M198.5 421.1h0M248.2 347.2h0M313.5 401.6h0M330.3 407.8h0M279.2 343.4h0M274.9 344.8h0M253.0 347.1h0M223.6 390.2h0M329.2 409.6h0M222.5 460.4h0M267.0 355.0h0M226.1 344.9h0M190.8 430.1h0M331.5 409.1h0M204.5 443.3h0M267.8 354.5h0M238.5 459.9h0M209.6 387.1h0M203.5 395.2h0M331.0 381.5h0M242.0 444.0h0M283.9 460.1h0M289.0 364.0h0M229.9 390.4h0M287.3 418.6h0M289.4 418.7h0M186.3 352.7h0M187.6 353.7h0M291.6 433.7h0M289.9 433.4h0M248.4 345.8h0M326.7 446.4h0M328.5 447.4h0M280.3 402.5h0M282.6 456.6h0M318.6 353.0h0M324.9 415.5h0M289.9 365.4h0M290.3 367.4h0M219.7 353.1h0M199.1 354.0h0M333.6 407.9h0M334.3 406.5h0M216.4 377.5h0M297.8 458.2h0M297.0 459.7h0M331.5 462.2h0M294.4 407.4h0M289.6 358.6h0M320.7 395.0h0M214.4 413.3h0M236.0 391.2h0M221.9 349.8h0M234.5 356.9h0M266.8 464.0h0M301.9 347.9h0M300.5 349.4h0M266.1 344.4h0M195.7 424.0h0M195.0 425.8h0M250.0 423.5h0M209.2 446.0h0M210.3 458.5h0M208.4 458.5h0M237.8 379.2h0M218.4 430.1h0M219.6 431.1h0M269.8 455.6h0M239.3 431.9h0M239.1 433.5h0M301.2 344.6h0M228.6 349.9h0M201.7 440.4h0M201.4 441.7h0M192.4 374.9h0M197.4 389.4h0M198.4 390.7h0M292.5 356.6h0M263.3 395.2h0M310.8 379.1h0M224.5 373.4h0M205.7 383.0h0M330.0 385.7h0M224.0 451.5h0M318.6 377.0h0M320.1 376.5h0M245.2 361.3h0M239.7 450.7h0M205.9 375.1h0M205.3 373.6h0M330.8 383.0h0M199.1 377.9h0M199.9 448.3h0M264.4 368.3h0M266.3 376.8h0M211.6 390.4h0M268.2 398.3h0M191.1 385.7h0M272.2 416.2h0M262.1 374.9h0M207.6 383.1h0M316.3 374.3h0M244.1 379.4h0M298.1 345.8h0M299.2 345.3h0M268.8 395.3h0M288.8 367.2h0M192.2 437.3h0M192.4 438.9h0M209.5 400.4h0M295.5 355.9h0M190.5 374.4h0M191.4 376.4h0M244.1 437.7h0M192.2 426.8h0M218.3 424.6h0M198.2 375.1h0M198.4 373.9h0M333.4 356.2h0M299.1 453.9h0M217.8 402.5h0M215.8 402.2h0M254.4 374.0h0M290.7 422.2h0M186.9 364.7h0M191.1 447.4h0M193.0 447.1h0M192.6 413.0h0M264.6 353.7h0M263.3 354.4h0M253.5 450.5h0M298.4 453.3h0M210.3 400.4h0M318.7 424.7h0M291.2 348.1h0M293.9 361.8h0M236.4 381.6h0M187.3 395.6h0M271.6 373.6h0M270.2 372.2h0M320.2 445.5h0M252.1 370.5h0M250.9 368.7h0M333.2 454.0h0M301.4 437.3h0M301.7 369.8h0M327.8 408.1h0M192.1 445.1h0M238.4 424.8h0M221.5 451.1h0M218.7 458.3h0M208.5 392.9h0M211.8 442.3h0M210.5 363.5h0M312.3 369.1h0M272.5 444.6h0M231.8 351.8h0M214.9 391.7h0M206.2 438.6h0M205.9 405.7h0M254.7 393.3h0M215.6 455.6h0M262.7 395.4h0M263.0 396.7h0M321.8 360.4h0M312.1 372.4h0M240.8 345.0h0M243.3 344.8h0M251.1 346.8h0M217.6 381.2h0M218.6 382.6h0M202.6 362.2h0M199.8 428.1h0M227.0 351.4h0M240.2 350.0h0M281.2 361.3h0M281.4 359.9h0M225.7 364.7h0M222.7 373.7h0M223.5 375.5h0M239.6 351.1h0M334.7 383.6h0M336.4 383.6h0M269.3 391.6h0M329.0 402.4h0M328.3 400.8h0M204.0 369.9h0M293.7 412.0h0M231.7 458.7h0M233.0 460.2h0M254.9 373.5h0M211.6 449.5h0M211.0 447.9h0" stroke-width="1.0"/><path d="M223.1 404.3h0M241.8 454.3h0M264.4 367.7h0M220.7 442.7h0M215.7 386.4h0M214.5 387.2h0M239.6 445.4h0M269.9 370.3h0M316.4 355.3h0M325.7 406.3h0M307.1 353.7h0M210.0 415.2h0M252.2 428.1h0M225.9 397.1h0M289.5 429.5h0M217.4 347.9h0M219.4 348.4h0M224.8 365.8h0M289.7 344.3h0M191.9 346.1h0M235.8 375.0h0M329.9 357.2h0M271.8 458.7h0M292.0 409.8h0M311.6 405.1h0M205.1 344.9h0M239.8 364.3h0M264.8 369.9h0M193.1 457.7h0M249.3 391.1h0M219.2 460.2h0M250.0 439.0h0M208.2 367.6h0M308.3 446.5h0M309.2 445.3h0M232.5 399.8h0M229.2 350.9h0M218.9 462.6h0M303.7 418.2h0M233.4 417.5h0M275.7 353.7h0M204.0 454.1h0M202.9 455.8h0M246.7 461.5h0M251.0 355.9h0M239.6 445.6h0M232.3 368.0h0M244.5 358.8h0M280.5 360.6h0M280.8 359.6h0M246.9 432.4h0M299.5 417.9h0M228.6 408.5h0M203.7 356.1h0M330.6 413.7h0M186.2 442.2h0M274.4 347.5h0M201.3 412.0h0M324.8 419.4h0M269.6 439.6h0M327.5 434.3h0M218.9 422.9h0M220.8 460.1h0M262.3 355.0h0M249.1 364.8h0M328.5 385.4h0M209.1 455.8h0M244.4 410.8h0M218.4 363.3h0M193.8 440.1h0M314.1 416.3h0M315.8 416.8h0M204.1 402.2h0M189.2 346.6h0M325.8 394.7h0M230.2 438.9h0M231.1 439.4h0M331.4 390.1h0M186.1 346.5h0M281.4 420.8h0M231.9 442.7h0M280.1 426.4h0M299.5 356.2h0M324.6 349.8h0M254.6 385.1h0M238.0 367.2h0M326.5 448.7h0M203.1 385.6h0M265.4 369.8h0M218.9 427.1h0M233.7 381.9h0M219.9 432.0h0M277.7 353.8h0M270.4 370.4h0M269.2 370.1h0M273.0 353.9h0M247.2 453.1h0M208.4 396.4h0M210.5 444.4h0M310.3 438.6h0M205.4 354.5h0M201.3 419.4h0M197.9 356.9h0M258.6 343.7h0M323.5 388.5h0M216.5 359.0h0M218.8 456.1h0M209.8 390.5h0M273.0 380.6h0M195.5 362.9h0M230.5 421.9h0M290.9 346.0h0M219.1 393.7h0M227.6 451.1h0M242.6 440.7h0M210.9 425.1h0M188.0 398.9h0M233.6 452.9h0M234.9 452.5h0M209.0 376.6h0M210.3 376.9h0M204.6 434.7h0M326.1 459.1h0M330.2 420.6h0M193.5 370.2h0M237.1 445.6h0M245.3 387.5h0M324.2 372.5h0M212.8 403.3h0M328.8 412.2h0M278.3 414.0h0M262.2 390.0h0M203.9 441.6h0M202.6 444.2h0M216.2 460.9h0M255.8 403.8h0M271.2 353.2h0M264.3 399.5h0M254.6 458.6h0M237.6 384.0h0M308.5 449.5h0M196.2 418.1h0M262.2 387.2h0M248.1 458.7h0M247.5 460.2h0M273.7 408.4h0M330.5 383.5h0M301.0 371.3h0M230.1 354.6h0M217.6 445.1h0M308.9 432.2h0M210.3 456.5h0M312.6 374.3h0M221.8 387.7h0M194.0 362.1h0M205.0 463.2h0M332.2 363.5h0M300.2 407.0h0M189.6 367.3h0M221.6 422.2h0M267.5 360.1h0M314.5 367.1h0M332.6 447.3h0M272.8 406.0h0M196.6 417.6h0M236.8 346.4h0M263.5 393.0h0M262.1 458.5h0M267.4 390.0h0M268.4 389.7h0M209.3 441.4h0M203.7 357.9h0M219.0 393.7h0M257.6 390.6h0M276.2 355.1h0M214.3 394.8h0M223.6 453.1h0M214.5 383.0h0M252.7 399.2h0M222.3 370.9h0M270.1 380.2h0M243.4 457.7h0M331.5 356.2h0M333.1 354.9h0M323.1 369.2h0M321.9 421.4h0M206.3 456.6h0M208.2 456.9h0M216.9 359.7h0M238.7 347.9h0M246.7 397.0h0M237.0 355.3h0M333.9 462.0h0M215.3 440.0h0M247.5 368.2h0M200.9 463.2h0M229.2 344.4h0M279.5 400.7h0M304.9 369.4h0M256.3 384.6h0M224.1 348.8h0M223.5 349.9h0M283.5 407.0h0M328.0 448.5h0M198.5 349.7h0M233.8 462.7h0M227.2 354.2h0M321.8 395.4h0M252.7 451.9h0M253.6 452.8h0M226.4 433.5h0M284.6 363.6h0M206.1 456.0h0M270.0 367.0h0M237.1 416.0h0M297.5 368.1h0M312.9 407.1h0M221.4 452.9h0M221.0 451.1h0M210.2 424.1h0M301.7 425.1h0M299.5 425.1h0M209.9 403.9h0M240.9 439.9h0M239.6 441.3h0M236.9 406.9h0M238.2 407.2h0M312.1 391.3h0M320.5 368.8h0M199.3 458.8h0M328.6 402.1h0M191.5 378.3h0M240.7 415.3h0M212.4 360.5h0M333.2 364.5h0M234.1 454.1h0M215.4 450.3h0M215.0 452.5h0M307.3 433.0h0M284.6 449.3h0M215.4 451.1h0M295.4 403.4h0M259.3 418.3h0M298.8 344.5h0M329.0 449.7h0M265.5 455.7h0M210.4 379.2h0M305.6 359.4h0M190.8 361.1h0M318.1 385.1h0M327.9 421.1h0M243.9 345.7h0M331.6 457.6h0M239.1 355.1h0M189.0 351.1h0M223.1 349.3h0M218.5 417.7h0M246.2 394.1h0M202.6 435.8h0M333.8 346.0h0M196.9 453.5h0M196.1 454.4h0M211.9 370.6h0M325.6 411.3h0M324.1 412.1h0M248.2 356.5h0M226.5 388.4h0M275.9 374.9h0M241.8 378.0h0M244.1 377.3h0M264.9 385.6h0M248.4 350.2h0M203.7 406.3h0M206.5 430.6h0M205.5 430.3h0M238.4 402.4h0M321.5 436.2h0M218.1 450.0h0M243.2 454.2h0M208.5 378.7h0M308.6 429.5h0M220.2 354.4h0M255.2 352.3h0M331.7 354.5h0M205.0 372.2h0M328.9 359.3h0M186.6 382.7h0M231.6 400.9h0M187.4 395.7h0M215.5 430.1h0M320.2 406.6h0M316.8 374.7h0M318.6 373.9h0M276.3 365.6h0M191.1 347.2h0M191.9 400.1h0M255.7 436.6h0M316.3 387.2h0M190.3 386.7h0M213.2 420.2h0M197.6 446.8h0M312.0 395.0h0M205.8 456.6h0M246.6 405.0h0M216.4 425.3h0M217.7 418.8h0M264.0 439.8h0M262.2 439.2h0M218.1 364.0h0M285.9 423.8h0M233.5 454.6h0M301.5 371.5h0M215.3 355.7h0M277.4 366.6h0M283.7 399.6h0M312.6 350.2h0M187.2 371.1h0M211.8 400.7h0M298.9 349.5h0M334.2 390.0h0M333.1 389.0h0M230.2 413.2h0M231.0 412.5h0M246.5 444.7h0M312.7 400.7h0M262.0 364.4h0M314.7 407.7h0M232.4 395.1h0M224.1 454.1h0M224.0 460.3h0M223.1 458.7h0M199.5 458.7h0M195.8 349.5h0M262.9 352.9h0M260.3 443.8h0M248.2 361.9h0M317.6 457.0h0M289.6 376.8h0M219.8 412.4h0M236.2 423.6h0M190.0 394.9h0M313.7 415.1h0M262.1 409.6h0M223.9 370.6h0M254.7 397.7h0M225.6 387.5h0M286.1 434.4h0M249.3 380.9h0M244.7 442.6h0M331.2 424.4h0M293.5 458.0h0M191.9 361.3h0M320.9 400.8h0M246.1 460.0h0M245.2 459.3h0M210.8 459.4h0M231.8 440.9h0M214.4 402.5h0M215.7 403.0h0M304.9 422.7h0M198.3 384.3h0M198.3 383.1h0M267.8 375.2h0M192.9 442.1h0M216.7 374.8h0M200.2 385.2h0M193.1 356.9h0M193.7 358.5h0M224.9 386.9h0M200.6 422.4h0M222.5 362.9h0M248.3 397.3h0M234.3 398.8h0M236.2 399.5h0M212.5 460.9h0M214.0 460.7h0M203.6 417.5h0M313.5 441.8h0M331.4 348.3h0M331.9 349.7h0M220.6 431.3h0M259.4 355.4h0M325.0 428.5h0M281.7 424.1h0M240.2 353.5h0M304.4 358.5h0M200.5 381.1h0M211.2 447.1h0M207.5 446.4h0M192.3 448.7h0M253.7 390.2h0M282.5 375.4h0M309.5 410.4h0M270.6 354.3h0M204.0 388.9h0M323.6 446.6h0M256.7 435.7h0M255.3 344.3h0M269.8 370.8h0M301.7 353.6h0M230.3 445.3h0M187.8 389.1h0M219.0 388.1h0M195.6 397.5h0M235.8 393.4h0M315.8 408.4h0M223.6 461.9h0M267.6 349.8h0M279.8 368.9h0M199.8 397.0h0M198.1 395.9h0M255.2 384.2h0M220.6 455.5h0M185.8 439.3h0M322.8 404.0h0M321.5 404.6h0M208.7 367.7h0M210.6 443.8h0M202.0 400.5h0M231.6 420.0h0M234.3 443.8h0M306.2 407.5h0M215.0 433.5h0M204.9 415.2h0M266.0 342.7h0M254.4 445.3h0M306.5 421.6h0M210.3 453.0h0M209.0 451.5h0M186.7 451.4h0M200.4 355.2h0M226.2 404.6h0M220.1 397.9h0M218.7 396.7h0M233.8 374.5h0M308.0 359.4h0M314.2 402.4h0M231.2 376.6h0M241.0 447.9h0M210.5 380.6h0M212.3 380.1h0M330.8 344.0h0M314.7 404.9h0M324.0 454.3h0M294.0 444.4h0M253.1 419.5h0M227.0 384.9h0M322.5 399.2h0M207.0 433.9h0M273.8 350.7h0M225.5 397.5h0M196.2 368.7h0M196.1 369.9h0M309.0 421.5h0M237.1 438.9h0M228.3 356.9h0M245.8 384.4h0M246.3 383.5h0M304.5 360.7h0M200.0 445.9h0M328.8 426.6h0M329.6 428.1h0M323.2 372.3h0M323.4 371.2h0M303.4 376.0h0M327.4 344.4h0M209.5 367.2h0M211.2 368.0h0M231.1 456.9h0M233.4 404.7h0M306.0 431.1h0M195.7 435.8h0M211.1 444.9h0M197.0 359.9h0M226.8 443.7h0M294.8 406.6h0M316.5 391.5h0M315.4 391.1h0M268.8 354.4h0M297.9 421.2h0M264.8 369.0h0M265.2 370.4h0M238.1 450.9h0M294.7 413.2h0M313.9 373.4h0M198.0 424.7h0M333.5 425.1h0M272.0 400.8h0M204.3 404.6h0M324.3 374.8h0M255.2 449.9h0M212.8 429.3h0M206.9 362.9h0M205.6 364.0h0M190.1 389.5h0M277.5 364.7h0M334.6 374.9h0M334.0 376.0h0M263.5 386.5h0M333.9 406.3h0M302.4 431.7h0M230.0 401.3h0M293.1 418.0h0M320.2 459.3h0M227.6 350.1h0M247.9 448.4h0M319.2 394.4h0M214.2 380.2h0M247.1 430.7h0M221.6 431.9h0M310.4 356.5h0M285.9 402.9h0M293.2 369.2h0M302.7 360.1h0M301.5 361.4h0M199.8 459.2h0M191.9 356.6h0M201.4 406.8h0M203.2 406.2h0M263.8 358.3h0M320.3 410.8h0M317.1 351.7h0M224.9 364.9h0M233.4 343.6h0M197.2 351.3h0M197.6 350.3h0M317.5 400.2h0M301.7 358.4h0M297.6 398.7h0M315.1 417.9h0M286.0 398.3h0M229.8 396.1h0M298.6 350.1h0M295.4 374.4h0M247.4 383.9h0M270.9 427.2h0M257.2 404.6h0M257.3 406.6h0M241.8 459.6h0M276.0 365.9h0M228.4 383.6h0M198.2 447.1h0M248.7 366.2h0M278.2 407.9h0M278.7 406.5h0M194.7 428.6h0M261.1 347.3h0M279.6 347.6h0M319.8 453.4h0M294.1 462.6h0M196.5 374.2h0M195.7 407.1h0M245.2 373.5h0M235.1 379.1h0M209.5 446.3h0M240.6 431.6h0M237.5 416.0h0M252.9 352.1h0M207.0 404.2h0M191.1 388.7h0M234.0 422.9h0M233.6 424.2h0M301.4 350.2h0M294.1 461.3h0M293.0 461.7h0M212.1 352.3h0M273.4 445.7h0M192.5 363.5h0M261.8 359.2h0M234.5 364.5h0M313.8 461.4h0M325.3 368.2h0M225.4 347.1h0M328.2 360.9h0M214.1 450.6h0M332.2 343.8h0M201.5 437.4h0M260.8 355.2h0M200.2 438.0h0M287.0 402.2h0M287.9 363.6h0M305.7 343.1h0M203.3 347.8h0M261.0 456.0h0M198.0 446.4h0M198.3 444.2h0M285.4 350.0h0M295.5 409.3h0M311.5 406.9h0M238.9 365.8h0M323.0 371.7h0M306.9 431.7h0M203.9 391.4h0M294.8 400.0h0M217.5 429.7h0M199.4 424.5h0M194.6 370.4h0M258.6 410.4h0M215.6 420.1h0M242.8 360.9h0M219.8 448.0h0M246.4 454.7h0M284.3 353.2h0M294.2 424.1h0M191.3 394.6h0M266.0 415.7h0M199.5 432.7h0M330.0 383.7h0M186.7 392.8h0M187.1 394.8h0M268.2 369.3h0M285.4 439.4h0M233.4 421.0h0M217.3 380.2h0M189.4 452.0h0M232.1 441.5h0M304.6 403.7h0M304.5 426.3h0M223.4 350.6h0M279.0 364.7h0M300.3 456.8h0M259.4 398.0h0M236.5 358.8h0M318.4 350.8h0M238.5 390.6h0M219.0 348.4h0M194.6 429.7h0M222.7 364.2h0M264.5 369.6h0M265.8 370.2h0M334.2 370.3h0M297.9 419.4h0M298.8 420.3h0M307.9 362.5h0M234.2 461.7h0M296.8 453.0h0M298.9 360.5h0M287.1 411.4h0M217.3 452.4h0M332.8 438.7h0M190.3 350.4h0M189.3 351.4h0M259.5 354.7h0M314.2 366.6h0M231.5 349.6h0M329.2 460.9h0M238.6 439.4h0M298.0 402.0h0M283.7 458.4h0M192.3 368.0h0M248.8 353.9h0M253.9 375.6h0M252.2 376.7h0M215.5 392.2h0M256.0 369.2h0M207.1 358.9h0M311.6 353.9h0M214.6 406.3h0M280.8 368.0h0M282.8 368.3h0M202.7 376.4h0M203.6 377.8h0M199.7 419.9h0M197.4 355.7h0M312.1 401.5h0M251.5 390.2h0M321.3 356.1h0M322.6 356.1h0M251.5 364.8h0M237.1 435.1h0M252.5 345.4h0M334.0 359.9h0M200.1 424.0h0M239.8 397.2h0M240.9 397.3h0M262.2 364.8h0M266.0 346.4h0M304.4 400.3h0M200.0 366.3h0M198.7 366.3h0M332.4 410.6h0M214.6 413.2h0M218.8 366.3h0M234.0 426.8h0M288.1 365.8h0M331.5 431.1h0M195.9 412.7h0M215.8 451.3h0M230.9 446.2h0M202.5 346.6h0M266.0 432.1h0M204.4 384.3h0M240.6 434.2h0M241.6 435.1h0M313.3 346.6h0M187.5 447.1h0M218.1 378.7h0M208.3 389.6h0M327.8 451.4h0M329.6 450.7h0M237.2 367.1h0M288.2 359.4h0M223.5 366.2h0M231.0 392.6h0M232.1 381.2h0M265.7 462.9h0M187.3 349.4h0M234.6 454.1h0M265.3 343.6h0M308.7 397.0h0M309.7 396.7h0M208.1 446.0h0M202.4 366.9h0M231.7 367.8h0M225.5 377.4h0M292.1 410.8h0M293.1 410.9h0M239.9 388.6h0M330.8 393.5h0M249.2 392.2h0M326.8 367.6h0M246.1 364.6h0M300.5 408.1h0M299.2 407.1h0M220.6 428.3h0M189.8 348.4h0M302.1 465.0h0M265.2 370.0h0M331.7 433.5h0M210.6 391.4h0M261.1 375.3h0M199.9 344.7h0M253.7 353.7h0M215.2 420.8h0M219.8 454.2h0M219.6 453.1h0M223.0 420.1h0M223.8 421.2h0M289.0 419.1h0M231.1 366.1h0M274.6 422.2h0M294.3 355.4h0M321.1 383.8h0M191.3 427.9h0M260.5 385.8h0M297.4 454.6h0M303.5 353.6h0M290.3 420.9h0M261.0 426.9h0M253.1 400.0h0M265.5 442.2h0M333.5 401.1h0M242.4 440.8h0M308.8 344.2h0M243.2 354.9h0M186.1 397.0h0M196.3 438.4h0M334.2 441.0h0M333.6 438.9h0M323.7 389.0h0M332.4 455.4h0M247.9 432.4h0M300.6 369.0h0M262.5 369.6h0M193.2 444.8h0M300.4 343.9h0M306.0 436.5h0M236.9 425.4h0M219.3 456.7h0M332.5 435.0h0M333.4 436.8h0M208.4 462.0h0M210.3 462.0h0M324.1 350.9h0M213.0 444.0h0M251.1 386.3h0M249.2 455.1h0M209.4 394.2h0M229.5 454.5h0M229.1 456.1h0M214.4 390.0h0M210.0 400.9h0M216.6 401.9h0M201.1 376.8h0M269.8 390.3h0M194.1 372.2h0M331.4 451.9h0M254.6 458.8h0M186.9 400.9h0M330.8 366.2h0M307.1 406.7h0M217.1 384.8h0M218.9 354.9h0M219.9 356.4h0M223.5 374.7h0M262.9 430.2h0M304.3 399.6h0M206.8 379.2h0M212.1 422.8h0M234.3 362.4h0" stroke-width="1.4"/><path d="M189.6 356.9h0M198.5 361.4h0M263.5 368.5h0M220.4 443.9h0M187.7 452.1h0M320.9 386.2h0M325.6 409.4h0M323.9 406.6h0M247.9 441.8h0M314.1 375.8h0M213.5 387.0h0M244.3 450.3h0M315.4 355.5h0M207.6 369.0h0M312.2 396.4h0M192.5 344.9h0M296.0 427.7h0M320.0 401.5h0M224.8 430.5h0M262.8 369.9h0M244.2 353.8h0M222.5 368.1h0M298.9 352.9h0M210.4 442.3h0M256.9 446.2h0M241.5 439.6h0M187.7 351.0h0M234.5 370.6h0M273.7 439.6h0M297.3 440.9h0M204.1 384.3h0M229.1 437.5h0M225.6 461.7h0M268.6 438.6h0M194.9 463.2h0M213.4 379.6h0M202.4 412.8h0M332.2 362.9h0M209.8 384.9h0M214.1 421.3h0M273.6 353.8h0M287.9 412.8h0M291.8 442.7h0M288.7 413.9h0M270.7 428.2h0M194.0 361.1h0M207.1 459.5h0M305.4 351.8h0M201.6 383.6h0M202.7 394.9h0M244.9 352.7h0M202.9 384.4h0M218.9 425.4h0M213.6 391.7h0M212.1 391.6h0M311.7 407.2h0M242.5 448.9h0M334.8 407.8h0M307.5 456.5h0M190.5 438.7h0M219.2 430.0h0M282.0 356.3h0M204.8 427.9h0M271.8 372.2h0M323.0 416.4h0M324.6 416.7h0M212.8 346.1h0M254.9 361.9h0M250.7 384.3h0M192.6 372.3h0M291.9 362.6h0M226.9 458.9h0M220.6 369.9h0M298.7 426.4h0M270.4 444.7h0M244.4 444.9h0M273.8 379.8h0M260.8 451.1h0M204.0 424.7h0M201.9 392.7h0M199.2 404.3h0M227.0 386.9h0M279.6 376.1h0M307.4 413.1h0M233.3 442.2h0M231.3 441.4h0M219.8 395.1h0M274.7 434.5h0M233.4 463.9h0M228.6 449.6h0M254.1 388.4h0M323.2 390.9h0M205.7 434.7h0M192.5 368.7h0M222.9 381.0h0M206.7 394.1h0M218.6 403.7h0M196.0 355.4h0M235.4 350.6h0M210.1 381.6h0M189.6 412.1h0M316.3 393.1h0M314.9 392.8h0M201.5 413.6h0M224.0 383.9h0M246.5 395.5h0M224.3 451.6h0M221.8 373.7h0M314.6 371.6h0M206.5 367.7h0M241.6 430.0h0M312.1 376.0h0M331.8 365.2h0M328.7 459.8h0M217.8 451.0h0M263.4 382.9h0M288.2 357.5h0M267.6 362.2h0M268.5 413.0h0M214.1 386.1h0M289.1 403.7h0M315.4 379.6h0M212.8 449.0h0M265.4 449.6h0M288.3 366.0h0M276.0 369.2h0M291.0 429.4h0M229.1 462.0h0M317.3 398.8h0M233.5 408.9h0M208.3 437.4h0M207.2 435.7h0M218.6 429.2h0M188.9 435.0h0M333.5 441.3h0M187.9 437.9h0M223.7 371.4h0M221.4 344.1h0M222.8 343.6h0M275.7 400.5h0M325.0 417.8h0M260.8 362.4h0M262.6 362.7h0M228.0 455.5h0M227.9 454.0h0M230.7 431.8h0M332.4 371.9h0M330.4 371.8h0M215.1 357.7h0M216.7 456.2h0M231.3 399.0h0M271.7 358.5h0M248.1 365.1h0M230.0 382.5h0M237.6 394.3h0M239.2 348.5h0M217.8 406.5h0M207.7 354.0h0M197.7 379.2h0M286.1 397.2h0M222.6 411.3h0M278.5 401.8h0M226.3 363.0h0M256.3 345.4h0M255.4 343.7h0M292.5 347.6h0M200.0 352.5h0M198.9 355.8h0M238.9 426.4h0M268.8 377.7h0M269.1 375.8h0M199.1 350.5h0M225.9 354.2h0M309.1 422.6h0M315.9 344.4h0M193.0 394.6h0M190.9 393.9h0M234.6 359.6h0M261.4 462.6h0M315.3 452.0h0M193.0 386.9h0M238.3 382.4h0M196.2 434.5h0M328.5 352.3h0M256.4 455.4h0M236.7 387.1h0M249.5 421.9h0M211.1 361.6h0M293.3 364.1h0M192.2 396.2h0M228.0 364.5h0M209.4 380.1h0M278.4 355.7h0M224.6 463.8h0M222.9 458.0h0M320.2 347.3h0M201.3 435.3h0M202.2 436.2h0M259.4 350.9h0M237.7 354.6h0M195.4 458.7h0M217.5 418.0h0M332.8 345.3h0M206.6 347.6h0M246.6 413.2h0M224.6 389.2h0M233.0 351.9h0M291.4 404.3h0M223.9 391.4h0M208.6 451.2h0M266.0 408.0h0M263.5 385.7h0M327.9 367.2h0M224.5 369.1h0M324.5 447.5h0M188.5 346.0h0M311.9 345.6h0M194.9 435.6h0M188.0 387.5h0M228.7 385.5h0M327.3 416.3h0M242.1 455.3h0M227.5 412.5h0M192.1 374.1h0M331.5 356.2h0M208.6 401.5h0M276.5 369.9h0M275.9 371.4h0M204.8 368.4h0M216.7 355.9h0M298.0 366.1h0M295.1 352.7h0M316.1 396.7h0M314.9 396.7h0M191.5 345.3h0M198.4 418.3h0M197.5 444.8h0M224.8 461.6h0M225.4 460.2h0M252.6 401.9h0M315.4 439.7h0M245.2 403.6h0M236.5 356.6h0M235.9 459.2h0M321.9 357.3h0M254.3 458.3h0M308.9 456.7h0M216.1 356.5h0M209.7 380.1h0M210.6 378.3h0M258.1 360.1h0M186.4 432.3h0M299.5 350.5h0M279.7 378.4h0M286.5 343.9h0M288.6 344.3h0M335.1 403.1h0M246.7 445.8h0M312.6 398.7h0M235.1 357.8h0M324.7 360.6h0M296.8 371.3h0M298.3 372.0h0M235.7 428.6h0M303.4 369.0h0M212.7 398.9h0M196.3 349.0h0M247.5 356.8h0M226.2 388.3h0M197.4 417.2h0M254.0 415.6h0M290.6 418.4h0M332.6 377.6h0M260.9 444.7h0M248.9 359.9h0M317.1 455.8h0M251.4 396.7h0M231.4 401.9h0M207.4 343.8h0M240.8 372.7h0M191.4 394.1h0M237.0 415.9h0M292.8 358.6h0M293.3 357.6h0M261.7 378.1h0M333.6 352.5h0M292.1 366.0h0M243.1 442.0h0M218.7 374.4h0M240.6 456.2h0M239.0 392.3h0M186.5 444.2h0M286.1 444.2h0M227.2 455.2h0M227.0 386.9h0M330.2 410.4h0M226.0 443.0h0M250.1 444.4h0M190.9 344.4h0M319.7 414.2h0M320.9 415.1h0M219.8 436.8h0M286.0 422.7h0M197.9 359.8h0M266.7 454.8h0M323.3 428.6h0M315.4 432.2h0M305.5 360.2h0M188.6 447.7h0M287.9 450.6h0M313.1 420.0h0M212.1 446.7h0M190.6 448.0h0M207.5 457.7h0M205.9 452.2h0M235.1 364.4h0M237.1 364.3h0M312.1 364.9h0M210.2 406.2h0M221.8 364.4h0M237.9 447.9h0M303.1 457.6h0M222.9 445.5h0M312.3 414.1h0M310.1 413.8h0M329.5 385.1h0M280.8 369.7h0M219.8 457.5h0M312.3 435.1h0M334.3 411.8h0M186.3 440.3h0M246.8 397.8h0M304.3 428.2h0M267.2 343.1h0M231.4 454.3h0M226.9 343.1h0M240.0 393.8h0M238.6 393.2h0M188.6 462.5h0M272.7 349.4h0M310.5 449.6h0M192.0 381.2h0M194.1 381.8h0M238.1 422.9h0M304.3 429.2h0M241.1 344.6h0M195.1 444.4h0M196.2 444.5h0M223.5 457.0h0M312.8 404.9h0M293.4 423.0h0M208.6 434.9h0M274.3 352.0h0M211.3 388.9h0M212.8 388.4h0M272.5 398.3h0M206.3 426.7h0M204.4 436.3h0M275.8 361.9h0M319.9 345.2h0M255.1 360.5h0M213.4 446.3h0M198.4 446.7h0M226.6 417.6h0M276.4 349.7h0M281.8 433.5h0M217.0 428.7h0M312.1 407.4h0M221.6 453.7h0M223.5 370.0h0M222.1 370.3h0M307.9 431.2h0M231.9 404.3h0M283.3 343.1h0M264.8 459.0h0M295.4 408.6h0M226.4 416.3h0M231.5 386.0h0M310.9 371.5h0M320.7 441.2h0M294.5 414.7h0M312.6 372.6h0M328.2 448.8h0M222.4 385.9h0M240.8 410.5h0M184.7 379.6h0M323.4 373.4h0M246.1 390.1h0M217.4 429.9h0M214.7 430.4h0M237.7 442.4h0M193.7 443.7h0M255.1 346.5h0M235.4 438.8h0M193.4 447.0h0M240.2 408.7h0M290.6 409.2h0M329.5 357.7h0M224.7 343.6h0M319.6 395.8h0M258.3 458.8h0M323.9 399.0h0M325.1 400.1h0M222.2 430.6h0M262.5 457.6h0M261.6 455.7h0M318.4 410.1h0M318.9 352.3h0M245.5 383.2h0M225.0 463.7h0M333.7 456.0h0M298.1 350.3h0M241.5 347.4h0M240.0 348.0h0M297.9 399.8h0M321.8 405.7h0M259.1 350.6h0M312.9 359.6h0M312.1 360.2h0M290.2 427.4h0M250.0 365.7h0M206.2 403.8h0M323.7 443.5h0M293.5 461.4h0M196.4 375.4h0M245.1 371.4h0M202.4 371.1h0M220.4 410.4h0M232.9 382.1h0M234.8 458.3h0M277.7 395.9h0M274.3 414.8h0M255.7 375.5h0M204.8 463.0h0M248.5 415.8h0M249.0 414.7h0M206.2 408.6h0M316.5 451.6h0M186.7 415.2h0M236.3 365.4h0M218.7 359.0h0M221.0 372.5h0M282.3 400.1h0M288.9 363.4h0M318.8 435.8h0M262.2 343.7h0M302.5 415.9h0M187.0 436.4h0M249.1 361.5h0M297.6 428.8h0M259.1 364.9h0M206.3 355.3h0M208.7 361.3h0M207.8 428.9h0M244.1 458.7h0M229.2 438.2h0M276.6 348.8h0M321.7 420.8h0M199.0 425.4h0M324.2 407.5h0M249.0 383.2h0M309.8 432.8h0M228.8 462.8h0M185.5 359.0h0M275.6 463.2h0M291.1 362.1h0M293.7 440.6h0M203.6 399.2h0M219.1 454.9h0M218.0 453.8h0M325.7 345.0h0M238.7 451.3h0M273.8 410.0h0M276.3 353.3h0M199.7 426.0h0M291.5 346.0h0M232.4 394.2h0M262.2 346.8h0M284.7 437.5h0M233.6 423.0h0M236.6 370.4h0M225.1 357.2h0M240.5 416.5h0M258.6 397.3h0M252.0 442.5h0M193.4 430.2h0M186.6 368.4h0M222.2 362.8h0M282.5 362.6h0M333.0 440.9h0M288.5 376.7h0M330.9 416.0h0M225.1 350.8h0M312.8 365.7h0M209.0 450.4h0M205.1 365.9h0M189.7 380.1h0M236.8 390.3h0M235.6 389.1h0M246.5 392.4h0M192.1 365.7h0M300.7 462.1h0M225.8 371.7h0M266.9 389.8h0M193.0 369.6h0M247.4 354.5h0M207.9 392.9h0M259.6 363.3h0M203.0 351.9h0M204.1 350.1h0M208.8 358.0h0M216.1 456.5h0M324.0 348.1h0M236.0 434.6h0M252.8 368.4h0M294.1 429.5h0M261.4 363.4h0M282.0 402.1h0M229.6 446.7h0M286.5 358.2h0M333.8 435.1h0M216.7 350.5h0M316.9 445.0h0M196.7 361.0h0M323.5 371.5h0M195.3 385.5h0M215.6 431.6h0M324.6 461.3h0M222.0 420.5h0M267.3 433.7h0M279.3 399.7h0M277.5 435.6h0M283.0 423.8h0M210.7 442.1h0M189.6 458.4h0M333.0 364.4h0M315.3 414.1h0M307.6 416.5h0M187.0 431.6h0M300.7 365.1h0M299.7 366.1h0M295.6 373.2h0M320.9 421.5h0M322.7 422.6h0M328.5 368.6h0M245.6 365.6h0M327.4 394.3h0M233.1 452.7h0M331.1 429.2h0M194.1 373.5h0M188.8 401.9h0M201.8 373.1h0M224.6 355.1h0M302.5 463.5h0M266.2 360.4h0M323.6 444.5h0M330.6 433.6h0M244.8 403.2h0M186.2 443.0h0M192.3 448.8h0M227.2 377.3h0M289.4 444.3h0M296.2 445.8h0M296.6 444.0h0M313.6 434.9h0M258.8 366.0h0M331.5 412.9h0M224.0 450.1h0M223.1 449.1h0M222.4 454.8h0M241.4 363.1h0M258.4 372.4h0M262.8 371.0h0M242.4 453.4h0M192.0 411.6h0M226.4 455.5h0M248.3 397.8h0M216.0 453.0h0M284.3 427.3h0M252.0 384.4h0M248.2 456.0h0M308.1 351.6h0M297.4 400.4h0M193.7 379.2h0M284.0 348.8h0M197.7 425.1h0M279.8 431.1h0M280.8 430.5h0M255.4 459.8h0M256.1 437.6h0M256.8 438.6h0M267.9 454.8h0M206.7 380.5h0M213.4 422.3h0M191.9 372.5h0M274.0 349.3h0M191.5 375.1h0" stroke-width="1.8"/><path d="M189.3 355.4h0M199.4 383.9h0M224.9 420.1h0M263.4 351.6h0M197.6 433.0h0M298.3 427.2h0M211.8 386.6h0M271.7 352.2h0M186.4 364.1h0M205.7 369.7h0M286.9 373.9h0M226.1 430.1h0M235.8 399.9h0M329.6 371.9h0M197.8 363.0h0M304.1 365.4h0M191.8 411.4h0M286.6 373.6h0M193.8 357.2h0M235.8 418.9h0M240.6 440.0h0M242.3 347.0h0M326.7 402.6h0M212.1 346.6h0M319.5 364.4h0M186.0 403.9h0M296.3 440.0h0M225.6 363.4h0M252.9 373.2h0M225.7 460.7h0M278.6 394.8h0M198.3 447.6h0M205.5 412.1h0M321.0 453.8h0M331.2 362.7h0M278.4 422.1h0M196.0 425.3h0M191.6 418.9h0M208.4 383.3h0M297.2 409.8h0M316.5 357.7h0M264.3 378.0h0M256.3 373.1h0M270.9 426.9h0M302.4 458.7h0M301.1 405.7h0M231.2 437.8h0M302.1 424.6h0M212.6 454.1h0M288.2 351.8h0M192.7 389.8h0M192.9 391.3h0M309.0 367.4h0M306.1 408.8h0M307.2 407.8h0M233.5 398.0h0M280.6 356.8h0M205.7 426.4h0M273.7 372.0h0M305.8 352.7h0M312.5 360.1h0M212.5 371.1h0M212.1 369.7h0M317.5 430.2h0M251.8 385.7h0M215.6 430.2h0M289.1 361.9h0M288.3 360.1h0M225.6 460.5h0M300.0 444.3h0M206.9 441.7h0M271.4 445.3h0M261.0 452.1h0M235.0 430.3h0M204.5 423.6h0M288.4 416.7h0M287.1 416.7h0M197.7 404.1h0M231.9 463.4h0M255.6 413.3h0M286.1 372.1h0M256.2 449.8h0M198.9 401.3h0M198.3 402.6h0M200.0 392.1h0M291.6 408.3h0M270.2 448.8h0M258.1 392.2h0M268.4 427.3h0M229.4 395.1h0M228.9 393.2h0M215.6 457.7h0M216.6 456.0h0M186.8 418.3h0M288.2 349.0h0M306.5 412.1h0M328.2 345.3h0M221.8 368.4h0M214.5 409.7h0M242.8 429.8h0M283.1 345.8h0M253.2 404.4h0M286.9 358.9h0M245.1 413.2h0M267.4 413.8h0M325.0 348.6h0M253.7 422.8h0M249.9 392.0h0M201.5 438.7h0M206.4 453.4h0M332.6 389.9h0M213.3 387.1h0M225.1 412.4h0M202.5 417.5h0M293.0 417.8h0M292.3 418.8h0M328.7 345.1h0M195.9 410.6h0M313.4 378.8h0M211.2 447.5h0M264.0 448.7h0M266.4 407.4h0M192.2 440.1h0M295.7 357.7h0M225.7 460.5h0M221.4 377.4h0M203.4 444.3h0M236.0 435.3h0M202.3 387.8h0M272.1 352.9h0M252.7 456.7h0M219.5 430.3h0M264.5 371.2h0M273.0 353.0h0M241.1 459.7h0M260.8 388.2h0M246.6 391.2h0M202.8 392.3h0M214.0 357.4h0M235.6 450.4h0M260.5 358.6h0M295.4 366.7h0M295.5 365.3h0M229.3 445.2h0M330.3 399.6h0M192.9 354.0h0M193.8 352.5h0M258.4 448.9h0M220.9 370.4h0M237.9 406.3h0M289.2 359.1h0M314.5 402.1h0M315.9 402.4h0M243.7 437.3h0M246.4 345.4h0M227.3 364.2h0M201.5 352.8h0M334.3 372.2h0M291.3 460.6h0M186.2 363.4h0M187.3 362.6h0M327.3 446.0h0M226.3 463.0h0M262.7 463.4h0M194.2 388.4h0M215.0 432.6h0M261.0 449.2h0M191.2 408.0h0M198.6 343.0h0M256.4 457.4h0M303.2 423.1h0M286.5 408.1h0M330.9 376.5h0M311.5 460.5h0M250.7 351.7h0M206.2 368.0h0M191.6 397.6h0M223.1 352.1h0M226.6 363.0h0M202.4 392.7h0M334.4 439.5h0M218.6 358.3h0M220.0 439.2h0M260.4 350.1h0M271.8 357.7h0M305.5 363.2h0M238.1 450.6h0M286.1 420.6h0M233.7 397.8h0M192.6 404.8h0M194.2 404.8h0M271.8 462.8h0M233.5 384.0h0M188.7 386.9h0M326.4 367.3h0M204.2 437.1h0M308.5 436.1h0M301.8 402.4h0M333.2 431.2h0M229.3 413.1h0M207.6 400.1h0M236.1 387.5h0M204.5 370.4h0M271.1 380.7h0M221.6 400.5h0M305.5 343.9h0M306.6 344.9h0M199.3 419.4h0M260.4 418.6h0M217.2 456.2h0M208.0 402.5h0M278.8 358.8h0M206.9 397.1h0M327.9 347.4h0M311.7 402.0h0M311.2 403.5h0M316.2 368.5h0M264.7 350.4h0M240.4 394.9h0M265.9 359.8h0M206.7 412.5h0M206.6 359.0h0M222.9 350.7h0M223.7 351.8h0M280.1 372.9h0M186.9 414.8h0M265.3 401.1h0M275.2 345.7h0M195.3 429.5h0M267.6 357.1h0M265.5 357.3h0M207.8 459.4h0M233.0 401.6h0M221.2 425.8h0M260.3 379.4h0M206.1 356.9h0M233.7 390.8h0M188.3 395.2h0M279.8 415.9h0M248.9 442.4h0M329.9 411.7h0M187.2 439.1h0M249.8 442.9h0M192.9 344.7h0M334.5 366.9h0M202.6 447.5h0M192.6 424.7h0M193.9 424.8h0M188.8 354.5h0M188.2 356.4h0M235.0 405.7h0M217.0 438.6h0M289.2 451.8h0M284.7 365.5h0M327.1 398.6h0M295.8 430.4h0M203.5 402.3h0M211.2 406.8h0M193.1 383.6h0M194.5 384.9h0M213.0 429.3h0M212.7 430.6h0M322.7 389.8h0M209.5 345.7h0M306.8 416.6h0M211.0 451.4h0M201.1 454.0h0M279.5 374.3h0M298.6 431.7h0M297.9 430.7h0M324.6 381.6h0M278.9 354.9h0M231.8 393.4h0M319.6 363.5h0M272.1 348.0h0M312.6 450.0h0M311.8 399.5h0M329.9 432.5h0M300.9 425.6h0M300.6 424.6h0M298.2 355.5h0M226.5 454.1h0M314.9 431.8h0M203.1 380.6h0M302.8 448.0h0M217.7 420.7h0M267.7 431.3h0M282.8 434.1h0M191.9 453.5h0M313.8 407.0h0M277.5 350.0h0M219.0 365.6h0M216.9 422.4h0M209.0 370.8h0M314.1 379.4h0M213.7 447.9h0M191.2 418.1h0M190.1 417.5h0M262.3 360.6h0M212.1 383.7h0M285.4 408.8h0M322.1 441.3h0M217.6 354.6h0M280.0 369.1h0M186.0 378.5h0M322.5 403.3h0M215.8 430.7h0M231.7 463.8h0M194.0 359.7h0M249.0 380.6h0M294.5 374.0h0M295.1 371.9h0M303.2 343.6h0M206.5 437.4h0M228.9 440.0h0M228.6 441.5h0M291.2 410.8h0M214.4 360.8h0M330.8 357.6h0M240.1 358.8h0M231.5 345.3h0M199.7 378.6h0M243.1 357.7h0M212.5 364.0h0M292.3 436.0h0M192.3 345.1h0M263.3 390.6h0M219.1 406.8h0M322.6 423.0h0M299.7 441.5h0M278.1 419.5h0M217.9 360.5h0M255.0 367.4h0M301.9 416.3h0M323.5 406.8h0M193.8 463.3h0M252.7 369.4h0M278.3 410.2h0M194.8 375.5h0M196.0 374.5h0M327.3 379.9h0M186.5 413.5h0M206.9 353.5h0M196.3 460.6h0M238.3 362.5h0M235.4 443.3h0M233.9 442.2h0M218.3 369.0h0M323.0 444.3h0M257.3 441.9h0M270.3 368.8h0M272.2 368.1h0M303.2 435.8h0M305.7 412.8h0M187.6 417.6h0M278.7 395.4h0M306.9 435.7h0M324.9 404.9h0M281.0 381.2h0M205.2 461.7h0M317.2 450.5h0M248.1 452.5h0M238.4 363.6h0M333.0 357.4h0M275.0 354.7h0M293.9 358.1h0M281.9 401.7h0M310.0 414.0h0M230.0 392.6h0M186.8 414.5h0M248.2 384.5h0M317.8 353.5h0M208.0 436.4h0M186.6 435.4h0M208.4 365.8h0M256.4 417.3h0M193.6 430.6h0M299.8 428.8h0M282.5 343.4h0M207.3 354.7h0M289.4 452.4h0M226.7 462.7h0M186.8 359.9h0M190.7 441.4h0M201.5 399.5h0M302.7 367.6h0M318.8 400.6h0M320.1 399.6h0M328.7 361.1h0M329.8 362.1h0M305.8 364.4h0M229.3 446.3h0M193.8 344.9h0M333.0 361.4h0M331.3 344.3h0M333.1 344.3h0M262.7 344.3h0M262.6 342.9h0M231.3 396.0h0M321.4 389.1h0M242.2 446.3h0M206.4 405.0h0M202.1 367.8h0M200.3 451.2h0M224.1 356.7h0M316.5 360.6h0M321.4 369.9h0M329.0 351.5h0M331.3 393.7h0M332.4 415.0h0M237.9 416.6h0M225.7 352.8h0M209.0 393.0h0M221.0 404.2h0M225.7 373.0h0M265.5 389.7h0M234.4 457.5h0M234.7 456.2h0M334.0 360.4h0M332.6 361.6h0M230.5 426.3h0M271.0 379.6h0M326.9 424.7h0M316.8 395.5h0M235.7 436.6h0M280.5 348.2h0M192.4 362.7h0M295.2 405.8h0M304.1 375.8h0M288.8 419.7h0M188.8 401.8h0M322.2 429.5h0M232.0 432.7h0M196.8 359.8h0M205.9 346.2h0M188.1 379.0h0M309.6 365.6h0M289.0 461.0h0M320.0 414.2h0M193.1 359.7h0M192.2 406.6h0M192.0 405.4h0M289.9 404.5h0M291.7 403.3h0M269.5 413.9h0M190.8 372.1h0M280.8 436.9h0M282.3 437.2h0M212.9 377.0h0M212.0 378.5h0M225.4 378.7h0M223.4 377.8h0M241.4 385.3h0M197.9 408.6h0M227.1 370.2h0M227.8 371.6h0M232.0 453.1h0M246.1 400.4h0M190.7 402.5h0M327.9 360.5h0M324.6 357.5h0M186.1 376.8h0M289.1 443.0h0M280.4 424.3h0M311.9 434.6h0M330.3 411.6h0M214.0 405.3h0M310.0 344.9h0M196.4 404.6h0M321.8 451.0h0M311.2 372.2h0M288.1 397.2h0M309.6 428.2h0M262.2 361.5h0M315.4 384.9h0M314.2 386.5h0M265.5 366.5h0M301.6 404.2h0M335.0 410.2h0M232.2 451.3h0M232.5 396.8h0M287.7 423.5h0M286.9 422.5h0M272.9 353.7h0M217.6 452.7h0M309.0 353.2h0M244.6 352.2h0M245.0 354.2h0M282.9 347.0h0M206.0 390.2h0M205.8 388.1h0M255.0 355.4h0M226.0 382.1h0M331.0 402.3h0M230.4 436.9h0M196.2 398.5h0M276.1 430.0h0M212.1 411.0h0M333.8 344.0h0M335.1 343.1h0M188.6 420.3h0M232.2 349.2h0M312.1 378.2h0M298.8 413.0h0M298.5 411.9h0M217.3 425.4h0M188.5 358.1h0M219.7 385.3h0M192.0 373.5h0M191.6 366.3h0M188.1 460.7h0" stroke-width="2.3"/><path d="M195.5 356.9h0M198.5 428.2h0M258.4 372.7h0M277.2 350.2h0M288.4 350.2h0M211.6 437.5h0M311.8 361.0h0M225.6 389.0h0M211.6 394.2h0M236.1 435.8h0M308.9 433.0h0M311.9 375.9h0M326.9 343.4h0M331.6 420.6h0M229.2 458.9h0M332.6 345.8h0M194.1 432.7h0M271.5 366.6h0M224.9 371.2h0M224.3 372.9h0M193.2 407.0h0M196.5 426.3h0M330.8 363.5h0M321.6 383.6h0M265.7 375.5h0M308.2 437.1h0M248.4 378.8h0M331.6 382.9h0M266.1 361.6h0M303.6 359.7h0M304.5 358.1h0M304.5 415.5h0M188.5 437.9h0M271.5 355.8h0M235.4 407.9h0M324.2 381.0h0M273.1 376.7h0M252.4 463.2h0M210.5 376.5h0M265.3 450.2h0M231.9 462.8h0M253.4 370.7h0M279.9 410.9h0M195.2 461.7h0M192.8 345.1h0M306.5 398.1h0M307.6 416.4h0M307.6 418.3h0M285.2 459.6h0M333.1 413.5h0M225.5 354.9h0M322.5 378.4h0M306.4 432.4h0M305.8 362.3h0M195.4 344.0h0M240.9 446.1h0M324.8 375.8h0M191.6 364.3h0M208.9 410.7h0M217.2 422.7h0M297.0 358.8h0M289.7 462.7h0M301.6 350.1h0M218.0 392.8h0M261.5 361.9h0M241.0 362.0h0M256.4 408.3h0M258.2 418.9h0M201.4 414.6h0M203.2 413.3h0M325.0 419.3h0" stroke-width="2.9"/><path d="M278.0 351.2h0M327.8 397.2h0M248.0 426.8h0M282.7 403.8h0M226.9 390.7h0M260.5 436.0h0M235.1 434.5h0M222.6 399.8h0M213.8 423.8h0M253.2 370.5h0M282.1 400.4h0M246.7 379.8h0M281.7 349.0h0M259.1 388.2h0M196.7 372.2h0M286.3 362.1h0M221.2 438.6h0M305.1 414.0h0M325.8 381.8h0M208.5 376.3h0M290.1 411.0h0M320.7 365.4h0M252.2 420.6h0M208.5 375.9h0M267.7 353.9h0M280.4 345.3h0M322.1 438.8h0M215.0 446.5h0M333.2 411.5h0M323.1 380.1h0M194.8 415.4h0M218.3 361.1h0M313.1 423.1h0M240.6 364.2h0M333.6 399.0h0M226.8 385.1h0" stroke-width="3.6"/></g></g>
<rect x="187.00" y="436.80" width="39.00" height="26.00" fill="#fff" stroke="none" stroke-width="0"/>
<rect x="187.0" y="344.0" width="147.2" height="118.8" fill="none" stroke="#707070" stroke-width="1.2"/>
<text x="193.50" y="454.80" font-size="12.5" text-anchor="start" font-weight="normal" font-style="normal" fill="#222" stroke="#222" >CP</text>
<text x="40.30" y="217.40" font-size="9.6" text-anchor="start" font-weight="normal" font-style="normal" fill="#1a1a3a" stroke="#1a1a3a" >25&#956;m</text>
<line x1="42.40" y1="223.90" x2="58.60" y2="223.90" stroke="#223" stroke-width="1.1" />
<text x="40.30" y="359.80" font-size="9.6" text-anchor="start" font-weight="normal" font-style="normal" fill="#1a1a3a" stroke="#1a1a3a" >25&#956;m</text>
<line x1="42.40" y1="365.80" x2="58.60" y2="365.80" stroke="#223" stroke-width="1.1" /></svg>
</body></html>
